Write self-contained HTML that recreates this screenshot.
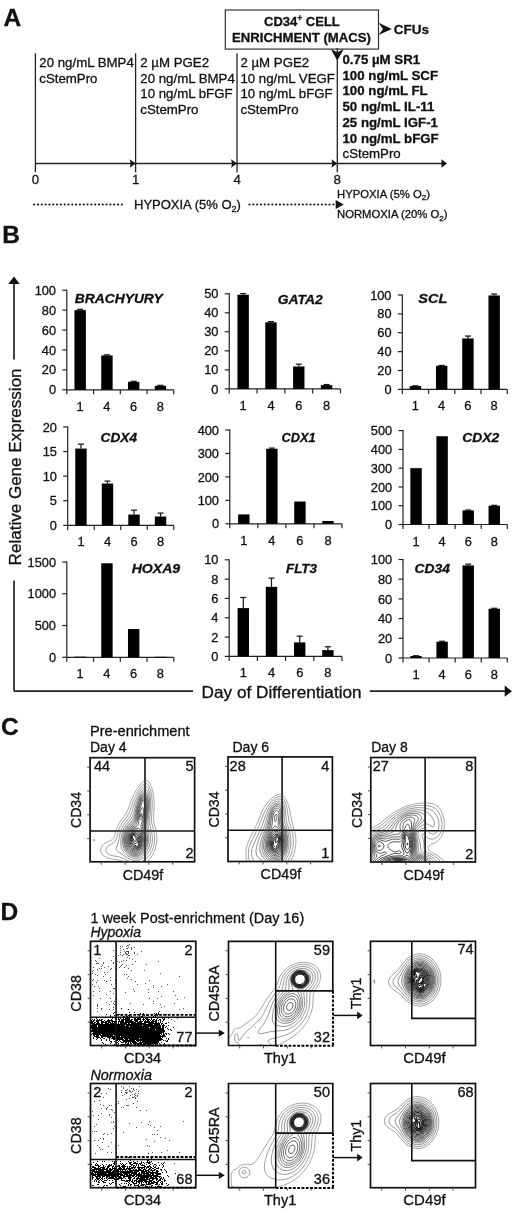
<!DOCTYPE html>
<html><head><meta charset="utf-8"><style>
html,body{margin:0;padding:0;background:#fff;}
svg{display:block;filter:grayscale(1);}
svg text{font-family:"Liberation Sans", sans-serif;fill:#111;stroke:#111;stroke-width:0.3px;}
</style></head><body>
<svg width="520" height="1214" viewBox="0 0 520 1214">
<rect width="520" height="1214" fill="#fff"/>
<text x="3.5" y="25.9" font-size="24.5" font-weight="bold">A</text>
<line x1="35.4" y1="53.3" x2="35.4" y2="172.3" stroke="#222" stroke-width="1.3"/>
<line x1="135.6" y1="53.3" x2="135.6" y2="172.3" stroke="#222" stroke-width="1.3"/>
<line x1="237.0" y1="53.3" x2="237.0" y2="172.3" stroke="#222" stroke-width="1.3"/>
<line x1="337.3" y1="48" x2="337.3" y2="172.3" stroke="#222" stroke-width="1.3"/>
<line x1="35.4" y1="163.5" x2="442" y2="163.5" stroke="#222" stroke-width="1.3"/>
<path d="M135.6,163.5 L129.6,159.2 L130.79999999999998,163.5 L129.6,167.8 Z" fill="#111"/>
<path d="M237.0,163.5 L231.0,159.2 L232.2,163.5 L231.0,167.8 Z" fill="#111"/>
<path d="M337.3,163.5 L331.3,159.2 L332.5,163.5 L331.3,167.8 Z" fill="#111"/>
<path d="M447,163.5 L441.5,159.3 L441.5,167.7 Z" fill="#111"/>
<text x="35.5" y="184" font-size="13.25" text-anchor="middle">0</text>
<text x="135.8" y="184" font-size="13.25" text-anchor="middle">1</text>
<text x="237.1" y="184" font-size="13.25" text-anchor="middle">4</text>
<text x="337.3" y="184" font-size="13.25" text-anchor="middle">8</text>
<text x="39.3" y="67.0" font-size="13.25">20 ng/mL BMP4</text>
<text x="39.3" y="82.6" font-size="13.25">cStemPro</text>
<text x="140.3" y="67.1" font-size="13.25">2 µM PGE2</text>
<text x="140.3" y="82.7" font-size="13.25">20 ng/mL BMP4</text>
<text x="140.3" y="98.3" font-size="13.25">10 ng/mL bFGF</text>
<text x="140.3" y="113.9" font-size="13.25">cStemPro</text>
<text x="240.4" y="67.0" font-size="13.25">2 µM PGE2</text>
<text x="240.4" y="82.6" font-size="13.25">10 ng/mL VEGF</text>
<text x="240.4" y="98.2" font-size="13.25">10 ng/mL bFGF</text>
<text x="240.4" y="113.8" font-size="13.25">cStemPro</text>
<text x="342.5" y="63.8" font-size="13.25" font-weight="bold">0.75 µM SR1</text>
<text x="342.5" y="79.55" font-size="13.25" font-weight="bold">100 ng/mL SCF</text>
<text x="342.5" y="95.3" font-size="13.25" font-weight="bold">100 ng/mL FL</text>
<text x="342.5" y="111.05" font-size="13.25" font-weight="bold">50 ng/mL IL-11</text>
<text x="342.5" y="126.8" font-size="13.25" font-weight="bold">25 ng/mL IGF-1</text>
<text x="342.5" y="142.55" font-size="13.25" font-weight="bold">10 ng/mL bFGF</text>
<text x="342.5" y="158.3" font-size="13.25">cStemPro</text>
<rect x="225.3" y="10" width="153.2" height="39.1" fill="none" stroke="#333" stroke-width="1.2"/>
<text x="264" y="26.2" font-size="13" font-weight="bold">CD34<tspan font-size="8.5" dy="-5">+</tspan><tspan dy="5"> CELL</tspan></text>
<text x="232" y="42.2" font-size="13" font-weight="bold" textLength="139" lengthAdjust="spacingAndGlyphs">ENRICHMENT (MACS)</text>
<path d="M378.5,22.7 L391.8,28.9 L378.5,35.1 L383.0,28.9 Z" fill="#111"/>
<text x="393.8" y="33.8" font-size="13.5" font-weight="bold">CFUs</text>
<path d="M330.90000000000003,49.3 L337.3,60.5 L343.7,49.3 L337.3,52.3 Z" fill="#111"/>
<line x1="34.2" y1="204.5" x2="125.5" y2="204.5" stroke="#111" stroke-width="2.1" stroke-linecap="round" stroke-dasharray="0.01,3.8"/>
<text x="134" y="209.4" font-size="13">HYPOXIA (5% O<tspan font-size="9" dy="3">2</tspan><tspan dy="-3">)</tspan></text>
<line x1="249.5" y1="204.5" x2="336" y2="204.5" stroke="#111" stroke-width="2.1" stroke-linecap="round" stroke-dasharray="0.01,3.8"/>
<path d="M343.7,204.5 L335.7,200.0 L335.7,209.0 Z" fill="#111"/>
<text x="337" y="197.5" font-size="11.3">HYPOXIA (5% O<tspan font-size="8" dy="2.5">2</tspan><tspan dy="-2.5">)</tspan></text>
<text x="337" y="218" font-size="11.3">NORMOXIA (20% O<tspan font-size="8" dy="2.5">2</tspan><tspan dy="-2.5">)</tspan></text>
<text x="2.2" y="243.4" font-size="24.5" font-weight="bold">B</text>
<line x1="14.0" y1="284" x2="14.0" y2="359.6" stroke="#222" stroke-width="1.7"/>
<path d="M14.0,276.5 L8.3,284 L19.7,284 Z" fill="#111"/>
<text transform="translate(20.6,565.4) rotate(-90)" font-size="16.5" textLength="197" lengthAdjust="spacingAndGlyphs">Relative Gene Expression</text>
<line x1="14.0" y1="580.4" x2="14.0" y2="691.2" stroke="#222" stroke-width="1.7"/>
<line x1="14.0" y1="691.2" x2="193" y2="691.2" stroke="#222" stroke-width="1.7"/>
<text x="201.6" y="698.2" font-size="16.5" textLength="160" lengthAdjust="spacingAndGlyphs">Day of Differentiation</text>
<line x1="369.8" y1="691.2" x2="506" y2="691.2" stroke="#222" stroke-width="1.7"/>
<path d="M512,691.2 L504.7,685.6 L504.7,696.8000000000001 Z" fill="#111"/>
<line x1="66.8" y1="289.7" x2="66.8" y2="389.8" stroke="#222" stroke-width="1.2"/>
<line x1="62.3" y1="389.8" x2="66.8" y2="389.8" stroke="#222" stroke-width="1.2"/>
<text x="56.0" y="394.4" font-size="12.8" text-anchor="end">0</text>
<line x1="62.3" y1="369.88" x2="66.8" y2="369.88" stroke="#222" stroke-width="1.2"/>
<text x="56.0" y="374.48" font-size="12.8" text-anchor="end">20</text>
<line x1="62.3" y1="349.96" x2="66.8" y2="349.96" stroke="#222" stroke-width="1.2"/>
<text x="56.0" y="354.56" font-size="12.8" text-anchor="end">40</text>
<line x1="62.3" y1="330.04" x2="66.8" y2="330.04" stroke="#222" stroke-width="1.2"/>
<text x="56.0" y="334.64" font-size="12.8" text-anchor="end">60</text>
<line x1="62.3" y1="310.12" x2="66.8" y2="310.12" stroke="#222" stroke-width="1.2"/>
<text x="56.0" y="314.72" font-size="12.8" text-anchor="end">80</text>
<line x1="62.3" y1="290.2" x2="66.8" y2="290.2" stroke="#222" stroke-width="1.2"/>
<text x="56.0" y="294.8" font-size="12.8" text-anchor="end">100</text>
<line x1="66.8" y1="389.8" x2="173.8" y2="389.8" stroke="#222" stroke-width="1.2"/>
<line x1="66.8" y1="389.8" x2="66.8" y2="394.3" stroke="#222" stroke-width="1.2"/>
<line x1="93.55" y1="389.8" x2="93.55" y2="394.3" stroke="#222" stroke-width="1.2"/>
<line x1="120.30000000000001" y1="389.8" x2="120.30000000000001" y2="394.3" stroke="#222" stroke-width="1.2"/>
<line x1="147.05" y1="389.8" x2="147.05" y2="394.3" stroke="#222" stroke-width="1.2"/>
<line x1="173.8" y1="389.8" x2="173.8" y2="394.3" stroke="#222" stroke-width="1.2"/>
<rect x="74.47" y="310.12" width="11.4" height="79.68" fill="#000"/>
<line x1="80.17" y1="310.12" x2="80.17" y2="309.32" stroke="#111" stroke-width="1.2"/>
<line x1="77.17" y1="309.32" x2="83.17" y2="309.32" stroke="#111" stroke-width="1.2"/>
<text x="80.17" y="410.8" font-size="12.8" text-anchor="middle">1</text>
<rect x="101.23" y="355.44" width="11.4" height="34.36" fill="#000"/>
<line x1="106.93" y1="355.44" x2="106.93" y2="354.84" stroke="#111" stroke-width="1.2"/>
<line x1="103.93" y1="354.84" x2="109.93" y2="354.84" stroke="#111" stroke-width="1.2"/>
<text x="106.93" y="410.8" font-size="12.8" text-anchor="middle">4</text>
<rect x="127.98" y="381.83" width="11.4" height="7.97" fill="#000"/>
<line x1="133.68" y1="381.83" x2="133.68" y2="381.33" stroke="#111" stroke-width="1.2"/>
<line x1="130.68" y1="381.33" x2="136.68" y2="381.33" stroke="#111" stroke-width="1.2"/>
<text x="133.68" y="410.8" font-size="12.8" text-anchor="middle">6</text>
<rect x="154.73" y="385.82" width="11.4" height="3.98" fill="#000"/>
<line x1="160.43" y1="385.82" x2="160.43" y2="385.32" stroke="#111" stroke-width="1.2"/>
<line x1="157.43" y1="385.32" x2="163.43" y2="385.32" stroke="#111" stroke-width="1.2"/>
<text x="160.43" y="410.8" font-size="12.8" text-anchor="middle">8</text>
<text x="74.8" y="303" font-size="13" font-weight="bold" font-style="italic" textLength="88" lengthAdjust="spacingAndGlyphs">BRACHYURY</text>
<line x1="229.25" y1="293.3" x2="229.25" y2="388.9" stroke="#222" stroke-width="1.2"/>
<line x1="224.75" y1="388.9" x2="229.25" y2="388.9" stroke="#222" stroke-width="1.2"/>
<text x="218.45" y="393.5" font-size="12.8" text-anchor="end">0</text>
<line x1="224.75" y1="369.88" x2="229.25" y2="369.88" stroke="#222" stroke-width="1.2"/>
<text x="218.45" y="374.48" font-size="12.8" text-anchor="end">10</text>
<line x1="224.75" y1="350.86" x2="229.25" y2="350.86" stroke="#222" stroke-width="1.2"/>
<text x="218.45" y="355.46" font-size="12.8" text-anchor="end">20</text>
<line x1="224.75" y1="331.84000000000003" x2="229.25" y2="331.84000000000003" stroke="#222" stroke-width="1.2"/>
<text x="218.45" y="336.44" font-size="12.8" text-anchor="end">30</text>
<line x1="224.75" y1="312.82" x2="229.25" y2="312.82" stroke="#222" stroke-width="1.2"/>
<text x="218.45" y="317.42" font-size="12.8" text-anchor="end">40</text>
<line x1="224.75" y1="293.8" x2="229.25" y2="293.8" stroke="#222" stroke-width="1.2"/>
<text x="218.45" y="298.4" font-size="12.8" text-anchor="end">50</text>
<line x1="229.25" y1="388.9" x2="340.5" y2="388.9" stroke="#222" stroke-width="1.2"/>
<line x1="229.25" y1="388.9" x2="229.25" y2="393.4" stroke="#222" stroke-width="1.2"/>
<line x1="257.0625" y1="388.9" x2="257.0625" y2="393.4" stroke="#222" stroke-width="1.2"/>
<line x1="284.875" y1="388.9" x2="284.875" y2="393.4" stroke="#222" stroke-width="1.2"/>
<line x1="312.6875" y1="388.9" x2="312.6875" y2="393.4" stroke="#222" stroke-width="1.2"/>
<line x1="340.5" y1="388.9" x2="340.5" y2="393.4" stroke="#222" stroke-width="1.2"/>
<rect x="237.46" y="294.75" width="11.4" height="94.15" fill="#000"/>
<line x1="243.16" y1="294.75" x2="243.16" y2="293.61" stroke="#111" stroke-width="1.2"/>
<line x1="240.16" y1="293.61" x2="246.16" y2="293.61" stroke="#111" stroke-width="1.2"/>
<text x="243.16" y="409.9" font-size="12.8" text-anchor="middle">1</text>
<rect x="265.27" y="322.33" width="11.4" height="66.57" fill="#000"/>
<line x1="270.97" y1="322.33" x2="270.97" y2="321.57" stroke="#111" stroke-width="1.2"/>
<line x1="267.97" y1="321.57" x2="273.97" y2="321.57" stroke="#111" stroke-width="1.2"/>
<text x="270.97" y="409.9" font-size="12.8" text-anchor="middle">4</text>
<rect x="293.08" y="366.46" width="11.4" height="22.44" fill="#000"/>
<line x1="298.78" y1="366.46" x2="298.78" y2="364.17" stroke="#111" stroke-width="1.2"/>
<line x1="295.78" y1="364.17" x2="301.78" y2="364.17" stroke="#111" stroke-width="1.2"/>
<text x="298.78" y="409.9" font-size="12.8" text-anchor="middle">6</text>
<rect x="320.89" y="385.10" width="11.4" height="3.80" fill="#000"/>
<line x1="326.59" y1="385.10" x2="326.59" y2="384.53" stroke="#111" stroke-width="1.2"/>
<line x1="323.59" y1="384.53" x2="329.59" y2="384.53" stroke="#111" stroke-width="1.2"/>
<text x="326.59" y="409.9" font-size="12.8" text-anchor="middle">8</text>
<text x="277.8" y="303.7" font-size="13" font-weight="bold" font-style="italic" textLength="45" lengthAdjust="spacingAndGlyphs">GATA2</text>
<line x1="402.3" y1="294.5" x2="402.3" y2="389.4" stroke="#222" stroke-width="1.2"/>
<line x1="397.8" y1="389.4" x2="402.3" y2="389.4" stroke="#222" stroke-width="1.2"/>
<text x="391.5" y="394.0" font-size="12.8" text-anchor="end">0</text>
<line x1="397.8" y1="370.52" x2="402.3" y2="370.52" stroke="#222" stroke-width="1.2"/>
<text x="391.5" y="375.12" font-size="12.8" text-anchor="end">20</text>
<line x1="397.8" y1="351.64" x2="402.3" y2="351.64" stroke="#222" stroke-width="1.2"/>
<text x="391.5" y="356.24" font-size="12.8" text-anchor="end">40</text>
<line x1="397.8" y1="332.76" x2="402.3" y2="332.76" stroke="#222" stroke-width="1.2"/>
<text x="391.5" y="337.36" font-size="12.8" text-anchor="end">60</text>
<line x1="397.8" y1="313.88" x2="402.3" y2="313.88" stroke="#222" stroke-width="1.2"/>
<text x="391.5" y="318.48" font-size="12.8" text-anchor="end">80</text>
<line x1="397.8" y1="295.0" x2="402.3" y2="295.0" stroke="#222" stroke-width="1.2"/>
<text x="391.5" y="299.6" font-size="12.8" text-anchor="end">100</text>
<line x1="402.3" y1="389.4" x2="507.3" y2="389.4" stroke="#222" stroke-width="1.2"/>
<line x1="402.3" y1="389.4" x2="402.3" y2="393.9" stroke="#222" stroke-width="1.2"/>
<line x1="428.55" y1="389.4" x2="428.55" y2="393.9" stroke="#222" stroke-width="1.2"/>
<line x1="454.8" y1="389.4" x2="454.8" y2="393.9" stroke="#222" stroke-width="1.2"/>
<line x1="481.05" y1="389.4" x2="481.05" y2="393.9" stroke="#222" stroke-width="1.2"/>
<line x1="507.3" y1="389.4" x2="507.3" y2="393.9" stroke="#222" stroke-width="1.2"/>
<rect x="409.73" y="386.10" width="11.4" height="3.30" fill="#000"/>
<line x1="415.43" y1="386.10" x2="415.43" y2="385.81" stroke="#111" stroke-width="1.2"/>
<line x1="412.43" y1="385.81" x2="418.43" y2="385.81" stroke="#111" stroke-width="1.2"/>
<text x="415.43" y="410.4" font-size="12.8" text-anchor="middle">1</text>
<rect x="435.98" y="365.80" width="11.4" height="23.60" fill="#000"/>
<line x1="441.68" y1="365.80" x2="441.68" y2="365.42" stroke="#111" stroke-width="1.2"/>
<line x1="438.68" y1="365.42" x2="444.68" y2="365.42" stroke="#111" stroke-width="1.2"/>
<text x="441.68" y="410.4" font-size="12.8" text-anchor="middle">4</text>
<rect x="462.23" y="338.42" width="11.4" height="50.98" fill="#000"/>
<line x1="467.93" y1="338.42" x2="467.93" y2="336.06" stroke="#111" stroke-width="1.2"/>
<line x1="464.93" y1="336.06" x2="470.93" y2="336.06" stroke="#111" stroke-width="1.2"/>
<text x="467.93" y="410.4" font-size="12.8" text-anchor="middle">6</text>
<rect x="488.48" y="295.47" width="11.4" height="93.93" fill="#000"/>
<line x1="494.18" y1="295.47" x2="494.18" y2="294.06" stroke="#111" stroke-width="1.2"/>
<line x1="491.18" y1="294.06" x2="497.18" y2="294.06" stroke="#111" stroke-width="1.2"/>
<text x="494.18" y="410.4" font-size="12.8" text-anchor="middle">8</text>
<text x="418.3" y="303.2" font-size="13" font-weight="bold" font-style="italic" textLength="29" lengthAdjust="spacingAndGlyphs">SCL</text>
<line x1="67.7" y1="426.4" x2="67.7" y2="525.4" stroke="#222" stroke-width="1.2"/>
<line x1="63.2" y1="525.4" x2="67.7" y2="525.4" stroke="#222" stroke-width="1.2"/>
<text x="56.900000000000006" y="530.0" font-size="12.8" text-anchor="end">0</text>
<line x1="63.2" y1="500.775" x2="67.7" y2="500.775" stroke="#222" stroke-width="1.2"/>
<text x="56.900000000000006" y="505.38" font-size="12.8" text-anchor="end">5</text>
<line x1="63.2" y1="476.15" x2="67.7" y2="476.15" stroke="#222" stroke-width="1.2"/>
<text x="56.900000000000006" y="480.75" font-size="12.8" text-anchor="end">10</text>
<line x1="63.2" y1="451.525" x2="67.7" y2="451.525" stroke="#222" stroke-width="1.2"/>
<text x="56.900000000000006" y="456.12" font-size="12.8" text-anchor="end">15</text>
<line x1="63.2" y1="426.9" x2="67.7" y2="426.9" stroke="#222" stroke-width="1.2"/>
<text x="56.900000000000006" y="431.5" font-size="12.8" text-anchor="end">20</text>
<line x1="67.7" y1="525.4" x2="173.8" y2="525.4" stroke="#222" stroke-width="1.2"/>
<line x1="67.7" y1="525.4" x2="67.7" y2="529.9" stroke="#222" stroke-width="1.2"/>
<line x1="94.22500000000001" y1="525.4" x2="94.22500000000001" y2="529.9" stroke="#222" stroke-width="1.2"/>
<line x1="120.75" y1="525.4" x2="120.75" y2="529.9" stroke="#222" stroke-width="1.2"/>
<line x1="147.275" y1="525.4" x2="147.275" y2="529.9" stroke="#222" stroke-width="1.2"/>
<line x1="173.8" y1="525.4" x2="173.8" y2="529.9" stroke="#222" stroke-width="1.2"/>
<rect x="75.26" y="448.57" width="11.4" height="76.83" fill="#000"/>
<line x1="80.96" y1="448.57" x2="80.96" y2="444.14" stroke="#111" stroke-width="1.2"/>
<line x1="77.96" y1="444.14" x2="83.96" y2="444.14" stroke="#111" stroke-width="1.2"/>
<text x="80.96" y="546.4" font-size="12.8" text-anchor="middle">1</text>
<rect x="101.79" y="483.54" width="11.4" height="41.86" fill="#000"/>
<line x1="107.49" y1="483.54" x2="107.49" y2="481.07" stroke="#111" stroke-width="1.2"/>
<line x1="104.49" y1="481.07" x2="110.49" y2="481.07" stroke="#111" stroke-width="1.2"/>
<text x="107.49" y="546.4" font-size="12.8" text-anchor="middle">4</text>
<rect x="128.31" y="514.56" width="11.4" height="10.84" fill="#000"/>
<line x1="134.01" y1="514.56" x2="134.01" y2="510.13" stroke="#111" stroke-width="1.2"/>
<line x1="131.01" y1="510.13" x2="137.01" y2="510.13" stroke="#111" stroke-width="1.2"/>
<text x="134.01" y="546.4" font-size="12.8" text-anchor="middle">6</text>
<rect x="154.84" y="516.53" width="11.4" height="8.87" fill="#000"/>
<line x1="160.54" y1="516.53" x2="160.54" y2="513.09" stroke="#111" stroke-width="1.2"/>
<line x1="157.54" y1="513.09" x2="163.54" y2="513.09" stroke="#111" stroke-width="1.2"/>
<text x="160.54" y="546.4" font-size="12.8" text-anchor="middle">8</text>
<text x="100.6" y="441.7" font-size="13" font-weight="bold" font-style="italic" textLength="36.4" lengthAdjust="spacingAndGlyphs">CDX4</text>
<line x1="229.8" y1="429.5" x2="229.8" y2="523.8" stroke="#222" stroke-width="1.2"/>
<line x1="225.3" y1="523.8" x2="229.8" y2="523.8" stroke="#222" stroke-width="1.2"/>
<text x="219.0" y="528.4" font-size="12.8" text-anchor="end">0</text>
<line x1="225.3" y1="500.34999999999997" x2="229.8" y2="500.34999999999997" stroke="#222" stroke-width="1.2"/>
<text x="219.0" y="504.95" font-size="12.8" text-anchor="end">100</text>
<line x1="225.3" y1="476.9" x2="229.8" y2="476.9" stroke="#222" stroke-width="1.2"/>
<text x="219.0" y="481.5" font-size="12.8" text-anchor="end">200</text>
<line x1="225.3" y1="453.45" x2="229.8" y2="453.45" stroke="#222" stroke-width="1.2"/>
<text x="219.0" y="458.05" font-size="12.8" text-anchor="end">300</text>
<line x1="225.3" y1="430.0" x2="229.8" y2="430.0" stroke="#222" stroke-width="1.2"/>
<text x="219.0" y="434.6" font-size="12.8" text-anchor="end">400</text>
<line x1="229.8" y1="523.8" x2="342.0" y2="523.8" stroke="#222" stroke-width="1.2"/>
<line x1="229.8" y1="523.8" x2="229.8" y2="528.3" stroke="#222" stroke-width="1.2"/>
<line x1="257.85" y1="523.8" x2="257.85" y2="528.3" stroke="#222" stroke-width="1.2"/>
<line x1="285.9" y1="523.8" x2="285.9" y2="528.3" stroke="#222" stroke-width="1.2"/>
<line x1="313.95" y1="523.8" x2="313.95" y2="528.3" stroke="#222" stroke-width="1.2"/>
<line x1="342.0" y1="523.8" x2="342.0" y2="528.3" stroke="#222" stroke-width="1.2"/>
<rect x="238.13" y="514.42" width="11.4" height="9.38" fill="#000"/>
<text x="243.83" y="544.8" font-size="12.8" text-anchor="middle">1</text>
<rect x="266.18" y="448.76" width="11.4" height="75.04" fill="#000"/>
<line x1="271.88" y1="448.76" x2="271.88" y2="448.06" stroke="#111" stroke-width="1.2"/>
<line x1="268.88" y1="448.06" x2="274.88" y2="448.06" stroke="#111" stroke-width="1.2"/>
<text x="271.88" y="544.8" font-size="12.8" text-anchor="middle">4</text>
<rect x="294.23" y="501.52" width="11.4" height="22.28" fill="#000"/>
<text x="299.93" y="544.8" font-size="12.8" text-anchor="middle">6</text>
<rect x="322.28" y="520.99" width="11.4" height="2.81" fill="#000"/>
<text x="327.98" y="544.8" font-size="12.8" text-anchor="middle">8</text>
<text x="281.5" y="441.7" font-size="13" font-weight="bold" font-style="italic" textLength="34" lengthAdjust="spacingAndGlyphs">CDX1</text>
<line x1="403.0" y1="430.1" x2="403.0" y2="524.5" stroke="#222" stroke-width="1.2"/>
<line x1="398.5" y1="524.5" x2="403.0" y2="524.5" stroke="#222" stroke-width="1.2"/>
<text x="392.2" y="529.1" font-size="12.8" text-anchor="end">0</text>
<line x1="398.5" y1="505.72" x2="403.0" y2="505.72" stroke="#222" stroke-width="1.2"/>
<text x="392.2" y="510.32" font-size="12.8" text-anchor="end">100</text>
<line x1="398.5" y1="486.94" x2="403.0" y2="486.94" stroke="#222" stroke-width="1.2"/>
<text x="392.2" y="491.54" font-size="12.8" text-anchor="end">200</text>
<line x1="398.5" y1="468.16" x2="403.0" y2="468.16" stroke="#222" stroke-width="1.2"/>
<text x="392.2" y="472.76" font-size="12.8" text-anchor="end">300</text>
<line x1="398.5" y1="449.38" x2="403.0" y2="449.38" stroke="#222" stroke-width="1.2"/>
<text x="392.2" y="453.98" font-size="12.8" text-anchor="end">400</text>
<line x1="398.5" y1="430.6" x2="403.0" y2="430.6" stroke="#222" stroke-width="1.2"/>
<text x="392.2" y="435.2" font-size="12.8" text-anchor="end">500</text>
<line x1="403.0" y1="524.5" x2="507.3" y2="524.5" stroke="#222" stroke-width="1.2"/>
<line x1="403.0" y1="524.5" x2="403.0" y2="529.0" stroke="#222" stroke-width="1.2"/>
<line x1="429.075" y1="524.5" x2="429.075" y2="529.0" stroke="#222" stroke-width="1.2"/>
<line x1="455.15" y1="524.5" x2="455.15" y2="529.0" stroke="#222" stroke-width="1.2"/>
<line x1="481.225" y1="524.5" x2="481.225" y2="529.0" stroke="#222" stroke-width="1.2"/>
<line x1="507.3" y1="524.5" x2="507.3" y2="529.0" stroke="#222" stroke-width="1.2"/>
<rect x="410.34" y="468.16" width="11.4" height="56.34" fill="#000"/>
<text x="416.04" y="545.5" font-size="12.8" text-anchor="middle">1</text>
<rect x="436.41" y="436.23" width="11.4" height="88.27" fill="#000"/>
<text x="442.11" y="545.5" font-size="12.8" text-anchor="middle">4</text>
<rect x="462.49" y="510.42" width="11.4" height="14.08" fill="#000"/>
<line x1="468.19" y1="510.42" x2="468.19" y2="510.04" stroke="#111" stroke-width="1.2"/>
<line x1="465.19" y1="510.04" x2="471.19" y2="510.04" stroke="#111" stroke-width="1.2"/>
<text x="468.19" y="545.5" font-size="12.8" text-anchor="middle">6</text>
<rect x="488.56" y="505.72" width="11.4" height="18.78" fill="#000"/>
<line x1="494.26" y1="505.72" x2="494.26" y2="505.34" stroke="#111" stroke-width="1.2"/>
<line x1="491.26" y1="505.34" x2="497.26" y2="505.34" stroke="#111" stroke-width="1.2"/>
<text x="494.26" y="545.5" font-size="12.8" text-anchor="middle">8</text>
<text x="462.3" y="441.5" font-size="13" font-weight="bold" font-style="italic" textLength="37" lengthAdjust="spacingAndGlyphs">CDX2</text>
<line x1="66.8" y1="561.5" x2="66.8" y2="657.3" stroke="#222" stroke-width="1.2"/>
<line x1="62.3" y1="657.3" x2="66.8" y2="657.3" stroke="#222" stroke-width="1.2"/>
<text x="56.0" y="661.9" font-size="12.8" text-anchor="end">0</text>
<line x1="62.3" y1="625.5333333333333" x2="66.8" y2="625.5333333333333" stroke="#222" stroke-width="1.2"/>
<text x="56.0" y="630.13" font-size="12.8" text-anchor="end">500</text>
<line x1="62.3" y1="593.7666666666667" x2="66.8" y2="593.7666666666667" stroke="#222" stroke-width="1.2"/>
<text x="56.0" y="598.37" font-size="12.8" text-anchor="end">1000</text>
<line x1="62.3" y1="562.0" x2="66.8" y2="562.0" stroke="#222" stroke-width="1.2"/>
<text x="56.0" y="566.6" font-size="12.8" text-anchor="end">1500</text>
<line x1="66.8" y1="657.3" x2="173.8" y2="657.3" stroke="#222" stroke-width="1.2"/>
<line x1="66.8" y1="657.3" x2="66.8" y2="661.8" stroke="#222" stroke-width="1.2"/>
<line x1="93.55" y1="657.3" x2="93.55" y2="661.8" stroke="#222" stroke-width="1.2"/>
<line x1="120.30000000000001" y1="657.3" x2="120.30000000000001" y2="661.8" stroke="#222" stroke-width="1.2"/>
<line x1="147.05" y1="657.3" x2="147.05" y2="661.8" stroke="#222" stroke-width="1.2"/>
<line x1="173.8" y1="657.3" x2="173.8" y2="661.8" stroke="#222" stroke-width="1.2"/>
<rect x="74.47" y="656.66" width="11.4" height="0.64" fill="#000"/>
<text x="80.17" y="678.3" font-size="12.8" text-anchor="middle">1</text>
<rect x="101.23" y="563.27" width="11.4" height="94.03" fill="#000"/>
<text x="106.93" y="678.3" font-size="12.8" text-anchor="middle">4</text>
<rect x="127.98" y="629.03" width="11.4" height="28.27" fill="#000"/>
<text x="133.68" y="678.3" font-size="12.8" text-anchor="middle">6</text>
<rect x="154.73" y="656.79" width="11.4" height="0.51" fill="#000"/>
<text x="160.43" y="678.3" font-size="12.8" text-anchor="middle">8</text>
<text x="131.7" y="572.6" font-size="13" font-weight="bold" font-style="italic" textLength="48.5" lengthAdjust="spacingAndGlyphs">HOXA9</text>
<line x1="229.2" y1="559.3" x2="229.2" y2="656.4" stroke="#222" stroke-width="1.2"/>
<line x1="224.7" y1="656.4" x2="229.2" y2="656.4" stroke="#222" stroke-width="1.2"/>
<text x="218.39999999999998" y="661.0" font-size="12.8" text-anchor="end">0</text>
<line x1="224.7" y1="637.0799999999999" x2="229.2" y2="637.0799999999999" stroke="#222" stroke-width="1.2"/>
<text x="218.39999999999998" y="641.68" font-size="12.8" text-anchor="end">2</text>
<line x1="224.7" y1="617.76" x2="229.2" y2="617.76" stroke="#222" stroke-width="1.2"/>
<text x="218.39999999999998" y="622.36" font-size="12.8" text-anchor="end">4</text>
<line x1="224.7" y1="598.4399999999999" x2="229.2" y2="598.4399999999999" stroke="#222" stroke-width="1.2"/>
<text x="218.39999999999998" y="603.04" font-size="12.8" text-anchor="end">6</text>
<line x1="224.7" y1="579.12" x2="229.2" y2="579.12" stroke="#222" stroke-width="1.2"/>
<text x="218.39999999999998" y="583.72" font-size="12.8" text-anchor="end">8</text>
<line x1="224.7" y1="559.8" x2="229.2" y2="559.8" stroke="#222" stroke-width="1.2"/>
<text x="218.39999999999998" y="564.4" font-size="12.8" text-anchor="end">10</text>
<line x1="229.2" y1="656.4" x2="342.0" y2="656.4" stroke="#222" stroke-width="1.2"/>
<line x1="229.2" y1="656.4" x2="229.2" y2="660.9" stroke="#222" stroke-width="1.2"/>
<line x1="257.4" y1="656.4" x2="257.4" y2="660.9" stroke="#222" stroke-width="1.2"/>
<line x1="285.6" y1="656.4" x2="285.6" y2="660.9" stroke="#222" stroke-width="1.2"/>
<line x1="313.8" y1="656.4" x2="313.8" y2="660.9" stroke="#222" stroke-width="1.2"/>
<line x1="342.0" y1="656.4" x2="342.0" y2="660.9" stroke="#222" stroke-width="1.2"/>
<rect x="237.60" y="608.10" width="11.4" height="48.30" fill="#000"/>
<line x1="243.30" y1="608.10" x2="243.30" y2="597.47" stroke="#111" stroke-width="1.2"/>
<line x1="240.30" y1="597.47" x2="246.30" y2="597.47" stroke="#111" stroke-width="1.2"/>
<text x="243.30" y="677.4" font-size="12.8" text-anchor="middle">1</text>
<rect x="265.80" y="586.85" width="11.4" height="69.55" fill="#000"/>
<line x1="271.50" y1="586.85" x2="271.50" y2="578.15" stroke="#111" stroke-width="1.2"/>
<line x1="268.50" y1="578.15" x2="274.50" y2="578.15" stroke="#111" stroke-width="1.2"/>
<text x="271.50" y="677.4" font-size="12.8" text-anchor="middle">4</text>
<rect x="294.00" y="642.39" width="11.4" height="14.01" fill="#000"/>
<line x1="299.70" y1="642.39" x2="299.70" y2="636.11" stroke="#111" stroke-width="1.2"/>
<line x1="296.70" y1="636.11" x2="302.70" y2="636.11" stroke="#111" stroke-width="1.2"/>
<text x="299.70" y="677.4" font-size="12.8" text-anchor="middle">6</text>
<rect x="322.20" y="650.12" width="11.4" height="6.28" fill="#000"/>
<line x1="327.90" y1="650.12" x2="327.90" y2="646.74" stroke="#111" stroke-width="1.2"/>
<line x1="324.90" y1="646.74" x2="330.90" y2="646.74" stroke="#111" stroke-width="1.2"/>
<text x="327.90" y="677.4" font-size="12.8" text-anchor="middle">8</text>
<text x="286" y="573" font-size="13" font-weight="bold" font-style="italic" textLength="31" lengthAdjust="spacingAndGlyphs">FLT3</text>
<line x1="403.0" y1="559.0" x2="403.0" y2="658.0" stroke="#222" stroke-width="1.2"/>
<line x1="398.5" y1="658.0" x2="403.0" y2="658.0" stroke="#222" stroke-width="1.2"/>
<text x="392.2" y="662.6" font-size="12.8" text-anchor="end">0</text>
<line x1="398.5" y1="638.3" x2="403.0" y2="638.3" stroke="#222" stroke-width="1.2"/>
<text x="392.2" y="642.9" font-size="12.8" text-anchor="end">20</text>
<line x1="398.5" y1="618.6" x2="403.0" y2="618.6" stroke="#222" stroke-width="1.2"/>
<text x="392.2" y="623.2" font-size="12.8" text-anchor="end">40</text>
<line x1="398.5" y1="598.9" x2="403.0" y2="598.9" stroke="#222" stroke-width="1.2"/>
<text x="392.2" y="603.5" font-size="12.8" text-anchor="end">60</text>
<line x1="398.5" y1="579.2" x2="403.0" y2="579.2" stroke="#222" stroke-width="1.2"/>
<text x="392.2" y="583.8" font-size="12.8" text-anchor="end">80</text>
<line x1="398.5" y1="559.5" x2="403.0" y2="559.5" stroke="#222" stroke-width="1.2"/>
<text x="392.2" y="564.1" font-size="12.8" text-anchor="end">100</text>
<line x1="403.0" y1="658.0" x2="507.3" y2="658.0" stroke="#222" stroke-width="1.2"/>
<line x1="403.0" y1="658.0" x2="403.0" y2="662.5" stroke="#222" stroke-width="1.2"/>
<line x1="429.075" y1="658.0" x2="429.075" y2="662.5" stroke="#222" stroke-width="1.2"/>
<line x1="455.15" y1="658.0" x2="455.15" y2="662.5" stroke="#222" stroke-width="1.2"/>
<line x1="481.225" y1="658.0" x2="481.225" y2="662.5" stroke="#222" stroke-width="1.2"/>
<line x1="507.3" y1="658.0" x2="507.3" y2="662.5" stroke="#222" stroke-width="1.2"/>
<rect x="410.34" y="656.03" width="11.4" height="1.97" fill="#000"/>
<line x1="416.04" y1="656.03" x2="416.04" y2="655.73" stroke="#111" stroke-width="1.2"/>
<line x1="413.04" y1="655.73" x2="419.04" y2="655.73" stroke="#111" stroke-width="1.2"/>
<text x="416.04" y="679.0" font-size="12.8" text-anchor="middle">1</text>
<rect x="436.41" y="641.75" width="11.4" height="16.25" fill="#000"/>
<line x1="442.11" y1="641.75" x2="442.11" y2="641.25" stroke="#111" stroke-width="1.2"/>
<line x1="439.11" y1="641.25" x2="445.11" y2="641.25" stroke="#111" stroke-width="1.2"/>
<text x="442.11" y="679.0" font-size="12.8" text-anchor="middle">4</text>
<rect x="462.49" y="565.41" width="11.4" height="92.59" fill="#000"/>
<line x1="468.19" y1="565.41" x2="468.19" y2="564.13" stroke="#111" stroke-width="1.2"/>
<line x1="465.19" y1="564.13" x2="471.19" y2="564.13" stroke="#111" stroke-width="1.2"/>
<text x="468.19" y="679.0" font-size="12.8" text-anchor="middle">6</text>
<rect x="488.56" y="608.75" width="11.4" height="49.25" fill="#000"/>
<line x1="494.26" y1="608.75" x2="494.26" y2="608.26" stroke="#111" stroke-width="1.2"/>
<line x1="491.26" y1="608.26" x2="497.26" y2="608.26" stroke="#111" stroke-width="1.2"/>
<text x="494.26" y="679.0" font-size="12.8" text-anchor="middle">8</text>
<text x="414.6" y="573" font-size="13" font-weight="bold" font-style="italic" textLength="35.4" lengthAdjust="spacingAndGlyphs">CD34</text>
<text x="1.1" y="734.8" font-size="24.5" font-weight="bold">C</text>
<text x="90.0" y="735.5" font-size="14" textLength="99.6" lengthAdjust="spacingAndGlyphs">Pre-enrichment</text>
<text x="90.0" y="752" font-size="14">Day 4</text>
<text x="232.5" y="751.5" font-size="14">Day 6</text>
<text x="371.2" y="751.5" font-size="14">Day 8</text>
<rect x="90.1" y="757.7" width="104.5" height="104.1" fill="none" stroke="#111" stroke-width="1.7"/>
<line x1="145.0" y1="757.7" x2="145.0" y2="861.8" stroke="#111" stroke-width="1.6"/>
<line x1="90.1" y1="831.0" x2="194.6" y2="831.0" stroke="#111" stroke-width="1.6"/>
<text x="94.0" y="770.9" font-size="14.5">44</text>
<text x="193.6" y="770.9" font-size="14.5" text-anchor="end">5</text>
<text x="193.6" y="858.3" font-size="14.5" text-anchor="end">2</text>
<text transform="translate(81.2,810.0) rotate(-90)" font-size="14.1" text-anchor="middle">CD34</text>
<text x="143.0" y="879.5999999999999" font-size="14" text-anchor="middle" textLength="40.6" lengthAdjust="spacingAndGlyphs">CD49f</text>
<rect x="228.0" y="756.9" width="104.4" height="104.6" fill="none" stroke="#111" stroke-width="1.7"/>
<line x1="282.1" y1="756.9" x2="282.1" y2="861.5" stroke="#111" stroke-width="1.6"/>
<line x1="228.0" y1="830.2" x2="332.4" y2="830.2" stroke="#111" stroke-width="1.6"/>
<text x="229.6" y="770.9" font-size="14.5">28</text>
<text x="329.3" y="770.9" font-size="14.5" text-anchor="end">4</text>
<text x="329.3" y="858.0" font-size="14.5" text-anchor="end">1</text>
<text transform="translate(219.1,809.5) rotate(-90)" font-size="14.1" text-anchor="middle">CD34</text>
<text x="280.9" y="879.3" font-size="14" text-anchor="middle" textLength="40.6" lengthAdjust="spacingAndGlyphs">CD49f</text>
<rect x="370.8" y="757.5" width="104.6" height="104.5" fill="none" stroke="#111" stroke-width="1.7"/>
<line x1="425.1" y1="757.5" x2="425.1" y2="862.0" stroke="#111" stroke-width="1.6"/>
<line x1="370.8" y1="830.7" x2="475.4" y2="830.7" stroke="#111" stroke-width="1.6"/>
<text x="372.8" y="770.9" font-size="14.5">27</text>
<text x="473.4" y="770.9" font-size="14.5" text-anchor="end">8</text>
<text x="473.4" y="858.5" font-size="14.5" text-anchor="end">2</text>
<text transform="translate(361.9,810.0) rotate(-90)" font-size="14.1" text-anchor="middle">CD34</text>
<text x="423.8" y="879.8" font-size="14" text-anchor="middle" textLength="40.6" lengthAdjust="spacingAndGlyphs">CD49f</text>
<text x="0.5" y="920.2" font-size="24.5" font-weight="bold">D</text>
<text x="90.4" y="922.7" font-size="14" textLength="213.8" lengthAdjust="spacingAndGlyphs">1 week Post-enrichment (Day 16)</text>
<text x="90.4" y="937" font-size="14" font-style="italic">Hypoxia</text>
<text x="90.4" y="1080.2" font-size="14" font-style="italic" textLength="61.5" lengthAdjust="spacingAndGlyphs">Normoxia</text>
<clipPath id="c1"><rect x="90.1" y="757.7" width="104.5" height="104.1"/></clipPath>
<g fill="none" clip-path="url(#c1)">
<path d="M137.6,865.2 134.6,865.3 131.6,864.8 128.6,863.8 122.8,861.2 120.1,860.3 117.6,859.7 111.1,858.9 108.6,858.2 106.6,857.5 103.7,855.7 101.8,853.7 100.9,851.7 100.7,850.7 100.7,849.2 100.9,848.2 101.6,846.7 102.3,845.7 103.6,844.3 106.0,842.7 111.6,839.9 112.6,839.1 113.6,838.0 114.6,835.9 116.4,829.7 118.0,825.7 120.2,821.7 125.1,815.0 127.1,811.7 128.1,809.2 131.8,798.7 134.8,792.7 138.2,787.2 141.4,783.2 142.6,782.0 144.1,780.9 145.1,780.5 146.1,780.4 147.1,780.6 148.1,781.2 149.1,782.2 150.3,784.2 151.9,788.2 153.4,794.7 154.0,798.7 154.2,803.7 154.2,807.7 153.6,816.2 153.6,819.7 154.1,823.3 155.9,830.2 156.5,833.7 156.9,838.2 156.7,842.2 156.0,846.7 154.5,851.2 152.4,855.2 150.2,858.2 147.6,860.8 144.6,862.9 141.1,864.5 137.6,865.2 M94.1,841.3 93.6,840.9 93.5,840.2 93.6,839.4 94.1,839.0 94.6,839.7 94.6,840.2 94.5,840.7 94.1,841.3" stroke="#606060" stroke-width="0.55"/>
<path d="M136.6,862.7 133.6,862.6 131.1,862.1 128.1,860.9 123.1,858.4 120.6,857.3 118.1,856.6 112.6,855.7 110.1,855.0 108.1,853.9 106.8,852.7 106.0,851.2 105.8,849.7 106.2,848.2 107.3,846.7 109.1,845.3 113.6,842.7 114.6,841.8 115.6,840.4 116.6,838.0 118.3,831.2 119.8,827.2 122.3,822.7 127.1,816.3 128.7,813.7 130.1,810.4 133.8,799.7 136.9,793.2 139.9,788.2 142.1,785.4 144.1,783.9 145.1,783.5 146.1,783.5 147.1,783.9 148.1,784.8 149.5,787.2 150.9,791.2 151.8,796.2 152.2,800.7 152.3,805.2 151.5,817.2 151.5,820.7 152.0,824.2 153.8,831.2 154.4,834.7 154.7,838.7 154.4,842.7 153.8,846.2 152.4,850.2 150.5,853.7 148.2,856.7 145.6,859.2 142.6,861.1 139.6,862.2 136.6,862.7" stroke="#5b5b5b" stroke-width="0.58"/>
<path d="M137.1,860.3 135.1,860.4 132.6,860.1 130.6,859.5 128.1,858.3 117.5,851.2 116.6,850.2 116.3,849.7 116.2,848.7 118.2,842.7 120.3,832.2 122.0,827.7 124.0,824.2 129.1,817.7 130.9,814.7 132.1,811.7 134.3,804.2 135.9,799.7 137.8,795.2 139.4,792.2 141.1,789.5 142.6,787.8 144.1,786.8 145.6,786.6 146.6,787.0 147.1,787.4 148.6,789.7 149.7,793.2 150.4,797.2 150.7,801.7 150.7,805.7 150.4,810.7 149.6,818.7 149.6,822.2 150.1,825.7 151.5,831.2 152.1,834.7 152.4,838.2 152.3,841.7 151.8,844.7 150.7,848.2 149.3,851.2 147.2,854.2 145.1,856.4 142.6,858.3 140.1,859.5 137.1,860.3" stroke="#565656" stroke-width="0.61"/>
<path d="M137.1,858.3 135.6,858.4 133.6,858.3 132.1,857.9 130.1,857.1 128.1,856.0 126.6,854.9 123.4,851.7 121.8,849.2 121.0,846.7 120.8,843.2 121.0,838.2 121.9,833.2 122.7,830.7 123.8,828.2 126.4,824.2 131.2,818.7 132.6,816.3 133.6,813.3 136.3,802.7 137.8,798.7 139.3,795.2 140.7,792.7 142.1,790.9 143.6,789.7 145.1,789.3 146.1,789.7 146.6,790.1 147.8,792.2 148.8,795.2 149.4,799.2 149.6,803.2 149.5,807.7 148.1,820.2 148.0,823.7 148.3,826.7 149.8,832.7 150.3,835.7 150.4,838.7 150.3,841.7 149.7,844.7 148.7,847.7 147.5,850.2 145.9,852.7 144.0,854.7 141.6,856.6 139.6,857.6 137.1,858.3" stroke="#515151" stroke-width="0.63"/>
<path d="M136.1,856.8 133.1,856.5 130.1,855.4 127.2,853.2 125.1,850.7 123.5,847.7 122.7,844.7 122.4,840.7 122.7,836.7 123.7,832.2 125.5,828.2 127.7,825.2 132.1,820.7 133.6,818.2 134.6,814.9 136.9,804.7 138.3,800.2 139.8,796.7 140.9,794.7 142.1,793.1 143.6,791.9 144.6,791.7 145.6,792.1 146.1,792.5 147.1,794.1 147.9,796.7 148.5,800.7 148.6,804.7 148.5,809.2 146.9,821.2 146.7,824.7 147.0,828.2 148.3,833.7 148.6,836.2 148.8,839.2 148.5,842.2 147.9,845.2 147.0,847.7 145.6,850.2 144.2,852.2 142.6,853.8 140.6,855.3 138.1,856.4 136.1,856.8" stroke="#4c4c4c" stroke-width="0.66"/>
<path d="M137.6,855.3 136.1,855.6 134.6,855.6 132.1,855.1 130.6,854.4 129.1,853.4 126.9,851.2 125.3,848.7 124.0,845.2 123.5,841.2 123.6,837.2 124.0,835.2 124.6,832.7 125.4,830.7 126.5,828.7 128.8,825.7 133.1,821.7 134.3,819.7 135.1,817.0 137.4,805.7 138.8,801.2 140.4,797.2 141.6,795.2 142.6,794.1 143.6,793.6 144.6,793.6 145.6,794.2 146.8,796.2 147.5,799.2 147.9,802.7 147.9,806.2 147.7,810.2 146.0,822.2 145.7,825.7 146.0,828.7 147.4,836.2 147.6,839.2 147.4,841.7 147.0,844.2 146.3,846.2 145.2,848.7 143.9,850.7 142.6,852.3 141.1,853.6 139.6,854.5 137.6,855.3" stroke="#474747" stroke-width="0.69"/>
<path d="M137.1,854.3 134.6,854.5 132.1,853.9 129.6,852.5 127.4,850.2 125.9,847.7 124.9,844.7 124.4,841.2 124.5,837.7 124.9,835.2 125.4,833.2 126.3,831.2 127.4,829.2 129.6,826.5 133.6,823.1 134.9,821.2 135.6,818.7 137.7,807.2 139.4,801.7 140.7,798.2 141.6,796.5 142.6,795.4 143.6,795.0 144.1,795.1 145.1,795.7 146.2,797.7 146.9,800.2 147.2,803.7 147.2,807.7 146.9,811.7 145.1,822.9 144.8,826.2 145.0,829.2 146.4,836.7 146.5,839.2 146.4,841.7 145.9,844.2 145.2,846.2 144.3,848.2 143.1,850.1 141.7,851.7 140.1,853.0 138.6,853.8 137.1,854.3" stroke="#424242" stroke-width="0.72"/>
<path d="M136.6,853.3 134.1,853.3 132.1,852.7 129.8,851.2 128.0,849.2 126.8,847.2 125.8,844.2 125.3,841.2 125.4,837.7 126.3,833.7 127.1,831.7 128.1,830.0 130.1,827.6 134.4,824.2 135.2,823.2 135.8,822.2 136.5,819.2 137.8,810.2 139.1,805.2 141.6,797.9 142.6,796.7 143.6,796.4 144.1,796.6 144.7,797.2 145.7,799.2 146.2,801.7 146.5,805.2 146.4,809.2 146.0,813.2 144.1,823.4 143.8,826.2 143.9,829.2 145.3,836.7 145.5,839.2 145.3,841.7 144.3,845.7 143.4,847.7 142.4,849.2 141.1,850.8 139.6,852.0 138.1,852.8 136.6,853.3" stroke="#3d3d3d" stroke-width="0.75"/>
<path d="M135.6,852.2 133.6,852.0 131.6,851.2 129.7,849.7 128.2,847.7 127.1,845.2 126.4,842.7 126.2,840.2 126.4,837.2 127.3,833.7 128.2,831.7 129.1,830.4 131.1,828.2 135.5,825.2 136.3,824.2 136.8,823.2 137.3,821.2 138.1,813.2 139.1,808.2 141.8,799.2 142.6,798.0 143.1,797.7 143.6,797.8 144.1,798.2 144.8,799.7 145.4,802.7 145.7,806.7 145.6,810.2 145.1,814.2 144.3,818.2 143.0,823.7 142.6,826.2 142.8,829.2 144.4,837.2 144.4,839.7 144.3,841.7 143.9,843.7 143.2,845.7 142.2,847.7 141.1,849.2 140.1,850.2 138.6,851.3 137.1,851.9 135.6,852.2" stroke="#383838" stroke-width="0.78"/>
<path d="M137.1,850.8 135.1,851.1 133.1,850.7 131.1,849.6 129.6,848.0 128.3,845.7 127.4,843.2 127.1,840.7 127.2,837.7 127.6,835.7 128.3,833.7 129.1,832.2 130.1,830.7 132.1,828.9 136.8,826.2 137.8,825.2 138.4,824.2 138.7,822.2 138.7,815.7 139.1,812.2 140.1,808.2 141.7,803.7 142.3,800.7 142.6,799.8 143.1,799.4 143.6,799.7 144.1,801.2 144.7,807.2 144.7,810.7 143.7,817.2 143.0,819.7 141.3,824.2 141.0,826.2 141.4,828.7 143.2,836.2 143.5,838.7 143.4,841.2 142.6,844.7 141.2,847.7 139.6,849.4 138.6,850.1 137.1,850.8" stroke="#333333" stroke-width="0.80"/>
<path d="M141.1,820.0 140.6,820.0 140.3,819.7 139.8,818.7 139.5,816.7 139.6,814.7 140.1,812.2 141.1,809.4 142.1,807.6 142.6,807.4 143.1,807.9 143.4,809.7 143.2,814.7 142.4,818.2 141.6,819.7 141.1,820.0 M136.6,849.8 134.6,849.9 133.1,849.5 131.6,848.6 130.2,847.2 129.0,845.2 128.3,843.2 128.0,841.2 128.0,838.7 128.3,836.7 128.8,834.7 129.8,832.7 131.0,831.2 132.6,829.9 134.1,829.1 136.6,828.3 138.1,828.1 139.1,828.5 139.6,829.0 140.3,830.2 141.2,832.2 142.3,836.2 142.5,840.2 141.9,843.7 141.3,845.7 140.6,847.2 139.1,848.8 138.1,849.3 136.6,849.8" stroke="#2e2e2e" stroke-width="0.83"/>
<path d="M141.1,817.3 140.6,816.7 140.5,815.2 141.1,813.7 141.6,813.7 141.9,814.7 141.9,815.7 141.6,816.8 141.1,817.3 M137.1,848.7 135.6,848.9 134.1,848.7 132.6,848.0 131.5,847.2 130.3,845.7 129.6,844.2 129.0,842.2 128.8,840.2 128.9,837.7 129.3,835.7 129.9,834.2 130.8,832.7 132.1,831.5 133.1,830.9 135.1,830.2 136.6,830.0 137.6,830.1 138.6,830.6 139.9,832.2 141.1,835.2 141.7,838.7 141.5,841.7 140.4,846.2 139.8,847.2 139.1,847.9 138.1,848.5 137.1,848.7" stroke="#292929" stroke-width="0.86"/>
<path d="M138.1,847.7 137.1,847.9 135.6,847.8 134.1,847.5 132.6,846.7 131.6,845.8 130.9,844.7 129.9,842.2 129.7,840.7 129.6,838.7 129.9,836.7 130.3,835.2 130.7,834.2 131.6,833.0 132.6,832.2 134.1,831.6 135.6,831.4 136.6,831.5 138.1,832.2 139.4,833.7 140.4,836.2 140.7,838.2 140.7,840.2 139.9,845.2 139.4,846.7 138.1,847.7" stroke="#242424" stroke-width="0.89"/>
<path d="M138.1,847.0 136.6,847.1 133.6,846.0 132.1,844.7 131.0,842.7 130.5,839.7 130.7,836.2 131.0,835.2 131.6,834.1 132.1,833.5 133.1,832.9 135.1,832.7 137.1,833.3 138.2,834.2 139.3,836.2 139.8,838.2 139.8,840.7 139.3,843.2 139.1,845.7 138.6,846.6 138.1,847.0" stroke="#1f1f1f" stroke-width="0.92"/>
<path d="M137.6,846.2 136.6,846.1 133.6,844.5 132.6,843.6 131.9,842.2 131.3,839.7 131.2,836.7 131.4,835.7 131.9,834.7 133.1,833.7 134.6,833.7 136.6,834.5 137.8,835.7 138.5,837.2 138.9,839.7 138.3,843.2 138.4,845.2 138.1,845.9 137.6,846.2" stroke="#1a1a1a" stroke-width="0.94"/>
<path d="M136.1,843.4 135.1,843.5 134.1,843.1 133.3,842.2 132.6,840.8 131.9,838.2 131.8,836.7 132.1,835.6 132.6,834.9 133.1,834.6 134.1,834.5 135.4,835.2 136.6,836.4 137.4,837.7 137.7,839.2 137.6,840.7 137.1,842.2 136.6,843.0 136.1,843.4" stroke="#151515" stroke-width="0.97"/>
<path d="M135.6,841.3 135.1,841.4 134.6,841.3 134.1,840.8 132.7,838.2 132.4,836.7 132.6,836.1 133.1,835.5 133.6,835.3 134.5,835.7 135.9,837.7 136.2,838.7 136.3,839.7 136.1,840.7 135.6,841.3" stroke="#101010" stroke-width="1.00"/>
</g>
<clipPath id="c2"><rect x="228.0" y="756.9" width="104.4" height="104.6"/></clipPath>
<g fill="none" clip-path="url(#c2)">
<path d="M252.4,869.9 250.1,867.9 248.5,865.5 247.2,862.4 246.3,858.9 245.9,854.9 246.0,850.9 246.7,846.9 247.9,842.9 249.8,838.4 256.5,824.8 261.7,811.9 263.2,808.9 264.7,806.4 268.2,801.9 273.0,797.2 275.0,795.8 276.5,795.0 278.0,794.4 279.5,794.3 281.0,794.5 282.0,794.9 284.0,796.5 285.7,798.9 287.8,803.4 289.6,809.9 291.8,821.4 294.9,832.4 295.6,835.9 295.9,839.4 295.9,843.9 295.3,848.4 294.3,852.9 292.8,856.9 290.9,860.9 288.6,864.4 286.1,867.4 283.4,869.9" stroke="#606060" stroke-width="0.55"/>
<path d="M263.5,869.9 254.5,866.8 252.5,865.4 251.0,863.7 250.0,862.0 249.3,860.4 248.5,856.9 248.3,852.9 248.8,848.9 249.6,845.9 250.8,842.9 258.5,826.9 263.4,814.4 265.8,809.4 269.4,803.9 272.9,799.9 274.5,798.5 276.0,797.5 277.5,796.9 279.0,796.6 281.0,797.0 282.0,797.6 283.0,798.5 284.6,800.9 285.9,803.9 287.2,809.4 289.0,821.3 291.7,830.4 292.7,834.4 293.2,838.4 293.4,841.9 293.1,845.9 292.3,850.4 290.9,854.9 289.3,858.4 286.8,862.4 284.3,865.4 281.0,868.2 278.1,869.9" stroke="#5b5b5b" stroke-width="0.58"/>
<path d="M274.5,868.0 271.0,868.2 267.5,867.6 264.5,866.4 255.4,861.9 253.7,860.4 252.5,858.4 251.7,855.4 251.5,852.4 252.1,848.9 253.2,845.4 262.0,825.8 265.8,814.9 268.2,809.4 270.9,804.9 273.9,801.4 276.5,799.5 278.0,799.0 279.0,798.9 280.0,799.1 281.0,799.6 282.4,800.9 283.6,802.9 284.6,805.9 285.4,809.9 286.0,818.4 286.4,820.9 287.0,823.5 289.3,830.4 290.4,835.4 290.9,839.4 290.9,843.9 290.3,848.4 289.2,852.4 287.6,856.4 285.5,859.9 283.1,862.9 280.5,865.3 277.5,867.0 274.5,868.0" stroke="#565656" stroke-width="0.61"/>
<path d="M274.0,865.4 271.0,865.4 268.0,864.5 264.5,862.6 261.0,859.9 258.3,857.4 256.9,855.4 256.1,852.9 256.0,850.4 256.7,846.4 258.2,841.4 260.3,835.9 264.5,826.2 267.7,814.9 269.2,810.9 271.3,806.9 274.0,803.4 275.5,802.1 276.5,801.6 277.5,801.2 278.5,801.1 280.0,801.5 281.5,802.7 282.5,804.4 283.4,806.9 284.1,811.4 284.2,818.9 284.4,821.4 285.0,823.9 287.3,829.9 288.3,833.9 289.1,838.9 289.1,843.4 288.7,846.9 287.7,850.9 286.2,854.9 284.2,858.4 282.0,861.1 279.5,863.3 277.0,864.7 274.0,865.4" stroke="#515151" stroke-width="0.63"/>
<path d="M276.0,862.9 273.5,863.3 272.0,863.2 270.5,862.9 267.5,861.4 265.0,859.5 262.7,856.9 261.0,853.9 260.0,850.9 259.8,847.9 260.2,844.4 261.1,840.4 262.3,836.9 266.4,826.4 268.7,816.4 270.2,811.9 271.8,808.4 274.0,805.4 276.0,803.7 277.0,803.2 278.0,803.0 279.5,803.3 280.5,804.1 281.5,805.6 282.3,807.9 282.7,809.9 282.9,812.4 282.8,819.9 283.0,822.4 283.5,824.4 285.8,829.9 286.9,833.4 287.6,837.9 287.8,842.4 287.4,846.4 286.7,849.4 285.7,852.4 284.3,855.4 282.5,858.1 280.5,860.3 278.5,861.8 276.0,862.9" stroke="#4c4c4c" stroke-width="0.66"/>
<path d="M276.0,861.4 273.5,861.8 271.0,861.3 268.5,860.0 266.1,857.9 264.3,855.4 262.9,852.4 262.2,849.4 262.0,845.9 262.3,842.9 263.1,839.4 264.2,835.9 267.5,827.2 268.2,824.4 269.7,816.4 270.9,812.4 272.6,808.9 274.5,806.4 276.0,805.1 277.0,804.7 278.0,804.5 279.0,804.8 280.0,805.6 280.9,806.9 281.6,808.9 282.1,812.9 281.7,820.4 281.9,822.9 282.5,824.9 284.7,829.9 285.9,833.4 286.7,837.4 286.9,841.9 286.6,845.4 285.8,848.9 284.8,851.9 283.7,854.4 282.0,857.0 280.0,859.1 278.0,860.6 276.0,861.4" stroke="#474747" stroke-width="0.69"/>
<path d="M276.0,860.0 273.5,860.3 271.5,859.9 269.5,858.8 267.4,856.9 265.7,854.4 264.6,851.9 263.9,848.9 263.6,845.4 263.9,842.4 264.7,838.4 268.9,826.4 270.3,817.9 271.3,813.9 272.6,810.9 274.1,808.4 276.0,806.6 277.5,806.1 278.5,806.3 279.5,807.1 280.3,808.4 280.8,809.9 281.2,813.9 280.7,820.9 280.8,823.4 281.4,825.4 284.2,830.9 285.2,833.9 285.9,837.9 286.0,841.9 285.8,844.9 285.2,847.9 284.3,850.9 282.9,853.9 281.1,856.4 279.5,858.1 278.0,859.2 276.0,860.0" stroke="#424242" stroke-width="0.72"/>
<path d="M276.5,858.4 274.5,858.8 272.5,858.6 270.5,857.6 268.5,855.8 266.9,853.4 265.9,850.9 265.3,847.9 265.1,844.9 265.4,841.4 266.2,837.9 270.2,826.4 271.3,818.4 272.2,814.4 273.2,811.9 274.5,809.9 276.0,808.5 277.5,808.1 278.3,808.4 279.0,809.1 279.5,810.0 279.9,811.4 280.2,814.9 279.5,821.4 279.6,823.9 280.3,825.9 282.8,830.4 284.1,833.4 284.9,836.9 285.2,841.4 285.0,844.4 284.4,847.4 283.7,849.9 282.6,852.4 281.3,854.4 280.0,856.0 278.5,857.3 276.5,858.4" stroke="#3d3d3d" stroke-width="0.75"/>
<path d="M276.5,857.0 274.5,857.3 272.5,856.9 270.7,855.9 269.3,854.4 268.0,852.4 267.1,849.9 266.5,847.4 266.4,844.4 266.7,840.9 267.6,836.9 268.7,833.9 271.3,827.9 271.9,825.9 272.2,823.9 272.5,818.4 273.1,815.4 274.0,813.2 275.0,811.6 276.0,810.7 277.0,810.5 277.5,810.6 278.2,811.4 278.7,812.4 278.9,813.9 278.9,816.9 278.0,822.9 278.2,824.9 278.9,826.4 281.9,830.9 283.1,833.4 284.1,837.4 284.4,841.4 284.2,843.9 283.8,846.4 283.1,848.9 282.0,851.4 280.8,853.4 279.5,855.0 278.0,856.2 276.5,857.0" stroke="#383838" stroke-width="0.78"/>
<path d="M275.5,821.3 275.0,821.4 274.5,820.5 274.3,818.9 274.4,817.4 274.9,815.9 275.4,814.9 276.0,814.4 276.5,814.4 277.0,815.4 277.0,817.4 276.5,819.6 275.5,821.3 M276.5,855.5 275.0,855.8 273.5,855.7 272.0,855.1 270.5,853.8 269.2,851.9 268.3,849.9 267.8,847.9 267.5,845.4 267.5,842.9 267.8,840.4 268.3,837.9 269.2,835.4 270.3,832.9 272.0,829.7 274.0,826.7 275.0,825.9 276.0,826.3 278.5,828.4 280.0,830.0 281.3,831.9 282.8,835.4 283.2,837.4 283.5,839.9 283.5,842.4 283.2,844.9 282.6,847.4 281.7,849.9 280.6,851.9 279.5,853.4 278.0,854.7 276.5,855.5" stroke="#333333" stroke-width="0.80"/>
<path d="M275.0,854.4 273.5,854.2 272.5,853.7 271.4,852.9 270.3,851.4 269.5,849.9 268.9,847.9 268.6,845.9 268.5,843.4 268.7,840.9 269.2,838.4 270.0,835.9 271.0,833.8 272.1,831.9 273.5,830.3 274.5,829.5 276.0,829.2 277.0,829.5 278.5,830.4 280.0,831.9 281.0,833.4 281.9,835.4 282.4,837.4 282.7,839.4 282.7,841.9 282.5,844.4 282.0,846.4 281.4,848.4 280.4,850.4 279.4,851.9 278.0,853.2 276.5,854.1 275.0,854.4" stroke="#2e2e2e" stroke-width="0.83"/>
<path d="M275.5,853.0 274.0,852.9 273.0,852.6 272.0,851.8 271.2,850.9 270.4,849.4 269.8,847.4 269.4,843.4 269.6,840.9 270.0,838.9 271.5,835.1 272.5,833.4 273.5,832.3 274.5,831.5 276.0,831.1 277.0,831.3 278.5,832.0 279.5,833.0 280.5,834.4 281.2,835.9 281.6,837.4 281.9,841.4 281.4,845.4 280.8,847.4 280.0,849.2 279.0,850.7 278.0,851.7 277.0,852.4 275.5,853.0" stroke="#292929" stroke-width="0.86"/>
<path d="M276.0,851.6 274.5,851.8 273.5,851.6 272.5,850.9 271.7,849.9 271.2,848.9 270.7,846.9 270.4,842.9 270.6,840.9 271.0,838.9 271.7,836.9 272.5,835.5 273.5,834.2 274.5,833.3 275.5,832.9 276.5,832.8 277.5,833.0 278.5,833.5 279.5,834.5 280.1,835.4 281.0,837.9 281.1,840.9 280.7,844.9 279.6,847.9 278.0,850.2 277.0,851.0 276.0,851.6" stroke="#242424" stroke-width="0.89"/>
<path d="M275.5,850.6 274.5,850.8 273.5,850.6 272.7,849.9 272.0,848.9 271.5,846.4 271.4,841.9 272.1,838.9 272.7,837.4 273.5,836.1 275.0,834.7 276.0,834.3 277.0,834.2 278.5,834.7 279.2,835.4 279.9,836.4 280.4,838.4 280.4,840.9 279.8,844.4 278.9,846.9 277.2,849.4 275.5,850.6" stroke="#1f1f1f" stroke-width="0.92"/>
<path d="M275.5,849.5 274.5,849.9 274.0,849.8 273.2,849.4 272.6,848.4 272.2,846.4 272.5,841.4 273.2,838.9 274.4,836.9 276.0,835.5 277.5,835.2 278.5,835.7 279.4,836.9 279.8,838.4 279.8,839.9 279.1,843.4 278.5,845.4 277.1,847.9 275.5,849.5" stroke="#1a1a1a" stroke-width="0.94"/>
<path d="M275.0,848.6 274.5,848.8 274.0,848.8 273.5,848.4 273.1,847.4 273.1,846.4 273.7,841.4 274.4,839.4 275.5,837.4 276.5,836.5 277.5,836.2 278.5,836.7 279.0,837.4 279.2,838.4 279.1,839.9 277.5,844.4 276.0,847.4 275.0,848.6" stroke="#151515" stroke-width="0.97"/>
<path d="M276.0,842.7 275.6,842.4 275.5,841.9 275.9,838.9 276.5,837.6 277.0,837.2 277.5,837.1 278.0,837.2 278.5,837.9 278.5,839.4 278.0,840.5 276.0,842.7 M274.5,847.0 274.5,846.4 274.5,847.0" stroke="#101010" stroke-width="1.00"/>
</g>
<clipPath id="c3"><rect x="370.8" y="757.5" width="104.6" height="104.5"/></clipPath>
<g fill="none" clip-path="url(#c3)">
<path d="M362.8,837.3 364.4,835.0 366.2,833.0 368.3,831.0 370.8,829.0 373.3,827.3 378.3,824.5 380.6,823.0 388.8,816.2 393.3,812.9 397.8,810.2 403.3,807.4 407.3,805.8 410.8,804.8 415.3,803.8 419.8,803.2 424.8,802.9 428.8,803.1 431.8,803.5 434.3,804.3 436.8,805.7 438.9,807.5 440.7,810.0 442.1,813.0 443.4,817.0 444.2,821.0 444.4,825.0 444.2,828.5 443.6,831.5 442.7,834.0 441.5,836.5 440.2,838.5 438.3,840.5 436.3,842.0 434.8,842.8 430.8,844.4 429.8,845.0 428.7,846.5 428.3,847.5 428.3,848.5 428.8,850.0 429.7,851.0 431.9,852.5 436.8,855.2 439.8,857.1 442.1,859.0 443.6,861.0 444.1,862.0 444.5,863.5 444.3,865.5 443.6,867.0 442.9,868.0 440.9,870.0" stroke="#606060" stroke-width="0.55"/>
<path d="M362.8,853.5 363.4,852.5 363.8,851.0 363.8,845.5 364.0,843.5 364.5,841.5 366.0,838.0 368.3,834.5 370.6,832.0 372.8,830.2 375.3,828.7 379.6,826.5 381.9,825.0 389.7,818.0 393.8,814.8 397.8,812.2 402.3,809.7 406.8,807.8 410.3,806.8 415.3,805.8 420.3,805.3 425.3,805.3 429.8,806.0 433.3,807.2 435.8,808.8 437.8,811.0 439.6,814.0 441.1,818.0 441.8,822.0 442.0,826.0 441.3,830.0 440.0,833.5 438.3,836.0 436.3,837.8 433.8,838.9 431.3,839.1 429.8,838.9 428.3,838.4 426.3,837.1 423.8,834.6 422.8,834.0 422.3,834.1 421.9,834.5 421.8,835.5 423.1,839.0 423.6,841.0 423.9,843.5 424.0,848.5 424.3,849.5 424.9,850.5 425.8,851.5 427.3,852.5 433.8,855.8 436.8,857.7 439.3,860.0 440.6,862.0 441.0,864.0 440.6,866.0 439.3,868.0 437.1,870.0" stroke="#5b5b5b" stroke-width="0.58"/>
<path d="M362.8,857.1 365.3,855.0 366.1,854.0 366.6,853.0 366.9,851.0 366.6,847.0 366.6,844.5 367.1,842.0 367.9,839.5 368.9,837.5 370.2,835.5 371.8,833.6 373.3,832.3 375.8,830.7 380.8,828.6 382.8,827.5 384.8,825.9 390.6,820.0 394.3,816.8 398.8,813.7 404.3,810.7 406.8,809.7 409.3,808.9 415.3,807.8 420.3,807.6 425.3,808.1 428.3,808.9 430.8,809.9 432.8,811.1 434.4,812.5 436.0,814.5 437.3,817.0 438.3,819.6 438.9,822.5 439.0,826.0 438.6,828.0 438.1,829.5 436.8,831.9 435.8,833.0 434.8,833.6 432.8,834.2 430.8,833.7 429.0,832.5 425.8,829.1 424.8,828.5 423.8,828.3 421.8,828.7 419.8,829.9 418.5,831.5 418.0,833.0 418.0,834.5 418.3,836.4 420.2,843.0 420.7,849.5 421.4,851.0 422.4,852.0 423.9,853.0 430.3,856.1 433.4,858.0 435.8,860.0 437.2,862.0 437.6,864.0 437.1,866.0 435.7,868.0 433.3,870.0" stroke="#565656" stroke-width="0.61"/>
<path d="M362.8,860.2 364.3,858.7 367.4,856.0 368.2,855.0 368.7,854.0 368.9,852.0 368.4,846.0 368.5,844.0 368.9,842.0 369.5,840.0 370.5,838.0 371.8,836.0 373.3,834.4 374.8,833.2 376.3,832.4 382.3,830.4 384.9,829.0 387.2,827.0 392.0,821.5 394.8,818.8 398.8,815.8 403.8,812.8 407.8,811.2 411.8,810.2 416.8,809.7 420.8,809.9 423.3,810.5 425.8,811.5 427.6,812.5 429.4,814.0 431.2,816.0 432.8,818.4 433.8,820.5 434.4,822.5 434.4,824.0 434.1,825.5 433.4,826.5 432.8,826.8 432.3,826.9 431.3,826.5 428.8,824.6 427.3,824.0 425.3,824.0 422.8,825.1 419.8,827.0 417.8,828.8 416.8,830.5 416.4,832.5 416.6,835.5 418.1,843.0 418.3,849.5 418.8,851.5 419.6,852.5 421.0,853.5 427.8,856.7 430.8,858.5 433.1,860.5 434.3,862.5 434.6,863.5 434.6,864.5 433.8,866.5 432.0,868.5 429.8,870.0 M366.1,870.0 364.3,868.8 362.8,867.4" stroke="#515151" stroke-width="0.63"/>
<path d="M369.1,870.0 366.7,868.5 365.1,867.0 364.2,865.5 363.9,864.5 363.9,863.5 364.3,862.0 365.2,860.5 369.3,856.6 370.3,855.0 370.5,853.0 369.7,847.5 369.8,844.0 370.7,840.5 371.6,838.5 372.6,837.0 374.3,835.3 376.8,833.8 378.8,833.1 383.8,832.1 385.3,831.5 386.9,830.5 389.6,828.0 393.4,823.0 395.6,820.5 398.8,817.8 402.8,815.1 405.8,813.5 408.8,812.5 412.3,811.9 415.8,811.7 419.3,812.1 421.9,813.0 423.8,814.5 424.5,815.5 424.8,816.5 424.9,817.5 424.7,818.5 423.6,820.5 421.8,822.5 417.8,826.2 416.3,828.0 415.8,829.0 415.4,830.5 415.3,833.0 416.7,842.5 416.9,845.5 416.8,850.5 417.4,852.5 418.2,853.5 418.9,854.0 425.8,857.3 428.7,859.0 430.8,861.0 431.5,862.0 431.9,863.0 432.0,864.5 431.7,865.5 431.2,866.5 429.3,868.4 426.8,870.0" stroke="#4c4c4c" stroke-width="0.66"/>
<path d="M371.4,870.0 368.9,868.5 367.2,867.0 366.2,865.5 365.9,864.5 365.8,863.5 366.0,862.5 366.8,861.0 370.7,857.0 371.6,855.5 371.8,853.5 370.7,848.0 370.6,845.0 370.9,843.0 371.5,841.0 373.1,838.0 374.8,836.2 376.8,835.0 378.8,834.4 382.8,833.9 384.9,833.5 387.3,832.5 389.7,831.0 391.8,829.0 394.9,824.0 396.9,821.5 399.8,818.8 403.3,816.2 405.8,814.9 408.3,814.0 410.8,813.5 413.8,813.3 416.8,813.6 418.8,814.2 420.6,815.5 421.4,817.0 421.4,818.5 420.6,820.5 419.2,822.5 416.3,825.7 415.2,827.5 414.5,830.0 414.4,832.5 415.9,842.5 416.0,845.5 415.9,851.0 416.3,853.0 417.1,854.0 418.3,854.9 424.3,857.7 427.2,859.5 428.8,861.0 429.5,862.0 429.9,863.0 430.0,864.0 429.9,865.0 429.1,866.5 427.3,868.3 424.5,870.0" stroke="#474747" stroke-width="0.69"/>
<path d="M373.8,870.0 371.0,868.5 369.2,867.0 368.1,865.5 367.7,864.0 367.9,862.5 368.4,861.5 369.6,860.0 372.0,857.5 372.6,856.5 373.0,855.5 372.9,853.5 371.6,848.5 371.4,845.5 372.0,842.0 372.6,840.5 373.5,839.0 375.3,837.1 377.3,836.0 379.3,835.5 383.8,835.3 385.8,835.0 389.6,833.5 393.5,831.5 394.7,830.5 395.4,829.5 396.7,825.5 397.8,823.5 399.2,821.5 401.2,819.5 403.8,817.5 406.3,816.1 408.8,815.3 411.8,815.0 414.3,815.2 416.6,816.0 417.7,817.0 418.3,818.5 418.2,819.5 417.6,821.0 415.3,824.6 414.3,826.5 413.8,828.0 413.6,829.5 413.8,833.0 414.9,840.0 415.2,843.0 415.3,846.0 415.0,851.0 415.3,853.0 416.1,854.5 417.3,855.4 423.3,858.4 425.8,860.0 427.2,861.5 427.8,862.5 428.1,863.5 428.1,864.5 427.8,865.5 426.8,867.0 424.9,868.5 422.2,870.0" stroke="#424242" stroke-width="0.72"/>
<path d="M376.4,870.0 373.3,868.5 371.3,867.0 370.2,865.5 369.7,864.0 369.8,863.0 370.5,861.5 373.8,857.5 374.6,856.0 374.6,854.5 372.9,850.0 372.4,846.5 372.4,844.5 372.7,843.0 373.2,841.5 374.1,840.0 375.8,838.1 376.8,837.5 378.3,837.0 379.8,836.8 383.8,837.0 385.3,836.9 392.3,834.9 394.8,834.4 397.8,834.2 399.3,833.6 400.1,832.5 400.5,831.0 400.0,827.0 400.1,825.0 400.7,823.5 401.5,822.0 403.3,820.0 405.8,818.2 407.8,817.4 410.3,817.1 412.3,817.4 413.5,818.0 414.4,819.0 414.7,820.0 414.5,821.5 412.9,826.5 412.6,829.0 412.8,832.0 414.1,839.0 414.5,842.5 414.5,846.0 414.1,851.5 414.4,853.5 415.1,855.0 416.3,856.0 421.8,858.9 424.2,860.5 425.5,862.0 426.0,863.5 426.0,864.5 425.7,865.5 424.6,867.0 422.6,868.5 419.5,870.0" stroke="#3d3d3d" stroke-width="0.75"/>
<path d="M379.3,870.0 376.3,868.8 374.2,867.5 372.7,866.0 371.9,864.5 371.9,863.0 372.6,861.5 376.0,857.5 376.7,856.0 376.5,854.5 374.5,851.0 373.5,848.0 373.3,846.0 373.4,844.5 373.8,843.0 374.4,841.5 375.1,840.5 376.0,839.5 377.3,838.7 378.3,838.4 380.3,838.3 383.8,838.9 385.3,838.9 386.8,838.7 392.3,837.1 394.8,836.9 398.3,836.9 399.9,836.5 400.8,835.7 401.3,835.0 402.3,832.5 402.8,830.0 403.0,825.5 403.8,823.0 404.8,821.6 406.1,820.5 407.3,819.9 408.8,819.7 409.8,819.9 410.8,820.5 411.5,822.0 411.4,827.0 411.5,829.5 413.2,838.0 413.8,842.5 413.8,846.5 413.2,852.0 413.3,853.5 413.6,854.5 414.3,855.7 415.3,856.6 420.3,859.4 421.9,860.5 423.3,862.0 423.9,863.5 423.9,864.5 423.5,865.5 422.3,867.0 420.1,868.5 416.7,870.0" stroke="#383838" stroke-width="0.78"/>
<path d="M382.5,870.0 378.8,868.7 375.9,867.0 374.9,866.0 374.3,865.0 374.0,864.0 374.1,863.0 374.4,862.0 375.1,861.0 377.8,858.3 380.8,856.1 384.8,854.5 385.6,854.0 386.3,853.1 386.3,852.5 385.3,851.9 384.3,851.9 381.3,853.2 379.8,853.3 378.3,852.9 376.8,851.9 375.3,849.8 374.5,847.5 374.5,845.0 374.8,843.5 375.3,842.4 375.9,841.5 376.8,840.6 377.8,840.1 378.8,839.8 380.3,839.9 384.3,841.2 385.8,841.3 392.3,839.3 394.8,839.1 398.8,839.3 400.3,838.8 401.3,837.8 402.3,835.9 405.8,825.9 406.8,824.5 407.8,824.2 408.3,824.4 408.8,825.0 409.3,826.4 411.8,835.2 412.7,839.5 413.1,844.5 412.9,847.5 412.3,852.5 412.4,854.0 412.7,855.0 413.3,856.1 414.3,857.1 420.1,861.0 421.1,862.0 421.7,863.5 421.7,864.5 421.3,865.5 420.0,867.0 417.5,868.5 413.7,870.0" stroke="#333333" stroke-width="0.80"/>
<path d="M386.1,870.0 381.1,868.5 379.1,867.5 377.7,866.5 376.8,865.5 376.3,864.5 376.2,863.5 376.6,862.0 378.3,860.1 380.8,858.4 393.3,853.7 395.3,853.2 399.3,853.7 400.3,853.6 400.8,853.2 401.0,852.5 400.9,852.0 400.3,851.2 399.8,850.9 398.8,850.8 395.8,851.8 394.8,851.9 393.8,851.7 391.8,850.7 390.1,849.5 388.5,848.0 387.7,846.5 387.8,845.5 388.3,844.5 389.3,843.5 390.8,842.6 392.2,842.0 394.8,841.6 398.8,842.0 400.3,841.6 401.3,840.6 402.3,838.9 403.6,834.5 404.8,831.9 406.3,830.3 407.3,829.9 408.3,830.3 408.8,830.8 409.8,832.5 411.1,836.0 412.0,839.5 412.3,842.5 412.4,845.0 412.1,848.0 411.3,853.0 411.4,854.5 411.7,855.5 412.2,856.5 413.3,857.7 418.4,861.5 419.1,862.5 419.5,863.5 419.5,864.5 419.1,865.5 417.6,867.0 414.3,868.7 410.4,870.0 M379.8,850.6 378.3,850.5 377.3,849.9 376.3,848.5 375.8,846.5 375.8,845.0 376.3,843.5 377.3,842.3 378.8,841.7 380.3,841.8 382.2,843.0 383.6,844.5 384.1,846.0 383.6,847.5 382.5,849.0 381.2,850.0 379.8,850.6" stroke="#2e2e2e" stroke-width="0.83"/>
<path d="M391.1,870.0 385.3,868.9 382.8,868.0 380.8,867.0 379.5,866.0 378.7,865.0 378.4,864.0 378.7,862.5 379.8,861.0 381.3,859.9 383.8,858.7 386.8,857.6 390.3,856.7 393.3,856.1 401.3,855.8 402.4,855.5 403.3,854.9 403.9,854.0 403.9,852.5 401.9,847.5 401.6,846.0 401.6,845.0 403.3,839.5 404.3,834.5 405.3,832.8 405.8,832.4 406.8,832.0 407.8,832.3 408.3,832.7 409.5,834.5 410.6,837.5 411.4,841.0 411.6,843.5 411.6,846.0 411.2,848.5 410.0,853.5 410.0,854.5 410.3,855.5 410.8,856.5 412.0,858.0 416.6,862.0 417.2,863.0 417.3,864.0 417.1,865.0 416.4,866.0 415.1,867.0 413.8,867.8 409.8,869.2 405.7,870.0 M379.3,847.1 378.8,847.1 378.2,846.5 378.2,845.5 378.8,844.9 379.3,844.9 379.9,845.5 379.9,846.5 379.3,847.1" stroke="#292929" stroke-width="0.86"/>
<path d="M407.8,853.1 407.3,853.3 406.8,853.1 405.3,851.0 404.1,848.5 403.5,846.0 403.5,844.0 404.2,840.5 404.6,836.0 405.3,834.2 406.3,833.4 407.0,833.5 407.8,834.0 408.7,835.5 410.1,839.0 410.7,842.5 410.7,845.5 410.2,848.5 409.3,851.0 407.8,853.1 M401.8,869.5 397.3,869.6 393.3,869.4 389.8,868.9 386.3,868.1 383.8,867.1 382.0,866.0 380.9,864.5 380.9,863.0 381.8,861.6 383.3,860.5 385.3,859.5 388.3,858.5 391.3,857.7 393.8,857.4 400.8,857.2 402.8,857.0 404.4,856.5 406.8,855.3 407.3,855.2 408.3,855.9 414.0,861.5 415.0,863.0 415.1,864.5 414.5,865.5 413.4,866.5 410.5,868.0 406.8,869.0 401.8,869.5" stroke="#242424" stroke-width="0.89"/>
<path d="M407.8,849.5 407.3,849.6 406.8,849.4 406.0,848.5 405.3,847.0 405.0,845.5 405.0,844.0 405.3,840.5 405.2,836.5 405.8,835.1 406.3,834.8 407.0,835.0 407.8,836.2 409.3,840.6 409.7,843.0 409.7,845.0 409.3,847.3 408.8,848.5 407.8,849.5 M403.3,868.5 399.3,868.8 395.8,868.7 392.3,868.4 389.3,867.8 386.6,867.0 384.7,866.0 383.7,865.0 383.4,864.5 383.3,863.5 383.7,862.5 384.1,862.0 385.5,861.0 387.8,859.9 391.3,858.9 394.8,858.5 401.8,858.4 406.3,857.9 407.3,858.0 408.3,858.3 410.3,859.7 412.1,861.5 412.9,863.0 412.9,864.5 411.7,866.0 409.8,867.1 406.9,868.0 403.3,868.5" stroke="#1f1f1f" stroke-width="0.92"/>
<path d="M407.3,845.1 407.1,844.0 407.3,843.1 407.8,843.3 407.9,844.0 407.8,844.9 407.3,845.1 M403.8,867.6 397.3,868.0 394.3,867.8 391.3,867.3 388.7,866.5 386.8,865.5 385.9,864.5 385.8,863.5 386.3,862.5 388.3,861.1 390.8,860.2 393.8,859.6 396.8,859.4 405.8,859.4 407.3,859.6 409.1,860.5 410.3,861.7 411.0,863.0 411.0,864.0 410.5,865.0 409.3,866.0 408.3,866.5 406.3,867.1 403.8,867.6" stroke="#1a1a1a" stroke-width="0.94"/>
<path d="M403.3,866.5 397.8,866.9 393.2,866.5 391.4,866.0 389.8,865.2 389.0,864.5 388.8,863.5 389.5,862.5 391.3,861.5 393.3,861.0 395.8,860.6 398.8,860.5 405.3,860.9 406.8,861.2 408.0,862.0 408.4,862.5 408.7,863.5 408.3,864.5 407.8,865.0 405.8,865.9 403.3,866.5" stroke="#151515" stroke-width="0.97"/>
<path d="M401.8,865.6 397.8,865.9 394.3,865.5 392.9,865.0 392.1,864.5 391.8,864.0 391.8,863.5 392.3,862.9 393.8,862.2 397.3,861.7 402.6,862.0 404.8,862.5 405.5,863.0 405.8,863.5 405.6,864.0 405.1,864.5 404.0,865.0 401.8,865.6" stroke="#101010" stroke-width="1.00"/>
</g>
<path d="M102 1033h1M93 1032h1M99 1028h1M119 1029h1M101 1031h1M112 1028h1M107 1025h1M98 1027h1M100 1027h1M102 1023h1M101 1029h1M108 1025h1M98 1021h1M97 1020h1M104 1027h1M106 1031h1M111 1028h1M96 1026h1M93 1028h1M94 1033h1M93 1021h1M119 1019h1M99 1027h1M116 1021h1M111 1026h1M100 1026h1M107 1024h1M101 1030h1M118 1019h1M115 1032h1M97 1030h1M97 1035h1M103 1028h1M100 1025h1M120 1021h1M100 1030h1M100 1028h1M104 1032h1M97 1027h1M119 1031h1M93 1037h1M108 1026h1M91 1030h1M94 1024h1M111 1027h1M102 1032h1M91 1031h1M114 1029h1M94 1025h1M98 1025h1M98 1023h1M105 1029h1M91 1020h1M101 1033h1M95 1027h1M96 1031h1M99 1032h1M102 1028h1M99 1031h1M104 1026h1M105 1032h1M98 1032h1M106 1025h1M105 1027h1M95 1033h1M109 1026h1M102 1030h1M96 1028h1M108 1022h1M104 1031h1M106 1023h1M104 1025h1M107 1031h1M103 1026h1M96 1032h1M93 1030h1M106 1027h1M123 1029h1M121 1021h1M107 1027h1M101 1021h1M96 1025h1M100 1032h1M103 1027h1M113 1025h1M119 1025h1M116 1029h1M105 1031h1M95 1026h1M101 1036h1M98 1031h1M109 1034h1M116 1025h1M108 1029h1M100 1033h1M92 1031h1M106 1029h1M104 1030h1M119 1027h1M111 1031h1M94 1027h1M110 1032h1M106 1030h1M103 1025h1M105 1023h1M94 1030h1M95 1029h1M110 1030h1M110 1027h1M114 1024h1M113 1033h1M92 1022h1M100 1024h1M111 1032h1M107 1029h1M102 1027h1M119 1030h1M114 1034h1M94 1022h1M113 1027h1M103 1024h1M101 1027h1M101 1020h1M109 1030h1M102 1031h1M102 1034h1M102 1025h1M95 1031h1M101 1026h1M96 1023h1M97 1024h1M114 1032h1M105 1033h1M93 1020h1M98 1034h1M102 1029h1M93 1029h1M95 1034h1M119 1038h1M106 1024h1M99 1019h1M103 1035h1M106 1026h1M107 1034h1M114 1022h1M116 1032h1M110 1029h1M92 1030h1M104 1033h1M97 1028h1M99 1034h1M116 1034h1M105 1028h1M104 1022h1M92 1023h1M100 1035h1M115 1027h1M99 1023h1M110 1036h1M106 1028h1M94 1034h1M92 1026h1M114 1031h1M102 1024h1M101 1025h1M101 1032h1M95 1028h1M97 1032h1M91 1034h1M107 1030h1M105 1030h1M108 1023h1M108 1021h1M99 1026h1M117 1029h1M92 1028h1M112 1030h1M93 1035h1M109 1024h1M114 1026h1M109 1020h1M104 1029h1M107 1032h1M98 1024h1M94 1032h1M96 1027h1M96 1029h1M103 1031h1M103 1029h1M94 1031h1M125 1030h1M104 1024h1M108 1027h1M99 1030h1M92 1019h1M101 1028h1M114 1030h1M108 1020h1M104 1028h1M97 1033h1M97 1036h1M108 1031h1M101 1022h1M109 1027h1M96 1030h1M99 1025h1M103 1036h1M98 1028h1M113 1031h1M109 1033h1M104 1038h1M103 1030h1M107 1036h1M110 1031h1M104 1036h1M92 1025h1M103 1021h1M97 1029h1M108 1024h1M92 1027h1M112 1031h1M103 1032h1M110 1028h1M98 1029h1M115 1026h1M120 1026h1M122 1028h1M96 1037h1M116 1030h1M93 1034h1M108 1030h1M110 1034h1M94 1019h1M120 1028h1M98 1030h1M99 1033h1M100 1031h1M109 1032h1M117 1028h1M102 1035h1M95 1030h1M111 1030h1M92 1024h1M115 1025h1M102 1022h1M110 1026h1M91 1021h1M93 1027h1M105 1025h1M107 1028h1M111 1021h1M91 1026h1M94 1029h1M96 1020h1M112 1032h1M120 1023h1M122 1026h1M101 1039h1M97 1038h1M103 1038h1M114 1035h1M114 1039h1M96 1024h1M102 1026h1M108 1035h1M112 1027h1M130 1024h1M108 1028h1M118 1027h1M120 1029h1M109 1017h1M122 1027h1M113 1023h1M96 1039h1M110 1023h1M118 1031h1M98 1033h1M91 1022h1M110 1022h1M115 1028h1M102 1017h1M92 1029h1M115 1024h1M122 1030h1M94 1028h1M96 1036h1M104 1020h1M111 1024h1M108 1036h1M105 1035h1M100 1034h1M103 1033h1M108 1034h1M93 1031h1M91 1025h1M99 1029h1M106 1021h1M99 1037h1M112 1018h1M95 1036h1M110 1025h1M119 1028h1M115 1029h1M106 1032h1M109 1025h1M99 1020h1M113 1032h1M108 1033h1M101 1024h1M100 1029h1M115 1037h1M110 1033h1M98 1026h1M94 1023h1M118 1034h1M112 1029h1M115 1022h1M121 1034h1M124 1031h1M99 1024h1M96 1034h1M93 1023h1M106 1033h1M93 1024h1M96 1018h1M112 1034h1M123 1030h1M109 1028h1M118 1033h1M96 1035h1M118 1024h1M108 1037h1M97 1034h1M117 1034h1M95 1024h1M107 1026h1M110 1035h1M111 1038h1M115 1034h1M109 1035h1M112 1022h1M118 1032h1M105 1026h1M105 1034h1M97 1022h1M111 1033h1M107 1021h1M111 1036h1M103 1022h1M94 1026h1M91 1028h1M109 1038h1M107 1023h1M111 1029h1M103 1034h1M112 1023h1M120 1032h1M113 1021h1M112 1024h1M95 1032h1M95 1025h1M114 1023h1M115 1018h1M97 1031h1M112 1025h1M120 1027h1M93 1026h1M116 1026h1M111 1035h1M113 1029h1M123 1033h1M102 1021h1M126 1028h1M104 1035h1M106 1035h1M115 1030h1M98 1036h1M107 1033h1M105 1021h1M113 1028h1M100 1020h1M119 1033h1M111 1020h1M116 1033h1M109 1029h1M95 1017h1M108 1032h1M106 1034h1M96 1033h1M113 1038h1M92 1033h1M122 1033h1M97 1021h1M101 1023h1M98 1035h1M117 1026h1M93 1025h1M101 1040h1M94 1036h1M107 1035h1M101 1037h1M105 1022h1M117 1032h1M107 1020h1M121 1035h1M116 1027h1M101 1035h1M119 1024h1M102 1036h1M93 1038h1M94 1035h1M102 1019h1M122 1024h1M112 1033h1M116 1028h1M118 1026h1M118 1028h1M98 1022h1M120 1033h1M91 1023h1M91 1027h1M121 1022h1M109 1022h1M113 1026h1M95 1022h1M96 1021h1M145 1025h1M142 1034h1M144 1028h1M126 1021h1M142 1032h1M143 1037h1M130 1030h1M131 1028h1M132 1031h1M128 1031h1M145 1028h1M141 1025h1M124 1041h1M132 1038h1M110 1016h1M133 1029h1M142 1026h1M141 1034h1M135 1027h1M142 1028h1M128 1022h1M135 1038h1M128 1027h1M118 1029h1M144 1029h1M141 1037h1M123 1027h1M141 1028h1M121 1030h1M139 1037h1M123 1032h1M140 1013h1M143 1030h1M114 1041h1M139 1032h1M162 1037h1M155 1038h1M153 1030h1M148 1026h1M132 1034h1M132 1032h1M159 1034h1M147 1022h1M127 1036h1M114 1028h1M130 1037h1M134 1031h1M114 1038h1M142 1038h1M131 1029h1M119 1037h1M140 1027h1M136 1020h1M121 1026h1M131 1026h1M123 1023h1M129 1037h1M142 1039h1M146 1035h1M117 1033h1M156 1017h1M138 1044h1M121 1032h1M157 1034h1M136 1035h1M132 1035h1M136 1017h1M127 1022h1M133 1025h1M142 1040h1M128 1026h1M132 1029h1M140 1018h1M140 1030h1M127 1021h1M145 1037h1M138 1034h1M144 1031h1M144 1024h1M144 1015h1M148 1040h1M148 1025h1M131 1034h1M124 1033h1M133 1039h1M130 1022h1M118 1021h1M135 1024h1M134 1022h1M121 1037h1M135 1025h1M124 1027h1M137 1019h1M164 1036h1M149 1044h1M133 1034h1M152 1025h1M156 1028h1M121 1038h1M128 1035h1M118 1035h1M128 1038h1M122 1032h1M134 1028h1M136 1032h1M121 1025h1M155 1026h1M126 1029h1M130 1029h1M120 1037h1M134 1034h1M134 1027h1M146 1026h1M125 1031h1M162 1036h1M135 1033h1M148 1027h1M133 1026h1M131 1039h1M131 1027h1M155 1034h1M145 1034h1M138 1024h1M152 1030h1M133 1030h1M128 1032h1M135 1036h1M128 1030h1M129 1016h1M148 1036h1M115 1031h1M136 1027h1M152 1037h1M140 1025h1M137 1031h1M140 1022h1M122 1037h1M135 1030h1M134 1014h1M151 1021h1M119 1034h1M151 1037h1M128 1025h1M112 1038h1M138 1035h1M135 1035h1M138 1025h1M127 1039h1M127 1020h1M149 1028h1M130 1031h1M145 1024h1M133 1035h1M120 1030h1M139 1031h1M133 1031h1M135 1034h1M135 1026h1M144 1030h1M135 1032h1M120 1031h1M138 1022h1M131 1030h1M143 1028h1M131 1035h1M151 1031h1M133 1028h1M136 1040h1M133 1027h1M154 1030h1M132 1025h1M147 1029h1M138 1027h1M140 1033h1M153 1039h1M121 1029h1M125 1036h1M114 1037h1M148 1021h1M114 1036h1M125 1037h1M140 1041h1M129 1035h1M137 1028h1M147 1031h1M129 1031h1M118 1037h1M155 1021h1M136 1028h1M126 1035h1M155 1032h1M131 1041h1M130 1026h1M135 1031h1M127 1033h1M134 1041h1M134 1024h1M134 1033h1M135 1017h1M134 1038h1M130 1033h1M159 1033h1M137 1027h1M130 1027h1M134 1025h1M148 1034h1M144 1032h1M129 1014h1M132 1026h1M113 1034h1M133 1037h1M141 1016h1M123 1028h1M128 1034h1M145 1029h1M139 1039h1M146 1031h1M133 1032h1M136 1030h1M122 1034h1M146 1030h1M134 1026h1M121 1019h1M130 1040h1M147 1028h1M109 1036h1M139 1026h1M144 1027h1M140 1036h1M147 1019h1M162 1032h1M142 1023h1M132 1024h1M133 1033h1M155 1039h1M129 1029h1M116 1035h1M136 1037h1M157 1025h1M137 1029h1M150 1029h1M159 1043h1M150 1037h1M122 1044h1M152 1040h1M116 1036h1M127 1028h1M144 1035h1M144 1022h1M132 1040h1M123 1037h1M126 1034h1M126 1039h1M141 1027h1M143 1033h1M158 1031h1M134 1023h1M146 1019h1M118 1038h1M117 1031h1M138 1039h1M156 1036h1M141 1038h1M147 1021h1M166 1038h1M126 1042h1M124 1034h1M137 1023h1M142 1037h1M154 1037h1M125 1028h1M151 1024h1M128 1036h1M133 1023h1M127 1026h1M139 1029h1M131 1037h1M143 1035h1M151 1038h1M143 1041h1M142 1031h1M120 1035h1M136 1038h1M124 1028h1M140 1037h1M137 1021h1M146 1028h1M140 1021h1M131 1036h1M126 1037h1M123 1044h1M152 1041h1M139 1024h1M136 1031h1M124 1032h1M133 1036h1M125 1033h1M137 1039h1M142 1029h1M137 1022h1M138 1028h1M138 1032h1M139 1025h1M149 1040h1M151 1032h1M132 1039h1M140 1026h1M132 1036h1M131 1031h1M127 1034h1M152 1038h1M152 1035h1M116 1039h1M129 1027h1M135 1022h1M121 1039h1M131 1033h1M150 1033h1M154 1034h1M130 1042h1M152 1024h1M118 1022h1M116 1040h1M149 1032h1M124 1044h1M131 1023h1M143 1023h1M156 1019h1M123 1035h1M131 1032h1M145 1030h1M123 1031h1M150 1027h1M141 1030h1M138 1041h1M125 1035h1M126 1032h1M136 1034h1M124 1036h1M146 1034h1M135 1019h1M150 1023h1M149 1035h1M125 1029h1M143 1029h1M139 1028h1M124 1035h1M140 1034h1M128 1033h1M145 1023h1M129 1036h1M129 1034h1M156 1023h1M144 1026h1M157 1039h1M140 1035h1M143 1031h1M149 1031h1M138 1040h1M128 1024h1M163 1024h1M127 1040h1M132 1027h1M135 1029h1M122 1019h1M124 1023h1M143 1034h1M126 1041h1M158 1020h1M122 1042h1M137 1030h1M129 1030h1M124 1040h1M157 1033h1M132 1030h1M157 1026h1M124 1024h1M133 1024h1M135 1039h1M159 1029h1M111 1025h1M123 1025h1M149 1026h1M150 1030h1M142 1035h1M139 1034h1M130 1028h1M148 1038h1M144 1034h1M122 1029h1M122 1038h1M128 1040h1M135 1023h1M126 1027h1M132 1023h1M156 1035h1M134 1020h1M119 1040h1M125 1026h1M137 1033h1M136 1036h1M126 1038h1M149 1029h1M134 1030h1M136 1025h1M126 1025h1M137 1024h1M145 1020h1M131 1024h1M162 1028h1M116 1031h1M136 1033h1M150 1022h1M134 1036h1M131 1019h1M168 1039h1M138 1018h1M120 1038h1M130 1032h1M113 1013h1M137 1035h1M151 1028h1M158 1035h1M147 1035h1M158 1027h1M129 1025h1M136 1042h1M142 1024h1M146 1038h1M168 1025h1M145 1033h1M138 1031h1M135 1018h1M150 1031h1M140 1024h1M118 1039h1M125 1018h1M141 1031h1M154 1033h1M142 1030h1M156 1030h1M157 1023h1M146 1022h1M127 1043h1M147 1034h1M151 1023h1M127 1030h1M122 1040h1M127 1041h1M130 1035h1M138 1038h1M119 1026h1M122 1031h1M111 1034h1M150 1034h1M133 1041h1M127 1038h1M129 1018h1M139 1043h1M141 1036h1M147 1038h1M155 1037h1M128 1028h1M154 1032h1M140 1040h1M134 1039h1M116 1037h1M130 1038h1M133 1038h1M125 1041h1M139 1040h1M119 1035h1M134 1035h1M163 1030h1M162 1027h1M127 1037h1M128 1020h1M138 1029h1M127 1025h1M147 1032h1M149 1042h1M143 1042h1M120 1034h1M121 1020h1M145 1040h1M140 1029h1M156 1033h1M124 1038h1M147 1018h1M112 1037h1M140 1031h1M141 1035h1M138 1030h1M112 1026h1M149 1036h1M147 1037h1M136 1029h1M137 1020h1M151 1030h1M116 1038h1M139 1027h1M161 1029h1M127 1031h1M125 1027h1M141 1026h1M128 1009h1M139 1033h1M145 1026h1M148 1033h1M135 1041h1M143 1019h1M145 1038h1M123 1018h1M134 1037h1M130 1036h1M117 1037h1M114 1015h1M135 1037h1M150 1038h1M114 1012h1M145 1032h1M125 1032h1M153 1027h1M122 1021h1M129 1020h1M143 1018h1M158 1034h1M103 1043h1M137 1032h1M163 1020h1M132 1033h1M141 1029h1M153 1031h1M129 1022h1M151 1029h1M144 1021h1M117 1024h1M160 1037h1M147 1033h1M126 1036h1M147 1041h1M127 1035h1M146 1033h1M152 1026h1M124 1019h1M148 1023h1M117 1038h1M125 1038h1M106 1039h1M146 1041h1M153 1026h1M110 1037h1M110 1024h1M137 1034h1M134 1029h1M144 1025h1M153 1028h1M136 1019h1M131 1038h1M129 1024h1M113 1037h1M146 1029h1M142 1027h1M149 1033h1M134 1040h1M123 1016h1M143 1040h1M141 1033h1M134 1042h1M156 1026h1M126 1033h1M129 1028h1M142 1019h1M151 1025h1M130 1034h1M122 1023h1M143 1027h1M126 1022h1M162 1025h1M139 1036h1M141 1044h1M122 1025h1M154 1039h1M139 1019h1M151 1027h1M149 1039h1M123 1040h1M125 1022h1M120 1022h1M139 1030h1M132 1037h1M153 1034h1M146 1024h1M149 1041h1M140 1032h1M148 1032h1M138 1023h1M129 1039h1M129 1017h1M131 1022h1M153 1029h1M122 1035h1M144 1038h1M127 1027h1M148 1029h1M136 1024h1M143 1024h1M123 1034h1M131 1025h1M127 1032h1M118 1041h1M138 1033h1M129 1012h1M108 1019h1M151 1034h1M144 1019h1M128 1044h1M149 1034h1M117 1025h1M146 1036h1M146 1027h1M140 1023h1M147 1027h1M155 1025h1M152 1033h1M137 1043h1M140 1028h1M132 1042h1M118 1036h1M129 1041h1M167 1040h1M142 1033h1M148 1039h1M129 1033h1M150 1042h1M145 1036h1M121 1024h1M121 1033h1M141 1023h1M138 1019h1M169 1034h1M143 1032h1M153 1036h1M136 1026h1M148 1028h1M121 1031h1M134 1044h1M126 1026h1M113 1030h1M122 1036h1M137 1026h1M130 1021h1M123 1024h1M159 1032h1M139 1022h1M137 1040h1M124 1026h1M137 1038h1M128 1041h1M154 1035h1M125 1017h1M140 1017h1M137 1025h1M128 1029h1M137 1014h1M147 1024h1M137 1037h1M159 1024h1M156 1024h1M149 1021h1M135 1043h1M127 1044h1M154 1027h1M130 1025h1M132 1022h1M129 1032h1M163 1032h1M156 1025h1M155 1027h1M122 1020h1M139 1035h1M149 1030h1M152 1031h1M114 1027h1M128 1042h1M109 1031h1M155 1028h1M143 1036h1M138 1037h1M145 1017h1M140 1014h1M145 1031h1M119 1021h1M123 1039h1M118 1030h1M134 1032h1M121 1027h1M155 1024h1M160 1031h1M119 1039h1M160 1030h1M138 1043h1M127 1018h1M109 1039h1M129 1023h1M121 1042h1M133 1022h1M147 1026h1M126 1016h1M132 1021h1M167 1041h1M147 1025h1M141 1024h1M111 1019h1M143 1039h1M137 1041h1M142 1044h1M150 1026h1M124 1030h1M130 1039h1M111 1023h1M127 1024h1M123 1036h1M140 1038h1M131 1040h1M142 1021h1M131 1021h1M167 1028h1M153 1041h1M163 1029h1M112 1020h1M165 1027h1M154 1038h1M128 1043h1M106 1022h1M145 1027h1M147 1020h1M162 1035h1M152 1020h1M143 1044h1M155 1036h1M160 1036h1M145 1043h1M120 1041h1M118 1025h1M134 1019h1M149 1038h1M142 1041h1M145 1044h1M157 1037h1M135 1028h1M126 1030h1M146 1032h1M154 1023h1M150 1028h1M136 1043h1M141 1042h1M125 1023h1M128 1021h1M147 1030h1M124 1025h1M126 1031h1M148 1022h1M115 1033h1M125 1024h1M146 1042h1M114 1033h1M148 1020h1M147 1044h1M141 1032h1M150 1032h1M123 1026h1M102 1042h1M152 1034h1M146 1015h1M140 1043h1M123 1020h1M145 1021h1M133 1021h1M158 1033h1M126 1044h1M154 1024h1M113 1024h1M113 1036h1M138 1036h1M151 1019h1M151 1015h1M171 1030h1M132 1028h1M141 1040h1M143 1025h1M162 1023h1M124 1029h1M117 1030h1M156 1037h1M140 1020h1M145 1035h1M139 1023h1M128 1017h1M142 1036h1M110 1043h1M128 1018h1M155 1040h1M157 1032h1M122 1017h1M146 1021h1M117 1039h1M168 1033h1M114 1021h1M146 1037h1M139 1021h1M150 1025h1M120 1025h1M149 1037h1M126 1040h1M106 1040h1M141 1043h1M112 1036h1M135 1020h1M131 1043h1M139 1016h1M129 1040h1M131 1016h1M107 1037h1M153 1023h1M157 1015h1M140 1039h1M140 1042h1M117 1035h1M125 1034h1M117 1042h1M148 1017h1M135 1042h1M123 1021h1M150 1020h1M159 1027h1M155 1042h1M105 1044h1M152 1029h1M143 1020h1M120 1018h1M127 1029h1M151 1026h1M135 1021h1M162 1031h1M151 1042h1M143 1026h1M156 1020h1M157 1031h1M141 1022h1M130 1043h1M141 1021h1M143 1038h1M136 1039h1M164 1025h1M155 1033h1M110 1041h1M154 1021h1M154 1025h1M109 1040h1M151 1041h1M143 1013h1M161 1023h1M121 1023h1M144 1033h1M127 1016h1M160 1017h1M123 1019h1M114 1017h1M105 1024h1M145 1022h1M121 1015h1M118 1043h1M149 1022h1M159 1019h1M113 1039h1M116 1020h1M138 1017h1M125 1040h1M133 1043h1M125 1019h1M128 1015h1M173 1027h1M163 1033h1M161 1030h1M145 1018h1M156 1029h1M132 1019h1M159 1030h1M111 1042h1M126 1017h1M163 1031h1M100 1038h1M121 1044h1M147 1036h1M142 1016h1M125 1043h1M156 1034h1M170 1029h1M114 1044h1M130 1020h1M141 1039h1M120 1039h1M149 1023h1M140 1019h1M136 1023h1M148 1042h1M156 1027h1M125 1039h1M117 1040h1M116 1022h1M126 1020h1M156 1021h1M164 1035h1M154 1031h1M124 1022h1M120 1024h1M144 1043h1M148 1031h1M158 1032h1M128 1019h1M126 1024h1M122 1039h1M117 1036h1M152 1036h1M153 1033h1M154 1028h1M121 1028h1M153 1037h1M147 1042h1M115 1019h1M158 1029h1M157 1041h1M150 1017h1M137 1018h1M158 1028h1M124 1037h1M134 1012h1M144 1037h1M110 1015h1M144 1042h1M160 1028h1M158 1042h1M153 1022h1M126 1018h1M146 1018h1M112 1035h1M151 1017h1M139 1018h1M132 1041h1M121 1036h1M119 1014h1M109 1037h1M153 1032h1M121 1008h1M124 1016h1M128 1037h1M106 1014h1M128 1023h1M148 1024h1M150 1035h1M168 1022h1M152 1032h1M123 1041h1M119 1032h1M129 1021h1M127 1019h1M160 1038h1M111 1041h1M149 1024h1M151 1040h1M133 1042h1M118 1018h1M123 1022h1M163 1034h1M144 1044h1M152 1028h1M162 1030h1M131 1017h1M126 1023h1M130 1017h1M117 1027h1M152 1027h1M150 1024h1M119 1036h1M144 1036h1M122 1022h1M148 1030h1M153 1025h1M134 1018h1M156 1040h1M158 1030h1M163 1044h1M154 1040h1M153 1044h1M145 1039h1M150 1036h1M156 1038h1M147 1039h1M159 1037h1M140 1044h1M151 1036h1M158 1036h1M144 1040h1M156 1042h1M157 1035h1M166 1034h1M152 1039h1M144 1039h1M157 1038h1M144 1041h1M151 1039h1M154 1041h1M166 1041h1M150 1043h1M156 1039h1M148 1041h1M154 1043h1M147 1040h1M153 1035h1M150 1040h1M158 1037h1M156 1032h1M148 1037h1M158 1025h1M153 1038h1M160 1044h1M154 1042h1M157 1030h1M160 1029h1M164 1034h1M150 1041h1M148 1035h1M160 1032h1M164 1031h1M151 1035h1M146 1039h1M160 1035h1M145 1042h1M146 1040h1M159 1028h1M153 1042h1M149 1043h1M152 1043h1M161 1031h1M155 1041h1M158 1038h1M160 1039h1M152 1023h1M159 1035h1M157 1036h1M135 1044h1M143 1043h1M137 1044h1M161 1033h1M148 1044h1M155 1031h1M146 1043h1M151 1033h1M163 1025h1M150 1044h1M159 1039h1M154 1029h1M162 1039h1M155 1044h1M160 1033h1M142 1042h1M137 1036h1M156 1022h1M161 1039h1M139 1042h1M147 1043h1M154 1036h1M156 1043h1M152 1042h1M157 1044h1M163 1035h1M159 1040h1M151 1043h1M159 1036h1M158 1041h1M161 1034h1M150 1039h1M160 1040h1M157 1042h1M145 1041h1M148 1043h1M160 1027h1M159 1038h1M153 1040h1M165 1036h1M154 1026h1M153 1016h1M155 1022h1M164 1018h1M155 1016h1M160 1026h1M161 1042h1M166 1014h1M154 1019h1M159 1025h1M165 1033h1M164 1043h1M158 1012h1M162 1026h1M160 1025h1M151 1022h1M163 1028h1M165 1023h1M154 1015h1M165 1040h1M168 1029h1M161 1032h1M168 1038h1M158 1022h1M155 1043h1M163 1036h1M162 1021h1M156 1031h1M160 1021h1M161 1017h1M161 1038h1M155 1023h1M152 1021h1M157 1027h1M154 1013h1M163 1026h1M151 1018h1M160 1019h1M161 1028h1M157 1040h1M157 1029h1M161 1024h1M158 1014h1M163 1027h1M161 1036h1M157 1028h1M156 1013h1M166 1026h1M158 1024h1M158 1023h1M162 1018h1M166 1033h1M159 1026h1M148 1019h1M166 1023h1M162 1029h1M152 1022h1M158 1040h1M147 1015h1M164 1030h1M163 1019h1M158 1026h1M158 1013h1M163 1040h1M155 1035h1M159 1023h1M155 1030h1M159 1031h1M160 1020h1M160 1022h1M153 1021h1M164 1019h1M155 1020h1M157 1024h1M157 1018h1M157 1043h1M129 1019h1M134 1043h1M130 1041h1M153 1019h1M131 1020h1M119 1020h1M138 1026h1M125 1021h1M125 1020h1M146 1025h1M133 1040h1M123 1042h1M144 1023h1M153 1020h1M125 1042h1M149 1025h1M136 1021h1M153 1043h1M118 1023h1M126 1019h1M158 1039h1M149 1019h1M129 1038h1M156 1041h1M101 1019h1M115 1023h1M97 1037h1M92 1021h1M115 1021h1M98 1037h1M109 1021h1M104 1034h1M98 1020h1M110 1020h1M93 1033h1M112 1021h1M102 1037h1M114 1025h1M97 1023h1M106 1036h1M105 1036h1M97 1019h1M94 1020h1" stroke="#000" stroke-width="1" fill="none" transform="translate(0,0.5)"/>
<path d="M97 963h1M101 966h1M93 979h1M114 1001h1M110 969h1M104 972h1M96 963h1M97 1008h1M111 1001h1M111 968h1M99 991h1M109 1004h1M113 962h1M106 994h1M104 967h1M103 962h1M114 1004h1M105 974h1M113 988h1M113 1003h1M104 980h1M106 981h1M95 974h1M111 960h1M93 991h1M98 986h1M103 976h1M115 968h1M101 968h1M107 972h1M100 998h1M99 988h1M113 963h1M93 970h1M110 991h1M97 975h1M96 982h1M93 995h1M113 1009h1M109 1009h1M92 973h1M115 999h1M101 1008h1M106 1002h1M99 968h1M102 965h1M101 1009h1M99 958h1M93 967h1M110 977h1M98 963h1M115 980h1M96 961h1M108 966h1M92 984h1M97 1011h1M94 986h1M110 980h1M115 983h1M97 980h1M92 980h1M97 1006h1M111 984h1M92 971h1M97 969h1M97 1004h1M95 960h1M114 988h1M115 979h1M113 993h1M110 998h1M103 963h1M97 1005h1M113 1007h1M121 961h1M128 945h1M128 947h1M120 946h1M124 967h1M128 953h1M141 951h1M125 952h1M128 952h1M134 952h1M129 955h1M120 948h1M126 954h1M126 953h1M128 951h1M129 944h1M131 948h1M123 949h1M134 947h1M118 955h1M127 954h1M120 950h1M131 947h1M129 958h1M126 946h1M137 954h1M127 951h1M120 952h1M127 948h1M126 960h1M132 959h1M131 949h1M115 958h1M126 951h1M122 964h1M116 959h1M132 964h1M127 957h1M120 954h1M113 950h1M125 953h1M123 960h1M116 954h1M123 954h1M126 965h1M119 962h1M134 953h1M122 946h1M120 966h1M113 956h1M121 965h1M127 945h1M122 955h1M126 948h1M124 951h1M128 955h1M168 1018h1M131 979h1M157 998h1M171 1019h1M135 981h1M135 961h1M167 984h1M119 967h1M161 986h1M177 1018h1M153 985h1M155 1021h1M126 974h1M153 1003h1M117 961h1M158 1012h1M159 1011h1M124 974h1M148 992h1M164 1006h1M146 964h1M160 1004h1M177 999h1M127 978h1M174 1021h1M134 991h1M128 976h1M131 970h1M149 980h1M144 970h1M145 983h1M161 996h1M153 987h1M153 1001h1M148 989h1M163 1014h1M158 991h1M137 984h1M183 1008h1M128 968h1M174 1003h1M133 989h1M149 998h1M130 1003h1M184 997h1M179 1009h1M143 1004h1M173 991h1M125 992h1M179 976h1M161 1007h1M158 961h1M160 973h1M175 995h1" stroke="#555" stroke-width="1" fill="none" transform="translate(0,0.5)"/>
<rect x="90.5" y="941.3" width="105.3" height="104.2" fill="none" stroke="#111" stroke-width="1.7"/>
<line x1="116.1" y1="941.3" x2="116.1" y2="1045.5" stroke="#111" stroke-width="1.6"/>
<line x1="90.5" y1="1017.3" x2="195.8" y2="1017.3" stroke="#111" stroke-width="1.6"/>
<line x1="116.1" y1="1014.8" x2="195.8" y2="1014.8" stroke="#000" stroke-width="1.8" stroke-dasharray="2.8,1.5"/>
<line x1="116.1" y1="1045.5" x2="195.8" y2="1045.5" stroke="#000" stroke-width="1.8" stroke-dasharray="2.8,1.5"/>
<text x="93.3" y="954.5" font-size="14.5">1</text>
<text x="192.5" y="954.5" font-size="14.5" text-anchor="end">2</text>
<text x="192.5" y="1041.5" font-size="14.5" text-anchor="end">77</text>
<text transform="translate(81.4,993.4) rotate(-90)" font-size="14.3" text-anchor="middle">CD38</text>
<text x="142.6" y="1063.1" font-size="14.5" text-anchor="middle">CD34</text>
<line x1="196.3" y1="1033.1" x2="219.8" y2="1033.1" stroke="#111" stroke-width="1.5"/>
<path d="M224.8,1033.1 L218.8,1029.5 L218.8,1036.6999999999998 Z" fill="#111"/>
<clipPath id="c4"><rect x="228.5" y="941.3" width="104.3" height="104.2"/></clipPath>
<g fill="none" clip-path="url(#c4)">
<path d="M223.7,1053.8 223.4,1051.8 223.6,1049.3 224.0,1047.3 224.9,1044.8 227.1,1040.8 231.5,1034.9 234.1,1029.8 235.0,1028.9 236.0,1028.3 239.0,1028.2 240.5,1027.5 251.3,1019.8 254.0,1017.5 256.5,1014.9 259.5,1010.8 266.9,998.8 275.5,987.5 277.0,984.5 278.8,979.3 280.1,976.3 282.3,972.8 284.5,970.2 287.5,967.6 291.0,965.4 295.0,963.7 299.0,962.7 303.0,962.3 307.0,962.6 310.5,963.4 313.5,964.7 315.5,966.1 316.9,967.3 318.1,968.8 319.1,970.3 319.9,972.3 320.4,974.3 320.6,976.3 320.4,978.3 319.8,981.3 318.8,983.8 314.5,991.2 313.6,993.3 313.1,996.3 312.9,1004.3 312.2,1008.8 311.3,1012.3 310.2,1015.3 308.9,1018.3 307.3,1021.3 304.6,1025.3 301.4,1029.3 297.5,1033.1 293.5,1036.3 288.5,1039.5 279.0,1044.7 275.1,1048.3 273.0,1049.8 270.0,1051.1 264.5,1052.8 262.4,1053.8" stroke="#606060" stroke-width="0.55"/>
<path d="M252.0,1049.8 249.5,1050.1 247.0,1049.7 242.5,1048.3 241.0,1047.5 240.2,1046.8 239.2,1045.3 238.5,1043.2 238.0,1042.7 237.0,1042.7 236.0,1042.2 235.5,1041.5 235.0,1040.3 234.7,1038.8 234.7,1036.8 235.0,1034.8 235.5,1033.8 236.0,1033.4 236.5,1033.5 237.3,1034.3 237.9,1035.8 238.7,1039.8 239.0,1040.5 239.5,1040.3 242.7,1035.8 245.3,1032.8 249.0,1029.3 256.5,1022.7 260.2,1018.8 262.0,1016.4 263.5,1013.9 268.2,1004.3 270.7,999.8 273.1,996.3 277.5,990.4 278.8,988.3 280.0,985.4 281.7,978.8 283.3,975.3 285.5,972.3 288.0,969.8 291.0,967.7 294.0,966.2 297.5,965.0 301.0,964.4 304.5,964.4 308.0,964.9 311.0,966.0 313.5,967.6 315.8,969.8 316.7,971.3 317.4,972.8 318.0,975.8 317.8,979.3 317.1,981.8 315.9,984.3 311.4,990.8 310.3,992.8 309.9,994.3 309.8,995.8 309.8,1001.3 309.6,1004.3 308.8,1009.3 307.7,1012.8 306.2,1016.3 304.2,1019.8 302.5,1022.3 300.0,1025.3 297.0,1028.2 293.5,1030.9 290.0,1033.1 287.0,1034.5 284.0,1035.6 272.5,1038.6 270.5,1039.3 268.6,1040.3 267.8,1041.3 267.9,1041.8 270.3,1043.8 270.7,1044.3 271.0,1045.3 270.6,1046.3 269.5,1047.2 267.5,1047.7 265.5,1047.5 263.9,1046.8 261.5,1044.9 260.0,1044.7 259.0,1045.0 258.0,1045.5 254.3,1048.8 252.0,1049.8" stroke="#5b5b5b" stroke-width="0.58"/>
<path d="M263.0,1033.3 260.5,1033.7 259.0,1033.6 258.5,1033.3 258.2,1032.8 258.4,1031.3 259.9,1028.8 264.5,1022.6 266.5,1019.2 268.2,1015.3 271.7,1005.3 274.1,1000.3 276.3,996.8 280.9,990.8 282.1,988.8 283.0,986.3 283.8,981.3 284.2,979.3 285.2,976.8 286.7,974.3 289.0,971.8 292.0,969.5 295.0,968.0 298.5,966.9 302.0,966.5 305.5,966.7 308.5,967.5 311.5,969.2 313.6,971.3 314.9,973.8 315.4,976.3 315.2,979.3 314.6,981.3 313.4,983.8 311.6,986.3 308.3,990.3 307.1,992.3 306.7,994.8 306.9,1003.3 306.3,1007.8 305.4,1010.8 304.2,1013.8 302.6,1016.8 300.6,1019.8 298.0,1022.8 295.0,1025.4 291.5,1027.7 288.0,1029.3 285.5,1030.1 282.5,1030.6 271.0,1031.5 263.0,1033.3 M255.5,1027.9 255.5,1027.4 255.8,1027.8 255.5,1027.9 M248.0,1037.9 247.9,1037.3 248.0,1037.2 248.3,1037.3 248.2,1037.8 248.0,1037.9" stroke="#565656" stroke-width="0.61"/>
<path d="M285.0,1026.4 281.5,1026.4 277.5,1025.6 274.8,1024.3 273.7,1023.3 273.0,1022.3 272.5,1020.8 272.4,1019.3 272.6,1014.8 273.4,1009.8 274.8,1004.8 276.4,1001.3 278.1,998.3 280.3,995.3 284.1,990.8 285.4,988.8 286.0,986.8 286.3,981.8 286.8,979.3 288.0,976.3 289.9,973.8 291.5,972.3 293.5,970.9 295.5,969.9 298.0,969.0 300.5,968.6 302.5,968.5 305.0,968.7 307.0,969.3 309.7,970.8 311.6,972.8 312.7,975.3 313.0,976.8 312.9,978.3 312.3,980.8 311.1,983.3 309.1,985.8 305.3,989.8 304.1,991.8 303.9,992.8 303.8,994.3 304.6,1000.3 304.6,1003.8 304.1,1007.3 302.8,1011.3 301.4,1014.3 299.9,1016.8 297.9,1019.3 295.5,1021.6 293.0,1023.5 290.5,1024.8 287.5,1025.9 285.0,1026.4" stroke="#515151" stroke-width="0.63"/>
<path d="M286.0,1023.3 283.0,1023.2 280.1,1022.3 278.0,1020.8 276.6,1018.8 275.8,1015.8 275.6,1012.3 276.1,1008.3 277.2,1004.3 278.9,1000.8 280.8,997.8 283.0,995.2 287.4,990.8 288.5,989.3 289.1,987.3 288.8,982.3 289.0,979.8 290.2,976.8 292.3,973.8 293.5,972.6 295.0,971.5 297.0,970.5 298.5,970.1 301.5,970.0 304.0,970.5 305.5,971.0 307.9,972.3 309.4,973.8 310.3,975.8 310.6,978.3 310.3,979.8 309.8,981.3 308.7,983.3 307.7,984.8 306.0,986.5 302.2,989.3 301.4,990.3 301.0,991.3 301.0,993.3 302.3,998.8 302.7,1002.3 302.4,1006.3 301.2,1010.3 300.1,1012.8 298.6,1015.3 297.0,1017.3 295.0,1019.3 292.5,1021.1 290.5,1022.2 288.0,1023.0 286.0,1023.3" stroke="#4c4c4c" stroke-width="0.66"/>
<path d="M288.5,1020.9 285.5,1021.2 283.0,1020.8 281.0,1019.8 280.0,1018.9 279.1,1017.8 278.1,1015.8 277.6,1012.8 277.6,1009.8 278.2,1006.3 279.1,1003.8 280.3,1001.3 281.5,999.3 283.0,997.4 286.0,994.5 292.0,990.3 292.8,989.3 293.0,988.8 292.8,987.8 291.2,983.8 290.6,980.8 290.8,978.3 291.2,976.8 292.2,974.8 294.0,972.7 296.5,971.1 298.0,970.6 299.5,970.4 302.5,970.6 304.0,971.2 305.5,972.0 307.0,973.3 308.2,974.8 308.9,976.3 309.3,978.3 309.2,979.8 308.8,981.8 307.8,983.8 307.1,984.8 306.0,986.0 304.5,987.1 302.5,988.1 300.5,988.6 298.8,988.8 297.7,989.3 297.3,989.8 297.1,990.3 297.3,991.3 299.8,996.3 300.9,999.8 301.2,1001.8 301.2,1003.8 300.6,1007.8 299.7,1010.3 298.7,1012.3 297.5,1014.3 296.0,1016.1 294.5,1017.6 292.5,1019.1 290.5,1020.2 288.5,1020.9" stroke="#474747" stroke-width="0.69"/>
<path d="M302.0,987.8 300.5,988.2 298.5,988.1 296.5,987.7 295.5,987.2 294.0,986.1 292.8,984.8 291.7,982.8 291.2,981.3 291.2,978.3 291.7,976.3 292.2,975.3 293.2,973.8 294.5,972.6 296.0,971.6 297.5,971.0 300.5,970.6 302.5,970.9 304.0,971.5 305.5,972.4 307.3,974.3 308.2,975.8 308.7,977.3 308.9,978.8 308.8,980.3 308.3,982.3 307.8,983.3 306.8,984.8 305.5,986.0 304.0,987.1 302.0,987.8 M289.0,1018.8 286.5,1019.1 284.5,1018.8 282.5,1017.9 281.3,1016.8 280.1,1014.8 279.5,1012.8 279.3,1010.3 279.6,1007.3 280.3,1004.8 281.6,1001.8 283.3,999.3 285.0,997.4 287.5,995.4 290.0,994.1 292.0,993.6 294.0,993.6 295.5,994.3 296.5,995.1 297.6,996.3 298.7,998.3 299.4,1000.3 299.7,1002.3 299.7,1004.3 299.5,1006.3 298.9,1008.3 298.2,1010.3 297.1,1012.3 295.6,1014.3 294.0,1016.0 292.5,1017.2 291.0,1018.0 289.0,1018.8" stroke="#424242" stroke-width="0.72"/>
<path d="M300.5,987.8 297.5,987.6 296.0,987.0 294.5,986.0 293.3,984.8 292.3,983.3 291.7,981.8 291.4,979.8 291.8,976.8 292.8,974.8 293.6,973.8 295.0,972.5 296.5,971.6 298.0,971.1 299.5,970.9 301.5,971.0 303.5,971.5 304.5,972.1 306.0,973.2 307.3,974.8 307.9,975.8 308.4,977.3 308.5,978.8 308.5,980.3 308.1,981.8 307.2,983.8 306.4,984.8 305.0,986.1 303.5,987.0 302.0,987.6 300.5,987.8 M289.5,1016.4 287.5,1016.8 286.0,1016.7 284.5,1016.1 283.0,1014.9 282.0,1013.3 281.5,1011.8 281.2,1009.8 281.4,1007.3 282.1,1004.8 283.0,1002.8 284.2,1000.8 286.0,998.9 287.5,997.7 289.5,996.6 291.5,996.1 293.0,996.2 294.5,996.8 295.5,997.5 296.5,998.6 297.2,999.8 297.7,1001.3 297.9,1002.8 298.0,1004.3 297.8,1006.3 296.6,1009.8 294.7,1012.8 293.5,1014.0 292.0,1015.2 289.5,1016.4" stroke="#3d3d3d" stroke-width="0.75"/>
<path d="M302.0,987.3 300.5,987.6 299.0,987.6 297.0,987.1 296.0,986.7 294.5,985.6 293.3,984.3 292.4,982.8 291.9,981.3 291.7,979.8 291.7,978.3 292.1,976.8 292.8,975.3 294.5,973.2 296.0,972.1 297.5,971.5 299.5,971.1 301.0,971.1 302.5,971.4 304.0,972.0 305.5,973.1 306.7,974.3 307.6,975.8 308.1,977.3 308.3,978.8 308.3,980.3 307.9,981.8 307.2,983.3 306.1,984.8 305.0,985.8 304.0,986.5 302.0,987.3 M289.5,1013.9 288.0,1014.1 287.0,1014.0 286.0,1013.6 285.0,1012.8 284.2,1011.8 283.7,1010.3 283.5,1008.8 283.6,1006.8 284.2,1004.8 284.9,1003.3 286.9,1000.8 288.0,1000.0 289.5,999.2 291.0,998.8 292.0,998.9 293.0,999.2 294.0,999.8 295.2,1001.3 295.6,1002.3 295.9,1003.8 295.7,1006.3 294.9,1008.8 293.5,1011.1 291.5,1012.9 289.5,1013.9" stroke="#383838" stroke-width="0.78"/>
<path d="M300.5,987.3 299.0,987.3 297.5,987.0 296.0,986.4 294.5,985.3 293.6,984.3 292.7,982.8 292.1,981.3 291.9,979.8 292.0,978.3 292.3,976.8 293.0,975.3 294.0,974.0 295.0,973.0 296.5,972.1 298.0,971.5 299.5,971.3 301.0,971.4 302.5,971.7 304.0,972.3 305.4,973.3 306.3,974.3 307.3,975.8 307.8,977.3 308.1,978.8 308.0,980.3 307.7,981.8 307.0,983.3 306.0,984.6 305.0,985.6 303.5,986.5 302.0,987.1 300.5,987.3 M289.0,1010.4 288.0,1010.2 287.0,1009.3 286.5,1007.8 286.7,1006.3 287.5,1004.4 288.5,1003.3 289.5,1002.7 291.0,1002.5 292.0,1003.0 292.6,1003.8 293.0,1005.3 292.8,1006.8 292.1,1008.3 291.2,1009.3 290.0,1010.1 289.0,1010.4" stroke="#333333" stroke-width="0.80"/>
<path d="M302.0,986.8 300.5,987.1 299.0,987.1 297.5,986.8 296.0,986.1 295.0,985.4 293.9,984.3 292.9,982.8 292.4,981.3 292.2,979.8 292.2,978.3 292.6,976.8 293.3,975.3 294.5,973.8 295.5,973.0 297.0,972.1 298.5,971.7 300.0,971.5 301.5,971.7 303.0,972.1 304.5,972.9 305.6,973.8 306.8,975.3 307.7,977.8 307.8,979.3 307.7,980.8 306.7,983.3 305.5,984.8 304.5,985.7 302.0,986.8" stroke="#2e2e2e" stroke-width="0.83"/>
<path d="M301.0,986.8 299.5,986.9 298.0,986.6 296.5,986.1 295.5,985.5 294.5,984.6 293.5,983.3 292.8,981.8 292.5,980.3 292.4,978.8 292.7,977.3 293.3,975.8 293.9,974.8 295.0,973.7 296.2,972.8 297.5,972.2 299.0,971.8 300.5,971.8 302.0,972.0 303.5,972.6 304.5,973.2 305.7,974.3 306.5,975.4 307.2,976.8 307.5,978.3 307.6,979.8 307.3,981.3 306.7,982.8 306.1,983.8 305.0,984.9 303.8,985.8 302.5,986.4 301.0,986.8" stroke="#292929" stroke-width="0.86"/>
<path d="M302.0,986.3 300.5,986.6 299.0,986.5 296.5,985.8 295.1,984.8 294.2,983.8 293.5,982.7 292.9,981.3 292.7,979.8 292.8,978.3 293.0,977.2 293.6,975.8 294.5,974.5 295.5,973.6 296.8,972.8 298.0,972.3 299.5,972.1 301.0,972.1 303.5,972.9 304.8,973.8 305.8,974.8 306.5,975.9 307.0,977.3 307.3,978.8 307.2,980.3 306.4,982.8 305.5,984.0 304.5,985.0 303.3,985.8 302.0,986.3" stroke="#242424" stroke-width="0.89"/>
<path d="M302.0,986.0 299.5,986.3 298.0,986.0 296.5,985.4 295.5,984.7 294.5,983.7 293.9,982.8 293.3,981.3 293.0,978.8 293.3,977.3 294.0,975.8 294.7,974.8 295.8,973.8 298.0,972.7 299.5,972.4 301.0,972.4 302.5,972.8 303.5,973.3 304.5,974.0 305.5,975.0 306.1,975.8 306.7,977.3 307.0,979.8 306.7,981.3 306.0,982.8 305.3,983.8 304.2,984.8 302.0,986.0" stroke="#1f1f1f" stroke-width="0.92"/>
<path d="M301.0,985.8 298.5,985.8 297.1,985.3 296.0,984.6 295.1,983.8 294.3,982.8 293.8,981.8 293.4,980.3 293.5,978.0 294.5,975.7 295.5,974.5 296.4,973.8 297.5,973.2 299.0,972.8 301.5,972.9 302.8,973.3 304.0,974.0 305.6,975.8 306.1,976.8 306.6,978.3 306.5,980.5 306.1,981.8 305.5,982.9 304.5,984.1 303.6,984.8 302.5,985.4 301.0,985.8" stroke="#1a1a1a" stroke-width="0.94"/>
<path d="M300.5,985.3 299.0,985.3 298.0,985.1 296.0,984.0 295.0,982.9 294.5,982.1 293.9,979.8 294.0,978.3 294.3,977.3 295.5,975.3 297.5,973.8 299.5,973.3 300.5,973.3 302.0,973.6 304.0,974.7 305.0,975.8 305.5,976.6 306.1,978.8 306.0,980.3 305.7,981.3 304.5,983.3 302.5,984.8 300.5,985.3" stroke="#151515" stroke-width="0.97"/>
<path d="M301.0,984.4 299.0,984.5 298.0,984.3 297.0,983.8 295.5,982.3 294.8,980.8 294.7,978.8 295.0,977.5 295.5,976.6 296.7,975.3 298.7,974.3 301.0,974.2 302.8,974.8 303.5,975.3 304.4,976.3 305.1,977.8 305.3,979.8 305.0,980.9 304.5,981.9 303.0,983.5 301.0,984.4" stroke="#101010" stroke-width="1.00"/>
</g>
<path d="M332.8,990.9 V941.3 H228.5 V1045.5 H275.7" fill="none" stroke="#111" stroke-width="1.7"/>
<line x1="275.7" y1="941.3" x2="275.7" y2="1045.5" stroke="#111" stroke-width="1.6"/>
<line x1="275.7" y1="990.9" x2="333.55" y2="990.9" stroke="#111" stroke-width="1.6"/>
<line x1="333.0" y1="990.9" x2="333.0" y2="1046.4" stroke="#000" stroke-width="1.9" stroke-dasharray="2.8,1.5"/>
<line x1="275.7" y1="1045.8" x2="333.7" y2="1045.8" stroke="#000" stroke-width="1.9" stroke-dasharray="2.8,1.5"/>
<text x="330.0" y="954.5" font-size="14.5" text-anchor="end">59</text>
<text x="330.0" y="1041.7" font-size="14.5" text-anchor="end">32</text>
<text transform="translate(218.9,993.4) rotate(-90)" font-size="14.3" text-anchor="middle">CD45RA</text>
<text x="280.1" y="1062.9" font-size="14.5" text-anchor="middle">Thy1</text>
<line x1="333.3" y1="1015.4" x2="358.2" y2="1015.4" stroke="#111" stroke-width="1.5"/>
<path d="M362.7,1015.4 L357.2,1011.6 L357.2,1019.1999999999999 Z" fill="#111"/>
<clipPath id="c5"><rect x="370.5" y="941.3" width="105.0" height="104.2"/></clipPath>
<g fill="none" clip-path="url(#c5)">
<path d="M423.0,1005.8 419.5,1006.2 415.5,1005.6 412.5,1004.6 409.0,1002.6 406.0,1000.2 399.5,993.8 393.5,989.7 391.2,987.8 389.4,985.3 388.6,982.8 388.6,981.3 388.9,979.8 390.2,977.3 392.0,975.3 396.0,972.0 398.0,970.0 403.3,962.8 406.0,959.8 409.0,957.4 412.0,955.6 415.0,954.5 418.0,953.9 422.0,954.0 424.0,954.4 426.0,955.1 429.5,956.9 433.0,959.8 435.9,963.3 438.2,967.3 439.9,971.8 440.8,976.8 440.9,981.8 440.3,986.3 438.8,991.3 436.8,995.3 433.9,999.3 430.5,1002.4 427.0,1004.5 425.0,1005.3 423.0,1005.8 M374.5,983.2 374.0,982.9 373.8,981.3 374.0,979.9 374.5,979.7 374.8,981.3 374.5,983.2" stroke="#606060" stroke-width="0.60"/>
<path d="M422.5,1003.9 419.5,1004.1 416.0,1003.7 413.0,1002.6 409.5,1000.5 406.4,997.8 400.5,991.3 394.8,986.3 393.4,984.3 392.9,982.3 393.1,980.3 394.1,978.3 399.0,972.8 404.4,964.8 406.9,961.8 409.5,959.5 412.5,957.6 415.5,956.5 418.5,955.9 422.0,956.0 425.5,957.0 429.0,958.9 432.0,961.5 434.7,964.8 436.8,968.8 438.2,972.8 439.0,977.3 439.0,981.8 438.4,986.3 437.2,990.3 435.2,994.3 432.7,997.8 429.5,1000.7 426.5,1002.6 424.5,1003.4 422.5,1003.9" stroke="#5b5b5b" stroke-width="0.64"/>
<path d="M422.5,1001.9 419.0,1002.1 416.0,1001.6 413.0,1000.4 410.0,998.5 408.1,996.8 406.3,994.8 400.2,986.8 398.7,984.3 398.1,982.3 398.2,980.3 399.2,977.8 404.4,968.3 407.2,964.3 409.7,961.8 412.5,959.8 415.5,958.5 418.5,957.9 422.0,958.0 425.0,958.9 428.0,960.5 431.0,963.0 433.2,965.8 435.3,969.8 436.6,973.8 437.3,977.8 437.3,981.8 436.7,985.8 435.7,989.3 433.8,993.3 431.1,996.8 428.5,999.2 425.5,1000.9 422.5,1001.9" stroke="#565656" stroke-width="0.68"/>
<path d="M421.5,1000.3 418.5,1000.4 415.5,999.7 412.5,998.2 410.0,996.3 407.2,993.3 404.3,988.8 402.3,984.8 401.6,981.8 401.9,978.8 403.2,974.8 405.2,970.3 407.7,966.3 410.0,963.7 413.0,961.5 416.0,960.1 419.0,959.6 422.0,959.8 425.0,960.7 428.0,962.5 430.5,964.8 432.7,967.8 434.1,970.8 435.2,974.3 435.8,978.3 435.8,982.3 435.2,985.8 434.1,989.3 432.3,992.8 430.0,995.7 427.5,997.9 424.5,999.5 421.5,1000.3" stroke="#515151" stroke-width="0.72"/>
<path d="M421.5,998.9 418.5,998.9 415.5,998.2 413.0,996.9 410.5,994.9 407.9,991.8 405.8,988.3 404.3,984.8 403.8,981.8 403.9,978.8 404.9,974.8 406.8,970.3 408.6,967.3 411.0,964.7 413.5,962.8 416.0,961.7 419.0,961.0 421.5,961.1 424.5,962.0 427.0,963.4 429.5,965.7 431.8,968.8 433.2,971.8 434.2,975.3 434.6,978.3 434.6,981.8 434.1,985.3 433.0,988.8 431.4,991.8 429.5,994.3 427.0,996.6 424.5,998.0 421.5,998.9" stroke="#4c4c4c" stroke-width="0.76"/>
<path d="M421.0,997.8 418.0,997.7 415.5,997.0 413.0,995.6 410.8,993.8 408.8,991.3 406.8,987.8 405.6,984.8 405.0,981.3 405.3,977.8 406.2,974.3 407.6,970.8 409.5,967.8 411.5,965.6 414.0,963.7 416.5,962.6 419.5,962.1 422.0,962.3 424.5,963.2 427.0,964.7 429.2,966.8 431.0,969.3 432.4,972.3 433.3,975.3 433.7,978.8 433.7,982.3 433.1,985.3 432.0,988.8 430.3,991.8 428.2,994.3 426.0,996.0 423.5,997.3 421.0,997.8" stroke="#474747" stroke-width="0.80"/>
<path d="M420.5,996.8 418.0,996.7 415.5,995.9 413.0,994.4 411.0,992.5 408.9,989.8 407.4,986.8 406.5,983.8 406.1,980.8 406.3,977.8 407.2,974.3 408.7,970.8 410.3,968.3 412.2,966.3 414.5,964.6 417.0,963.6 419.5,963.2 422.0,963.4 424.5,964.3 426.8,965.8 428.8,967.8 430.5,970.3 431.8,973.3 432.6,976.3 432.9,979.3 432.7,982.8 432.1,985.8 431.0,988.8 429.5,991.3 427.5,993.6 425.5,995.2 423.0,996.3 420.5,996.8" stroke="#424242" stroke-width="0.84"/>
<path d="M422.5,995.3 420.0,995.7 417.5,995.4 415.0,994.4 413.0,993.0 410.9,990.8 409.3,988.3 408.0,985.3 407.4,982.3 407.3,979.3 407.7,976.3 408.7,973.3 410.2,970.3 412.0,968.0 414.0,966.2 416.0,965.1 418.5,964.4 421.0,964.4 423.0,964.9 425.0,965.8 427.0,967.3 428.7,969.3 430.2,971.8 431.2,974.3 431.8,977.3 432.0,980.3 431.7,983.3 431.0,986.3 429.9,988.8 428.3,991.3 426.5,993.1 424.5,994.5 422.5,995.3" stroke="#3d3d3d" stroke-width="0.88"/>
<path d="M421.5,994.4 419.5,994.5 417.0,994.0 415.0,993.1 413.0,991.5 411.5,989.8 410.0,987.3 408.8,984.3 408.4,981.8 408.3,979.3 408.8,976.3 409.8,973.3 411.1,970.8 412.6,968.8 414.5,967.2 416.5,966.2 419.0,965.5 421.0,965.6 423.0,966.1 425.0,967.1 427.0,968.8 428.5,970.8 429.8,973.3 430.6,975.8 431.0,978.3 431.1,980.8 430.7,983.8 430.0,986.3 428.8,988.8 427.3,990.8 425.5,992.5 423.5,993.7 421.5,994.4" stroke="#383838" stroke-width="0.93"/>
<path d="M421.0,993.3 418.5,993.2 416.5,992.6 414.5,991.4 413.0,990.0 411.5,987.9 410.4,985.8 409.7,983.3 409.4,980.8 409.5,977.8 410.1,975.3 411.1,972.8 412.6,970.3 414.0,968.8 415.5,967.8 417.5,967.0 419.5,966.7 421.5,966.9 423.5,967.5 425.4,968.8 426.9,970.3 428.2,972.3 429.1,974.3 429.8,976.8 430.1,979.3 430.0,981.8 429.6,984.3 428.7,986.8 427.6,988.8 426.0,990.7 424.5,991.9 422.5,993.0 421.0,993.3" stroke="#333333" stroke-width="0.97"/>
<path d="M421.0,992.4 419.0,992.2 417.0,991.6 415.5,990.7 413.8,989.3 412.6,987.8 411.6,985.8 410.9,983.8 410.4,981.3 410.4,978.8 410.9,976.3 411.7,973.8 413.2,970.8 414.0,969.8 415.0,969.1 416.5,968.4 419.0,967.9 421.0,968.0 422.5,968.4 424.5,969.5 425.9,970.8 427.1,972.3 428.1,974.3 428.8,976.3 429.2,978.8 429.1,981.3 428.8,983.3 428.3,985.3 427.3,987.3 425.9,989.3 424.0,991.1 422.5,992.0 421.0,992.4" stroke="#2e2e2e" stroke-width="1.01"/>
<path d="M422.0,991.4 421.0,991.6 419.5,991.5 417.5,990.6 415.5,989.3 414.4,988.3 413.3,986.8 412.5,985.3 411.8,983.3 411.4,979.8 411.9,976.3 413.6,971.3 414.5,970.2 416.0,969.4 417.5,969.1 420.5,969.1 422.0,969.5 423.5,970.2 425.0,971.4 426.2,972.8 427.0,974.3 427.8,976.3 428.2,978.3 428.2,980.8 428.0,982.8 427.4,984.8 426.4,986.8 424.6,989.3 423.1,990.8 422.0,991.4" stroke="#292929" stroke-width="1.05"/>
<path d="M421.5,990.9 420.5,991.0 419.0,990.5 415.5,987.8 413.9,985.8 412.9,983.3 412.5,981.3 412.5,978.8 412.7,977.3 413.6,974.3 413.9,972.3 414.7,970.8 416.0,970.0 417.5,970.0 420.5,970.4 422.0,970.8 423.0,971.3 424.3,972.3 425.5,973.7 426.3,975.3 426.9,976.8 427.2,978.3 427.3,980.3 426.8,983.3 423.6,989.3 422.7,990.3 421.5,990.9" stroke="#242424" stroke-width="1.09"/>
<path d="M421.5,990.3 420.5,990.4 419.5,990.0 416.0,986.6 414.6,984.8 413.8,982.8 413.5,981.3 413.5,979.3 414.6,974.8 414.5,972.3 415.0,971.3 416.0,970.6 417.5,970.7 419.0,971.4 421.5,972.0 423.0,972.8 424.0,973.7 424.9,974.8 425.9,977.3 426.3,979.8 426.0,981.9 425.6,982.8 425.1,983.3 423.8,983.8 423.2,984.3 423.1,984.8 423.5,986.8 423.2,988.3 422.5,989.6 421.5,990.3" stroke="#1f1f1f" stroke-width="1.13"/>
<path d="M421.0,989.8 420.5,989.8 419.7,989.3 418.5,987.2 416.4,985.3 415.4,983.8 414.8,982.3 414.6,980.3 414.8,978.8 415.5,977.3 416.4,976.3 416.2,975.3 415.1,972.8 415.4,971.8 416.0,971.3 417.0,971.3 419.0,972.8 421.0,973.2 422.5,973.9 424.0,975.5 425.0,977.8 425.2,979.8 425.0,981.3 424.5,982.1 423.0,983.0 422.2,983.8 421.9,985.3 422.4,987.3 422.4,988.3 422.0,989.3 421.0,989.8 M417.5,977.3 417.1,976.8 416.8,976.8 417.0,977.3 417.5,977.3" stroke="#1a1a1a" stroke-width="1.17"/>
<path d="M420.0,985.4 419.0,985.4 417.4,984.3 416.4,982.8 416.1,981.3 416.5,980.4 418.0,979.6 418.7,978.8 419.1,977.8 419.5,975.6 420.0,975.0 420.5,974.9 422.0,975.4 423.0,976.4 423.7,977.8 424.0,979.8 423.6,981.3 421.9,982.8 420.5,984.9 420.0,985.4 M421.0,988.8 420.5,988.5 420.5,987.7 421.1,987.8 421.3,988.3 421.0,988.8" stroke="#151515" stroke-width="1.21"/>
<path d="M420.0,983.5 419.5,983.7 418.5,983.4 418.0,982.8 417.8,981.8 418.0,981.3 419.5,979.3 420.5,977.2 421.0,976.8 421.5,976.9 422.0,977.3 422.6,978.3 422.8,979.3 422.8,980.3 422.3,981.3 420.0,983.5" stroke="#101010" stroke-width="1.25"/>
</g>
<rect x="370.5" y="941.3" width="105.0" height="104.2" fill="none" stroke="#111" stroke-width="1.7"/>
<path d="M411.8,941.3 V1018.4 H475.5" fill="none" stroke="#111" stroke-width="1.6"/>
<text x="473.6" y="954.3" font-size="14.5" text-anchor="end">74</text>
<text transform="translate(361.4,993.4) rotate(-90)" font-size="14.3" text-anchor="middle">Thy1</text>
<text x="424.5" y="1063.2" font-size="14.5" text-anchor="middle" textLength="42.3" lengthAdjust="spacingAndGlyphs">CD49f</text>
<path d="M106 1164h1M98 1165h1M109 1173h1M112 1171h1M103 1171h1M93 1173h1M106 1173h1M96 1180h1M100 1170h1M101 1171h1M96 1171h1M118 1173h1M101 1175h1M118 1172h1M94 1181h1M106 1180h1M91 1164h1M105 1171h1M96 1174h1M102 1174h1M96 1177h1M113 1173h1M95 1175h1M104 1169h1M95 1176h1M99 1171h1M101 1172h1M99 1166h1M115 1173h1M92 1176h1M102 1173h1M109 1180h1M104 1178h1M119 1169h1M111 1176h1M105 1166h1M121 1174h1M106 1174h1M92 1172h1M97 1174h1M104 1173h1M101 1173h1M111 1172h1M94 1174h1M118 1175h1M110 1173h1M102 1171h1M97 1164h1M107 1175h1M110 1178h1M97 1176h1M117 1172h1M109 1172h1M92 1173h1M95 1174h1M91 1173h1M103 1166h1M102 1167h1M92 1167h1M98 1176h1M101 1167h1M93 1169h1M111 1173h1M99 1178h1M92 1177h1M98 1166h1M109 1169h1M122 1171h1M108 1178h1M109 1171h1M94 1167h1M99 1170h1M102 1168h1M95 1169h1M105 1173h1M102 1178h1M98 1172h1M97 1175h1M100 1173h1M101 1180h1M112 1177h1M98 1173h1M103 1169h1M104 1168h1M122 1170h1M93 1170h1M100 1172h1M109 1175h1M93 1175h1M108 1172h1M119 1171h1M94 1171h1M110 1172h1M93 1174h1M109 1176h1M92 1174h1M96 1181h1M101 1170h1M99 1175h1M107 1172h1M92 1170h1M92 1169h1M99 1168h1M108 1170h1M96 1168h1M95 1179h1M115 1175h1M96 1169h1M96 1178h1M104 1171h1M106 1176h1M102 1179h1M103 1168h1M114 1173h1M131 1171h1M103 1170h1M98 1171h1M94 1180h1M107 1176h1M106 1175h1M91 1170h1M108 1171h1M113 1174h1M107 1177h1M99 1177h1M95 1172h1M100 1176h1M111 1175h1M103 1173h1M107 1170h1M92 1178h1M114 1174h1M100 1174h1M113 1172h1M94 1170h1M106 1168h1M106 1169h1M99 1169h1M95 1173h1M103 1175h1M120 1174h1M94 1168h1M94 1175h1M98 1167h1M114 1175h1M97 1173h1M91 1172h1M102 1172h1M99 1176h1M98 1174h1M123 1175h1M104 1176h1M108 1175h1M110 1170h1M96 1165h1M96 1176h1M102 1170h1M105 1175h1M113 1176h1M102 1175h1M100 1168h1M110 1169h1M98 1179h1M98 1178h1M99 1174h1M113 1166h1M95 1171h1M99 1173h1M94 1172h1M97 1169h1M114 1170h1M102 1164h1M96 1172h1M123 1176h1M98 1175h1M92 1171h1M107 1169h1M105 1169h1M92 1166h1M103 1176h1M108 1165h1M95 1168h1M107 1174h1M98 1170h1M106 1171h1M100 1167h1M118 1171h1M93 1166h1M102 1177h1M98 1169h1M106 1177h1M110 1174h1M108 1166h1M97 1177h1M105 1172h1M109 1174h1M111 1165h1M92 1179h1M101 1178h1M104 1174h1M104 1167h1M120 1168h1M92 1175h1M93 1167h1M108 1176h1M103 1172h1M108 1174h1M100 1169h1M97 1172h1M104 1182h1M113 1171h1M109 1166h1M100 1165h1M109 1177h1M106 1172h1M97 1171h1M114 1168h1M110 1165h1M100 1177h1M108 1173h1M95 1164h1M125 1169h1M102 1176h1M97 1179h1M100 1175h1M106 1170h1M97 1168h1M104 1172h1M112 1175h1M111 1169h1M98 1181h1M101 1174h1M104 1175h1M109 1170h1M101 1169h1M110 1175h1M122 1175h1M93 1171h1M100 1171h1M95 1167h1M124 1180h1M103 1174h1M110 1177h1M93 1177h1M114 1167h1M91 1174h1M91 1168h1M99 1172h1M107 1171h1M107 1168h1M96 1170h1M98 1168h1M103 1167h1M124 1174h1M137 1171h1M121 1180h1M114 1169h1M116 1170h1M119 1173h1M113 1168h1M119 1168h1M112 1174h1M126 1174h1M121 1173h1M120 1171h1M123 1168h1M124 1166h1M107 1167h1M109 1168h1M127 1168h1M138 1174h1M126 1172h1M127 1174h1M126 1175h1M125 1174h1M129 1173h1M115 1179h1M115 1174h1M138 1170h1M117 1170h1M105 1174h1M113 1165h1M133 1166h1M122 1169h1M112 1168h1M130 1168h1M116 1175h1M123 1177h1M124 1169h1M130 1176h1M116 1174h1M125 1176h1M120 1173h1M123 1172h1M131 1174h1M130 1170h1M114 1172h1M111 1174h1M115 1180h1M130 1175h1M122 1178h1M116 1172h1M118 1168h1M112 1180h1M121 1169h1M117 1171h1M107 1166h1M118 1177h1M132 1175h1M120 1176h1M126 1171h1M115 1168h1M134 1177h1M113 1178h1M118 1176h1M124 1168h1M126 1168h1M113 1170h1M117 1176h1M124 1176h1M131 1177h1M122 1172h1M131 1175h1M117 1178h1M116 1168h1M130 1166h1M124 1177h1M114 1178h1M134 1178h1M109 1178h1M139 1169h1M106 1178h1M124 1172h1M119 1166h1M112 1173h1M128 1171h1M119 1178h1M136 1174h1M113 1177h1M130 1180h1M130 1174h1M126 1173h1M135 1172h1M121 1177h1M124 1173h1M129 1183h1M117 1175h1M123 1173h1M134 1172h1M135 1169h1M125 1173h1M127 1173h1M118 1166h1M129 1170h1M119 1174h1M119 1177h1M122 1174h1M130 1171h1M127 1167h1M113 1175h1M108 1167h1M114 1171h1M120 1175h1M117 1179h1M125 1181h1M128 1176h1M115 1166h1M110 1168h1M132 1176h1M114 1176h1M116 1177h1M121 1172h1M111 1177h1M127 1170h1M112 1167h1M122 1163h1M132 1170h1M116 1166h1M121 1178h1M120 1170h1M117 1166h1M127 1172h1M114 1163h1M133 1176h1M124 1165h1M126 1176h1M135 1171h1M121 1171h1M134 1170h1M112 1178h1M114 1162h1M141 1176h1M115 1177h1M120 1178h1M102 1169h1M119 1176h1M124 1175h1M116 1178h1M112 1172h1M129 1178h1M127 1175h1M121 1168h1M125 1170h1M118 1165h1M124 1171h1M131 1172h1M118 1174h1M129 1171h1M114 1179h1M120 1177h1M132 1172h1M116 1169h1M126 1169h1M129 1169h1M116 1179h1M138 1175h1M129 1174h1M121 1175h1M135 1167h1M134 1180h1M133 1170h1M109 1165h1M115 1176h1M120 1163h1M112 1169h1M141 1170h1M135 1166h1M125 1164h1M123 1166h1M133 1173h1M118 1170h1M125 1172h1M115 1181h1M130 1178h1M133 1172h1M135 1163h1M120 1167h1M136 1179h1M129 1177h1M117 1174h1M125 1166h1M120 1169h1M130 1177h1M117 1169h1M132 1173h1M123 1167h1M111 1170h1M123 1169h1M111 1178h1M115 1169h1M127 1171h1M128 1172h1M128 1182h1M102 1181h1M126 1181h1M118 1179h1M128 1173h1M122 1167h1M133 1178h1M120 1172h1M128 1168h1M121 1166h1M144 1172h1M118 1169h1M118 1178h1M110 1171h1M123 1171h1M109 1183h1M116 1173h1M133 1165h1M125 1171h1M117 1173h1M153 1174h1M161 1163h1M136 1164h1M111 1159h1M144 1167h1M136 1182h1M175 1173h1M144 1173h1M150 1176h1M147 1166h1M141 1177h1M152 1182h1M144 1177h1M138 1171h1M149 1165h1M153 1166h1M141 1168h1M124 1183h1M125 1178h1M139 1172h1M145 1182h1M143 1169h1M142 1180h1M154 1169h1M140 1179h1M136 1173h1M139 1175h1M130 1163h1M152 1168h1M132 1179h1M136 1172h1M130 1172h1M145 1180h1M149 1166h1M138 1178h1M133 1167h1M138 1181h1M130 1179h1M148 1169h1M129 1172h1M138 1169h1M151 1181h1M141 1181h1M134 1175h1M147 1174h1M141 1167h1M147 1184h1M148 1173h1M139 1167h1M155 1173h1M153 1168h1M149 1179h1M140 1170h1M168 1184h1M156 1177h1M159 1173h1M126 1163h1M157 1186h1M136 1159h1M144 1176h1M137 1167h1M143 1162h1M140 1167h1M133 1175h1M143 1170h1M133 1163h1M130 1185h1M145 1173h1M129 1175h1M150 1166h1M147 1170h1M149 1184h1M151 1169h1M128 1157h1M136 1181h1M136 1165h1M131 1181h1M129 1181h1M127 1181h1M140 1177h1M139 1176h1M165 1158h1M135 1176h1M156 1165h1M142 1179h1M144 1180h1M146 1176h1M135 1170h1M163 1165h1M142 1168h1M149 1169h1M136 1163h1M137 1163h1M138 1177h1M124 1186h1M149 1175h1M138 1180h1M146 1171h1M143 1174h1M133 1182h1M157 1170h1M147 1176h1M144 1166h1M141 1163h1M153 1183h1M143 1177h1M141 1162h1M158 1185h1M167 1159h1M142 1178h1M136 1175h1M153 1170h1M148 1167h1M147 1177h1M150 1167h1M148 1153h1M143 1165h1M142 1165h1M143 1179h1M152 1170h1M156 1175h1M156 1173h1M132 1167h1M155 1166h1M139 1163h1M145 1181h1M141 1178h1M148 1172h1M149 1162h1M140 1174h1M148 1182h1M139 1168h1M132 1164h1M144 1165h1M141 1173h1M140 1180h1M145 1175h1M156 1171h1M151 1167h1M166 1171h1M152 1183h1M136 1169h1M141 1165h1M162 1164h1M133 1174h1M151 1176h1M168 1176h1M161 1178h1M137 1175h1M153 1176h1M150 1174h1M137 1161h1M146 1179h1M150 1172h1M130 1160h1M128 1175h1M157 1172h1M135 1173h1M139 1174h1M125 1186h1M127 1176h1M131 1173h1M134 1171h1M137 1170h1M151 1158h1M153 1182h1M145 1179h1M156 1184h1M143 1178h1M129 1168h1M154 1176h1M150 1162h1M140 1175h1M134 1168h1M141 1161h1M140 1164h1M133 1183h1M149 1168h1M147 1167h1M148 1160h1M144 1174h1M137 1174h1M142 1185h1M122 1166h1M129 1166h1M156 1172h1M152 1163h1M150 1164h1M136 1176h1M154 1170h1M150 1180h1M150 1173h1M157 1175h1M126 1180h1M143 1172h1M139 1178h1M141 1175h1M141 1179h1M146 1173h1M139 1181h1M150 1177h1M138 1165h1M146 1168h1M140 1176h1M131 1165h1M150 1175h1M150 1168h1M138 1182h1M152 1172h1M161 1181h1M166 1183h1M146 1178h1M152 1175h1M142 1171h1M147 1160h1M157 1178h1M138 1184h1M134 1174h1M149 1180h1M134 1181h1M143 1185h1M149 1176h1M157 1183h1M141 1159h1M138 1173h1M134 1162h1M158 1167h1M131 1164h1M146 1186h1M148 1170h1M139 1182h1M146 1183h1M135 1174h1M147 1161h1M137 1179h1M148 1171h1M132 1168h1M123 1180h1M163 1177h1M134 1163h1M129 1176h1M145 1169h1M148 1183h1M134 1185h1M138 1185h1M147 1173h1M155 1186h1M141 1184h1M142 1175h1M152 1171h1M142 1176h1M146 1180h1M139 1173h1M162 1167h1M131 1170h1M128 1180h1M128 1169h1M140 1169h1M137 1178h1M147 1186h1M135 1183h1M163 1178h1M152 1179h1M144 1163h1M149 1171h1M159 1180h1M146 1167h1M145 1170h1M139 1159h1M120 1185h1M160 1173h1M151 1180h1M147 1178h1M130 1164h1M132 1182h1M153 1172h1M147 1162h1M143 1173h1M156 1183h1M132 1171h1M142 1164h1M156 1170h1M142 1170h1M153 1179h1M161 1177h1M146 1177h1M143 1176h1M167 1175h1M148 1166h1M152 1180h1M134 1165h1M142 1177h1M136 1170h1M129 1167h1M157 1176h1M152 1173h1M151 1178h1M141 1172h1M158 1168h1M159 1176h1M155 1172h1M153 1173h1M155 1164h1M151 1170h1M130 1169h1M141 1174h1M138 1164h1M161 1169h1M141 1182h1M150 1170h1M141 1171h1M163 1163h1M156 1157h1M126 1157h1M160 1176h1M155 1167h1M149 1181h1M122 1165h1M162 1172h1M151 1182h1M158 1180h1M131 1167h1M160 1169h1M148 1174h1M138 1167h1M129 1180h1M148 1162h1M143 1182h1M133 1169h1M145 1171h1M156 1182h1M128 1177h1M131 1168h1M146 1170h1M138 1166h1M156 1180h1M143 1171h1M142 1173h1M141 1183h1M148 1181h1M143 1175h1M151 1173h1M142 1167h1M134 1173h1M158 1171h1M144 1171h1M166 1172h1M154 1167h1M148 1177h1M133 1161h1M137 1177h1M144 1175h1M144 1179h1M156 1168h1M157 1173h1M153 1175h1M153 1177h1M153 1178h1M140 1185h1M159 1186h1M150 1184h1M152 1174h1M146 1174h1M151 1183h1M136 1178h1M158 1176h1M154 1178h1M138 1176h1M148 1179h1M164 1181h1M139 1183h1M152 1177h1M151 1186h1M147 1181h1M157 1174h1M145 1176h1M155 1178h1M144 1184h1M139 1179h1M149 1182h1M160 1180h1M140 1178h1M146 1175h1M150 1181h1M154 1182h1M154 1181h1M132 1181h1M145 1185h1M156 1179h1M156 1174h1M146 1181h1M150 1178h1M142 1184h1M154 1172h1M155 1182h1M155 1175h1M148 1184h1M147 1179h1M157 1181h1M153 1181h1M141 1185h1M159 1177h1M123 1186h1M155 1176h1M152 1178h1M149 1174h1M146 1182h1M156 1178h1M161 1184h1M147 1172h1M148 1176h1M137 1185h1M140 1181h1M144 1181h1M157 1182h1M160 1178h1M130 1184h1M152 1185h1M135 1180h1M150 1183h1M136 1183h1M165 1170h1M151 1175h1M145 1177h1M161 1170h1M145 1186h1M157 1179h1M149 1178h1M132 1180h1M162 1181h1M149 1172h1M162 1182h1M161 1183h1M154 1164h1M159 1184h1M146 1164h1M158 1173h1M155 1184h1M146 1184h1M144 1169h1M159 1174h1M165 1180h1M155 1177h1M144 1178h1M148 1175h1M128 1178h1M139 1180h1M126 1183h1M160 1179h1M147 1175h1M158 1181h1M156 1176h1M142 1172h1M149 1183h1M167 1185h1M141 1180h1M151 1177h1M142 1181h1M159 1179h1M154 1175h1M162 1179h1M158 1174h1M151 1172h1M134 1183h1M115 1183h1M162 1183h1M140 1163h1M113 1163h1M119 1184h1M128 1185h1M103 1181h1M135 1185h1M104 1185h1M97 1165h1M164 1162h1M161 1186h1M149 1186h1M131 1184h1M122 1180h1M97 1178h1M107 1179h1M112 1161h1M128 1161h1M136 1180h1M109 1164h1M143 1167h1M160 1182h1M139 1186h1M157 1168h1M160 1186h1M151 1185h1M100 1179h1M98 1184h1M121 1179h1M111 1164h1M129 1163h1M149 1161h1M157 1184h1M137 1181h1M105 1180h1M143 1180h1M124 1167h1M119 1165h1M112 1176h1M107 1185h1M134 1184h1M123 1164h1M97 1184h1M93 1162h1M94 1169h1M119 1167h1M128 1184h1M151 1161h1M99 1182h1M111 1183h1M136 1171h1M115 1171h1M138 1186h1M114 1161h1M103 1182h1M99 1180h1M127 1166h1M153 1165h1M129 1162h1M139 1170h1M121 1183h1M131 1162h1M160 1174h1M104 1180h1M130 1162h1M92 1185h1M155 1169h1M164 1179h1M95 1165h1M102 1161h1M158 1162h1M146 1172h1M104 1161h1M162 1184h1M129 1179h1M114 1164h1M164 1180h1M112 1182h1M112 1166h1M158 1186h1M93 1185h1M136 1185h1M98 1182h1M103 1165h1M148 1163h1M105 1182h1M120 1161h1M96 1163h1M113 1182h1M157 1171h1M163 1166h1M143 1184h1M146 1162h1M135 1162h1M97 1161h1M121 1164h1M134 1167h1M149 1163h1M123 1165h1M106 1185h1M127 1180h1M144 1168h1M103 1186h1M159 1165h1M164 1169h1M110 1184h1M138 1168h1M145 1166h1" stroke="#000" stroke-width="1" fill="none" transform="translate(0,0.5)"/>
<path d="M111 1142h1M103 1105h1M92 1131h1M103 1138h1M100 1138h1M98 1140h1M109 1115h1M104 1133h1M96 1124h1M111 1105h1M111 1133h1M112 1110h1M94 1140h1M111 1117h1M94 1101h1M107 1107h1M114 1126h1M96 1131h1M100 1149h1M113 1121h1M107 1134h1M111 1152h1M92 1111h1M106 1108h1M106 1093h1M113 1122h1M94 1131h1M99 1100h1M103 1097h1M97 1145h1M108 1088h1M110 1089h1M99 1147h1M101 1113h1M95 1153h1M93 1115h1M109 1114h1M115 1104h1M115 1146h1M108 1146h1M102 1142h1M111 1122h1M103 1134h1M101 1093h1M109 1105h1M103 1139h1M96 1089h1M94 1126h1M100 1104h1M102 1149h1M98 1115h1M113 1128h1M98 1119h1M101 1108h1M111 1109h1M107 1152h1M114 1112h1M106 1109h1M122 1095h1M127 1092h1M126 1092h1M138 1093h1M135 1097h1M118 1101h1M129 1090h1M133 1103h1M123 1088h1M121 1092h1M132 1094h1M133 1097h1M125 1090h1M126 1090h1M134 1096h1M115 1094h1M121 1086h1M135 1098h1M135 1095h1M139 1086h1M133 1088h1M137 1101h1M133 1089h1M129 1086h1M126 1099h1M137 1095h1M132 1091h1M130 1091h1M131 1088h1M134 1090h1M129 1091h1M137 1096h1M123 1087h1M131 1092h1M126 1093h1M138 1091h1M136 1089h1M127 1089h1M121 1090h1M125 1092h1M134 1094h1M135 1093h1M130 1095h1M132 1097h1M124 1094h1M129 1098h1M161 1152h1M136 1127h1M154 1141h1M129 1123h1M149 1121h1M150 1125h1M152 1152h1M174 1163h1M141 1122h1M167 1150h1M123 1107h1M148 1124h1M154 1127h1M140 1110h1M126 1105h1M128 1105h1M165 1138h1M152 1134h1M146 1139h1M160 1137h1M149 1146h1M169 1140h1M154 1134h1M157 1134h1M127 1105h1M179 1152h1M147 1145h1M121 1107h1M118 1103h1M118 1145h1M123 1132h1M136 1107h1M146 1110h1M183 1121h1M157 1130h1M160 1126h1" stroke="#555" stroke-width="1" fill="none" transform="translate(0,0.5)"/>
<rect x="90.5" y="1083.5" width="105.3" height="104.2" fill="none" stroke="#111" stroke-width="1.7"/>
<line x1="116.1" y1="1083.5" x2="116.1" y2="1187.7" stroke="#111" stroke-width="1.6"/>
<line x1="90.5" y1="1159.5" x2="195.8" y2="1159.5" stroke="#111" stroke-width="1.6"/>
<line x1="116.1" y1="1157.0" x2="195.8" y2="1157.0" stroke="#000" stroke-width="1.8" stroke-dasharray="2.8,1.5"/>
<line x1="116.1" y1="1187.7" x2="195.8" y2="1187.7" stroke="#000" stroke-width="1.8" stroke-dasharray="2.8,1.5"/>
<text x="93.3" y="1096.7" font-size="14.5">2</text>
<text x="192.5" y="1096.7" font-size="14.5" text-anchor="end">2</text>
<text x="192.5" y="1183.7" font-size="14.5" text-anchor="end">68</text>
<text transform="translate(81.4,1135.6) rotate(-90)" font-size="14.3" text-anchor="middle">CD38</text>
<text x="142.6" y="1205.3" font-size="14.5" text-anchor="middle">CD34</text>
<line x1="196.3" y1="1175.3" x2="219.8" y2="1175.3" stroke="#111" stroke-width="1.5"/>
<path d="M224.8,1175.3 L218.8,1171.7 L218.8,1178.8999999999999 Z" fill="#111"/>
<clipPath id="c6"><rect x="228.5" y="1083.5" width="104.3" height="104.2"/></clipPath>
<g fill="none" clip-path="url(#c6)">
<path d="M245.0,1195.0 241.0,1195.0 239.0,1194.6 237.5,1194.1 236.0,1193.3 234.9,1192.5 234.0,1191.5 233.0,1190.0 232.3,1188.0 231.7,1185.0 231.2,1181.5 231.1,1178.5 231.2,1176.0 231.6,1173.5 232.3,1171.5 233.0,1170.4 234.0,1169.6 236.0,1169.3 236.5,1169.0 239.0,1166.4 241.5,1164.9 243.5,1164.3 245.0,1164.1 250.0,1164.5 251.5,1164.4 252.5,1164.0 253.5,1163.3 256.0,1160.8 258.0,1158.3 260.0,1155.3 266.1,1145.0 272.0,1135.9 273.5,1133.3 274.9,1129.5 276.9,1121.0 277.8,1118.5 278.8,1116.5 280.0,1114.5 281.6,1112.5 283.5,1110.5 285.5,1108.8 289.5,1106.3 293.0,1104.7 297.0,1103.6 301.0,1103.1 305.0,1103.2 309.0,1103.9 312.5,1105.3 315.5,1107.2 316.9,1108.5 318.2,1110.0 319.1,1111.5 320.1,1113.5 320.6,1115.5 320.9,1117.5 320.7,1121.5 319.6,1125.5 316.5,1132.7 315.7,1135.5 315.3,1138.0 314.6,1147.5 313.8,1151.5 312.7,1155.5 311.1,1159.5 309.2,1163.5 306.8,1167.5 304.2,1171.0 300.5,1175.0 296.0,1178.9 291.5,1181.8 286.5,1184.2 282.5,1185.7 279.0,1186.6 268.0,1188.8 264.0,1189.8 251.0,1194.0 248.0,1194.6 245.0,1195.0" stroke="#606060" stroke-width="0.55"/>
<path d="M284.0,1179.5 281.5,1179.8 278.5,1179.9 276.0,1179.6 273.5,1179.0 271.5,1178.3 269.5,1177.3 267.7,1176.0 266.4,1174.5 265.5,1173.0 264.8,1171.0 264.4,1169.0 264.4,1167.0 264.5,1164.5 265.0,1161.5 266.8,1155.0 268.2,1151.0 270.2,1146.5 272.3,1142.5 276.0,1136.2 277.3,1133.5 278.2,1130.5 279.0,1124.0 279.8,1120.5 281.3,1117.0 283.7,1113.5 286.0,1111.2 288.5,1109.3 291.5,1107.6 295.0,1106.3 298.5,1105.5 302.0,1105.2 305.0,1105.4 308.5,1106.2 310.5,1107.0 312.5,1108.2 314.2,1109.5 315.6,1111.0 316.6,1112.5 317.5,1114.5 318.1,1116.5 318.3,1118.5 318.0,1121.5 317.2,1124.5 316.2,1127.0 313.3,1132.5 312.4,1135.0 312.0,1137.5 311.7,1144.0 311.4,1147.5 310.7,1151.0 309.7,1154.5 307.7,1159.5 305.6,1163.5 302.8,1167.5 299.5,1171.2 296.0,1174.2 292.0,1176.7 288.0,1178.5 284.0,1179.5 M246.0,1177.6 244.0,1177.9 242.0,1177.3 240.3,1176.0 239.1,1174.0 238.9,1172.0 239.5,1170.0 240.6,1168.5 242.5,1167.3 243.5,1167.1 245.0,1167.1 247.0,1167.7 248.5,1169.0 249.2,1170.0 249.6,1171.0 249.8,1173.0 249.2,1175.0 248.0,1176.5 247.0,1177.2 246.0,1177.6" stroke="#5b5b5b" stroke-width="0.58"/>
<path d="M288.0,1174.0 286.0,1174.4 283.5,1174.5 281.5,1174.2 279.5,1173.7 277.5,1172.7 276.0,1171.6 274.8,1170.5 273.6,1169.0 272.8,1167.5 272.1,1165.5 271.6,1163.5 271.3,1161.0 271.6,1156.0 272.7,1151.0 273.7,1148.0 275.2,1144.5 280.0,1135.5 281.0,1133.2 281.6,1130.5 281.8,1124.5 282.3,1121.5 283.4,1118.5 285.2,1115.5 287.0,1113.4 289.5,1111.4 292.0,1109.9 295.0,1108.6 298.0,1107.8 301.0,1107.5 304.0,1107.6 306.5,1108.2 308.5,1108.9 310.0,1109.7 311.5,1110.7 313.0,1112.2 314.2,1114.0 314.9,1115.5 315.3,1117.0 315.5,1119.0 315.3,1121.5 314.4,1124.5 313.2,1127.0 310.3,1132.0 309.3,1134.5 308.9,1137.0 308.8,1146.0 308.4,1149.0 307.7,1152.0 306.3,1156.0 304.7,1159.5 302.6,1163.0 300.0,1166.3 297.5,1168.9 294.5,1171.2 291.5,1172.8 288.0,1174.0 M244.0,1174.0 242.8,1173.5 242.5,1173.0 242.3,1172.0 242.5,1171.3 243.0,1170.7 243.5,1170.4 244.5,1170.4 245.6,1171.0 245.9,1171.5 246.0,1172.5 245.4,1173.5 244.5,1174.0 244.0,1174.0" stroke="#565656" stroke-width="0.61"/>
<path d="M287.5,1170.6 285.5,1170.6 284.0,1170.4 282.5,1170.0 281.0,1169.2 279.5,1168.2 278.5,1167.2 276.8,1164.5 275.6,1161.0 275.2,1157.0 275.6,1152.5 276.6,1148.5 278.8,1143.0 283.0,1135.5 284.2,1133.0 284.7,1130.5 284.5,1125.0 284.8,1122.0 285.8,1119.0 287.3,1116.5 289.0,1114.6 291.0,1112.9 293.0,1111.7 295.5,1110.6 298.0,1110.0 300.5,1109.7 303.0,1109.8 305.5,1110.3 308.5,1111.7 310.0,1112.8 311.0,1113.9 312.4,1116.5 312.8,1118.0 312.9,1119.5 312.6,1122.0 311.7,1124.5 310.7,1126.5 307.5,1131.5 306.5,1134.0 306.3,1136.5 306.6,1142.5 306.6,1145.5 306.1,1149.0 305.3,1152.5 303.7,1156.5 302.2,1159.5 300.1,1162.5 298.0,1164.9 295.5,1167.1 293.0,1168.8 290.5,1169.9 287.5,1170.6" stroke="#515151" stroke-width="0.63"/>
<path d="M288.5,1167.5 287.0,1167.6 285.5,1167.4 283.1,1166.5 281.0,1164.8 279.4,1162.5 278.3,1159.5 277.9,1156.0 278.1,1152.0 278.9,1148.5 279.9,1145.5 281.3,1142.5 286.0,1135.0 287.2,1132.5 287.6,1130.0 287.1,1125.0 287.2,1122.5 287.9,1120.0 289.3,1117.5 290.6,1116.0 292.3,1114.5 294.0,1113.5 296.0,1112.6 298.0,1112.0 300.0,1111.8 302.0,1111.8 304.0,1112.2 306.5,1113.2 308.6,1115.0 309.3,1116.0 310.0,1117.5 310.4,1120.0 310.1,1122.0 309.2,1124.5 307.7,1127.0 304.8,1131.0 303.8,1133.5 303.7,1135.5 304.5,1141.5 304.7,1144.5 304.4,1148.0 303.7,1151.5 302.6,1154.5 301.2,1157.5 299.5,1160.1 297.5,1162.5 295.5,1164.4 293.0,1166.0 290.5,1167.1 288.5,1167.5" stroke="#4c4c4c" stroke-width="0.66"/>
<path d="M290.5,1165.0 288.0,1165.4 285.5,1164.9 283.5,1163.9 281.8,1162.0 280.5,1159.5 279.8,1156.5 279.7,1153.5 280.2,1150.0 281.4,1146.0 283.0,1142.5 285.0,1139.3 289.1,1134.0 290.1,1132.0 290.3,1130.0 289.4,1125.5 289.2,1123.0 289.6,1120.5 290.7,1118.0 291.8,1116.5 293.0,1115.3 295.5,1113.8 298.0,1113.1 301.5,1113.2 303.0,1113.6 304.5,1114.3 306.6,1116.0 307.9,1118.0 308.4,1120.5 308.2,1123.5 307.8,1125.0 306.8,1127.0 305.0,1129.2 301.9,1131.5 301.3,1132.5 301.2,1133.5 301.3,1135.0 302.6,1140.0 303.1,1143.0 303.2,1146.0 302.7,1149.5 301.9,1152.5 300.9,1155.0 299.5,1157.5 298.1,1159.5 296.5,1161.3 294.5,1163.0 292.5,1164.2 290.5,1165.0" stroke="#474747" stroke-width="0.69"/>
<path d="M298.5,1131.6 297.0,1131.6 295.5,1131.3 294.0,1130.3 292.5,1128.8 291.2,1127.0 290.7,1126.0 290.1,1124.0 290.0,1122.0 290.2,1120.5 290.7,1119.0 291.9,1117.0 293.0,1115.8 294.5,1114.7 296.5,1113.8 299.5,1113.5 301.5,1113.7 303.0,1114.3 304.5,1115.2 305.9,1116.5 306.7,1117.5 307.4,1119.0 307.8,1120.5 307.9,1122.5 307.7,1124.0 307.2,1125.5 306.4,1127.0 305.0,1128.7 303.5,1129.9 302.0,1130.7 300.5,1131.3 298.5,1131.6 M290.0,1163.1 288.0,1163.2 286.0,1162.6 284.5,1161.7 283.1,1160.0 282.1,1158.0 281.5,1155.5 281.4,1153.0 281.8,1150.0 282.4,1147.5 283.4,1145.0 284.7,1142.5 286.5,1139.9 289.0,1137.2 291.5,1135.1 294.0,1133.4 295.5,1132.9 296.5,1133.3 298.0,1134.8 299.5,1137.1 300.6,1139.5 301.2,1141.5 301.6,1144.0 301.7,1146.5 301.4,1149.0 300.8,1151.5 299.8,1154.0 298.5,1156.4 297.0,1158.5 295.5,1160.1 293.5,1161.6 291.5,1162.6 290.0,1163.1" stroke="#424242" stroke-width="0.72"/>
<path d="M301.5,1130.5 300.0,1130.9 298.0,1131.0 296.5,1130.8 295.0,1130.1 293.5,1129.1 292.4,1128.0 291.4,1126.5 290.7,1125.0 290.3,1122.0 290.7,1120.0 291.3,1118.5 292.3,1117.0 293.5,1115.7 295.0,1114.7 296.5,1114.1 298.0,1113.8 300.0,1113.7 302.0,1114.2 303.0,1114.6 304.5,1115.6 305.9,1117.0 307.2,1119.5 307.6,1122.5 307.3,1124.5 306.7,1126.0 305.7,1127.5 304.5,1128.8 303.0,1129.9 301.5,1130.5 M290.5,1160.5 288.5,1160.6 287.0,1160.2 285.5,1159.1 284.7,1158.0 283.8,1156.0 283.4,1154.0 283.4,1152.0 283.7,1149.5 284.4,1147.0 285.3,1145.0 286.5,1142.9 288.0,1141.0 289.5,1139.6 291.5,1138.2 293.5,1137.5 295.0,1137.5 296.5,1138.1 297.5,1139.0 298.5,1140.3 299.1,1141.5 299.6,1143.0 299.9,1145.0 299.9,1147.0 299.7,1149.0 299.2,1151.0 298.4,1153.0 297.5,1154.8 296.4,1156.5 295.0,1158.0 293.5,1159.2 292.0,1160.1 290.5,1160.5" stroke="#3d3d3d" stroke-width="0.75"/>
<path d="M300.5,1130.5 299.0,1130.7 297.5,1130.6 296.0,1130.2 294.5,1129.4 293.0,1128.2 292.0,1127.0 291.2,1125.5 290.8,1124.0 290.6,1122.0 290.8,1120.5 291.3,1119.0 292.2,1117.5 293.1,1116.5 294.5,1115.3 295.5,1114.8 297.5,1114.1 299.0,1114.0 301.0,1114.2 303.5,1115.2 305.0,1116.5 305.9,1117.5 306.7,1119.0 307.2,1120.5 307.3,1122.5 307.1,1124.0 306.6,1125.5 305.8,1127.0 305.0,1128.0 303.5,1129.3 302.0,1130.1 300.5,1130.5 M291.0,1157.6 289.5,1157.7 288.5,1157.4 287.5,1156.8 286.5,1155.6 286.0,1154.5 285.6,1153.0 285.6,1151.5 285.8,1149.5 286.4,1147.5 287.0,1146.0 287.9,1144.5 289.0,1143.1 290.3,1142.0 291.5,1141.3 293.0,1140.8 294.0,1140.8 295.0,1141.1 296.0,1141.8 297.2,1143.5 297.8,1146.0 297.7,1149.0 296.8,1152.0 295.3,1154.5 293.3,1156.5 292.0,1157.3 291.0,1157.6" stroke="#383838" stroke-width="0.78"/>
<path d="M301.0,1130.2 299.5,1130.4 298.0,1130.4 296.5,1130.1 295.0,1129.4 294.0,1128.8 292.7,1127.5 291.7,1126.0 291.2,1124.5 290.9,1123.0 290.9,1121.5 291.4,1119.5 292.1,1118.0 293.4,1116.5 294.5,1115.6 296.0,1114.8 297.5,1114.4 299.0,1114.2 300.5,1114.3 302.0,1114.8 303.5,1115.5 304.5,1116.3 305.6,1117.5 306.4,1119.0 306.9,1120.5 307.1,1122.0 307.0,1123.5 306.6,1125.0 305.9,1126.5 304.0,1128.6 302.5,1129.6 301.0,1130.2 M291.0,1153.6 290.0,1153.3 289.5,1153.0 289.0,1152.3 288.6,1150.5 288.8,1149.0 289.5,1147.3 290.5,1146.0 292.0,1145.1 293.0,1145.0 294.0,1145.5 294.6,1146.5 294.9,1148.0 294.7,1149.5 294.0,1151.3 293.1,1152.5 292.0,1153.3 291.0,1153.6" stroke="#333333" stroke-width="0.80"/>
<path d="M300.5,1130.0 299.0,1130.2 297.5,1130.1 296.0,1129.6 294.5,1128.8 293.5,1128.0 292.3,1126.5 291.3,1124.0 291.1,1122.5 291.2,1121.0 291.7,1119.5 292.4,1118.0 293.2,1117.0 294.5,1115.9 296.0,1115.1 297.5,1114.6 299.0,1114.5 300.5,1114.6 302.0,1115.0 303.5,1115.8 304.5,1116.7 305.6,1118.0 306.7,1120.5 306.9,1122.0 306.7,1123.5 306.3,1125.0 305.6,1126.5 304.5,1127.8 303.5,1128.7 302.0,1129.5 300.5,1130.0" stroke="#2e2e2e" stroke-width="0.83"/>
<path d="M301.0,1129.6 299.5,1129.9 298.0,1129.9 295.5,1129.1 294.0,1128.1 293.0,1127.0 292.3,1126.0 291.7,1124.5 291.4,1123.0 291.4,1121.5 291.7,1120.0 292.4,1118.5 293.5,1117.1 294.5,1116.2 295.6,1115.5 297.0,1115.0 298.5,1114.7 300.0,1114.8 302.5,1115.5 304.0,1116.5 304.9,1117.5 305.6,1118.5 306.3,1120.0 306.6,1121.5 306.6,1123.0 306.2,1124.5 305.6,1126.0 304.5,1127.5 303.5,1128.4 302.5,1129.0 301.0,1129.6" stroke="#292929" stroke-width="0.86"/>
<path d="M300.0,1129.6 298.5,1129.6 297.0,1129.4 295.9,1129.0 294.5,1128.1 293.5,1127.2 292.6,1126.0 291.7,1123.5 291.7,1122.0 291.9,1120.5 292.5,1119.0 293.1,1118.0 294.0,1117.0 295.3,1116.0 296.5,1115.4 298.0,1115.0 299.5,1115.0 301.0,1115.2 302.5,1115.8 303.5,1116.5 304.5,1117.4 305.3,1118.5 306.0,1120.0 306.2,1121.0 306.3,1122.5 306.1,1124.0 305.6,1125.5 305.0,1126.5 304.0,1127.6 302.8,1128.5 301.5,1129.2 300.0,1129.6" stroke="#242424" stroke-width="0.89"/>
<path d="M301.0,1129.0 299.5,1129.3 298.0,1129.3 296.8,1129.0 295.5,1128.4 294.2,1127.5 293.3,1126.5 292.5,1125.0 292.2,1124.0 292.0,1121.5 292.4,1120.0 293.0,1118.7 293.9,1117.5 295.0,1116.6 297.3,1115.5 300.0,1115.4 301.0,1115.6 302.5,1116.2 303.6,1117.0 304.6,1118.0 305.5,1119.5 305.8,1120.5 306.0,1123.0 305.6,1124.5 305.0,1125.8 304.1,1127.0 303.0,1128.0 301.0,1129.0" stroke="#1f1f1f" stroke-width="0.92"/>
<path d="M301.0,1128.6 298.5,1128.9 297.0,1128.7 295.5,1128.0 294.5,1127.2 293.5,1126.1 292.5,1124.0 292.4,1121.5 293.0,1119.4 294.5,1117.4 295.8,1116.5 297.0,1116.0 299.5,1115.7 301.0,1115.9 302.3,1116.5 303.5,1117.4 304.5,1118.5 305.4,1120.5 305.6,1123.0 305.0,1125.1 303.5,1127.1 302.3,1128.0 301.0,1128.6" stroke="#1a1a1a" stroke-width="0.94"/>
<path d="M301.0,1128.0 298.5,1128.4 296.5,1127.9 294.5,1126.5 293.5,1125.1 293.1,1124.0 292.9,1123.0 292.9,1121.5 293.5,1119.6 295.0,1117.7 296.0,1117.0 297.1,1116.5 299.5,1116.2 301.0,1116.5 302.0,1116.9 303.0,1117.6 303.8,1118.5 304.5,1119.5 304.9,1120.5 305.1,1122.5 304.5,1124.8 303.0,1126.8 301.0,1128.0" stroke="#151515" stroke-width="0.97"/>
<path d="M299.5,1127.6 297.5,1127.5 295.5,1126.5 294.6,1125.5 294.0,1124.5 293.6,1123.0 293.8,1121.0 294.0,1120.3 294.8,1119.0 296.5,1117.6 298.5,1117.0 300.5,1117.1 302.3,1118.0 303.6,1119.5 304.0,1120.2 304.3,1121.5 304.3,1122.5 304.0,1123.9 303.1,1125.5 301.3,1127.0 299.5,1127.6" stroke="#101010" stroke-width="1.00"/>
</g>
<path d="M332.8,1133.1 V1083.5 H228.5 V1187.7 H275.7" fill="none" stroke="#111" stroke-width="1.7"/>
<line x1="275.7" y1="1083.5" x2="275.7" y2="1187.7" stroke="#111" stroke-width="1.6"/>
<line x1="275.7" y1="1133.1" x2="333.55" y2="1133.1" stroke="#111" stroke-width="1.6"/>
<line x1="333.0" y1="1133.1" x2="333.0" y2="1188.6000000000001" stroke="#000" stroke-width="1.9" stroke-dasharray="2.8,1.5"/>
<line x1="275.7" y1="1188.0" x2="333.7" y2="1188.0" stroke="#000" stroke-width="1.9" stroke-dasharray="2.8,1.5"/>
<text x="330.0" y="1096.7" font-size="14.5" text-anchor="end">50</text>
<text x="330.0" y="1183.9" font-size="14.5" text-anchor="end">36</text>
<text transform="translate(218.9,1135.6) rotate(-90)" font-size="14.3" text-anchor="middle">CD45RA</text>
<text x="280.1" y="1205.1000000000001" font-size="14.5" text-anchor="middle">Thy1</text>
<line x1="333.3" y1="1157.6" x2="358.2" y2="1157.6" stroke="#111" stroke-width="1.5"/>
<path d="M362.7,1157.6 L357.2,1153.8 L357.2,1161.3999999999999 Z" fill="#111"/>
<clipPath id="c7"><rect x="370.5" y="1083.5" width="105.0" height="104.2"/></clipPath>
<g fill="none" clip-path="url(#c7)">
<path d="M419.0,1148.5 415.5,1148.4 412.5,1147.7 409.0,1146.2 406.0,1144.1 402.8,1141.0 398.0,1134.9 396.3,1133.0 394.0,1131.3 389.0,1128.3 386.8,1126.5 385.9,1125.5 385.0,1124.0 384.3,1121.5 384.4,1120.0 384.8,1118.5 385.6,1117.0 386.8,1115.5 389.5,1113.5 395.0,1110.5 397.3,1109.0 399.0,1107.5 403.5,1102.9 406.0,1100.7 409.0,1098.8 411.5,1097.7 414.5,1096.9 417.0,1096.6 419.0,1096.7 421.0,1097.0 425.0,1098.3 428.5,1100.4 431.9,1103.5 434.8,1107.5 436.8,1111.5 438.2,1116.5 438.8,1121.0 438.6,1126.0 438.2,1128.5 437.4,1131.5 435.8,1135.5 434.7,1137.5 433.1,1140.0 430.0,1143.5 426.5,1146.1 423.0,1147.7 421.0,1148.3 419.0,1148.5" stroke="#606060" stroke-width="0.60"/>
<path d="M419.0,1146.5 416.0,1146.5 413.0,1145.8 410.0,1144.5 407.0,1142.4 403.7,1139.0 399.0,1132.4 397.5,1130.6 395.5,1128.7 391.8,1126.0 390.3,1124.5 389.3,1123.0 388.9,1121.0 389.3,1119.0 390.8,1117.0 392.5,1115.6 396.5,1113.0 398.5,1111.4 404.3,1105.0 407.0,1102.6 409.5,1100.9 412.0,1099.8 414.5,1099.0 417.0,1098.7 419.0,1098.8 421.0,1099.1 424.5,1100.3 427.5,1102.1 430.6,1105.0 433.2,1108.5 435.1,1112.5 436.3,1116.5 436.9,1121.0 436.7,1125.5 435.9,1130.0 434.2,1134.5 432.3,1138.0 429.4,1141.5 426.0,1144.2 422.5,1145.8 419.0,1146.5" stroke="#5b5b5b" stroke-width="0.64"/>
<path d="M419.5,1144.5 416.5,1144.6 413.0,1143.8 410.0,1142.3 407.1,1140.0 405.3,1138.0 403.1,1135.0 399.5,1128.9 396.1,1124.0 395.4,1122.5 395.2,1121.5 395.3,1120.0 396.4,1118.0 404.4,1108.0 406.5,1105.7 409.0,1103.6 411.5,1102.2 414.0,1101.3 417.0,1100.8 420.5,1101.0 424.0,1102.2 427.0,1104.1 429.5,1106.5 431.6,1109.5 433.4,1113.0 434.6,1117.0 435.1,1121.0 435.0,1125.0 434.2,1129.5 432.8,1133.5 431.2,1136.5 428.8,1139.5 426.0,1142.0 423.0,1143.6 421.0,1144.3 419.5,1144.5" stroke="#565656" stroke-width="0.68"/>
<path d="M421.0,1142.5 419.5,1142.8 417.5,1142.9 414.5,1142.5 411.5,1141.2 408.4,1139.0 405.7,1136.0 403.3,1132.0 400.8,1126.5 400.1,1124.5 399.7,1122.5 399.7,1120.0 400.8,1117.0 403.3,1112.5 405.8,1109.0 408.0,1106.6 410.5,1104.7 413.5,1103.2 416.0,1102.6 419.0,1102.6 422.0,1103.3 425.0,1104.7 427.5,1106.8 429.4,1109.0 431.3,1112.0 432.6,1115.5 433.5,1119.5 433.7,1123.0 433.3,1127.0 432.2,1131.0 430.9,1134.0 429.0,1137.0 426.5,1139.6 424.0,1141.3 421.0,1142.5" stroke="#515151" stroke-width="0.72"/>
<path d="M421.0,1141.1 418.0,1141.5 415.0,1141.1 412.0,1139.9 409.0,1137.7 406.7,1135.0 404.6,1131.5 402.8,1127.0 402.0,1123.5 402.0,1120.5 402.6,1117.5 404.2,1114.0 406.4,1110.5 408.6,1108.0 411.0,1106.1 413.5,1104.8 416.5,1104.1 419.5,1104.1 422.0,1104.8 424.5,1106.1 426.8,1108.0 428.9,1110.5 430.3,1113.0 431.6,1116.5 432.3,1120.0 432.4,1123.5 432.1,1127.0 431.1,1130.5 429.8,1133.5 428.1,1136.0 426.0,1138.3 423.5,1140.0 421.0,1141.1" stroke="#4c4c4c" stroke-width="0.76"/>
<path d="M420.5,1140.1 417.5,1140.4 415.0,1140.0 412.0,1138.7 409.8,1137.0 407.5,1134.5 405.7,1131.5 404.3,1128.0 403.3,1124.0 403.3,1121.0 403.8,1118.0 405.2,1114.5 407.0,1111.5 409.1,1109.0 411.5,1107.1 414.0,1105.8 416.5,1105.2 419.0,1105.2 421.5,1105.8 424.0,1107.0 426.4,1109.0 428.4,1111.5 429.7,1114.0 430.8,1117.0 431.4,1120.0 431.5,1123.0 431.2,1126.5 430.3,1130.0 429.2,1132.5 427.7,1135.0 425.5,1137.4 423.0,1139.1 420.5,1140.1" stroke="#474747" stroke-width="0.80"/>
<path d="M420.0,1139.1 417.0,1139.3 414.5,1138.8 412.0,1137.5 410.0,1135.9 408.0,1133.5 406.3,1130.5 405.0,1127.0 404.4,1123.5 404.5,1120.5 405.1,1117.5 406.3,1114.5 407.8,1112.0 410.0,1109.5 412.0,1108.0 414.5,1106.8 417.0,1106.3 419.5,1106.4 422.0,1107.1 424.0,1108.3 426.0,1110.0 427.9,1112.5 429.2,1115.0 430.1,1118.0 430.6,1121.0 430.7,1124.0 430.3,1127.0 429.4,1130.0 428.2,1132.5 426.5,1135.0 424.5,1136.9 422.5,1138.2 420.0,1139.1" stroke="#424242" stroke-width="0.84"/>
<path d="M419.5,1138.0 417.5,1138.2 415.0,1137.7 412.5,1136.5 410.5,1134.9 408.6,1132.5 407.2,1130.0 406.1,1127.0 405.6,1124.0 405.6,1121.0 406.1,1118.0 407.0,1115.5 408.5,1113.0 410.5,1110.6 412.5,1109.0 415.0,1107.8 417.0,1107.5 419.5,1107.6 421.5,1108.2 423.5,1109.3 425.5,1111.0 427.0,1113.0 428.3,1115.5 429.2,1118.0 429.7,1121.0 429.7,1124.0 429.3,1127.0 428.6,1129.5 427.4,1132.0 426.0,1134.0 424.0,1136.0 422.0,1137.2 419.5,1138.0" stroke="#3d3d3d" stroke-width="0.88"/>
<path d="M420.5,1136.6 418.5,1137.0 416.0,1136.8 414.0,1136.1 412.0,1134.8 410.2,1133.0 408.6,1130.5 407.3,1127.5 406.8,1125.0 406.6,1122.0 406.9,1119.5 407.6,1117.0 408.8,1114.5 410.2,1112.5 412.0,1110.8 414.0,1109.5 416.5,1108.7 419.0,1108.7 421.0,1109.2 423.0,1110.3 424.5,1111.5 426.0,1113.3 427.2,1115.5 428.2,1118.0 428.7,1120.5 428.8,1123.0 428.6,1125.5 428.0,1128.0 427.0,1130.5 425.8,1132.5 424.1,1134.5 422.5,1135.7 420.5,1136.6" stroke="#383838" stroke-width="0.93"/>
<path d="M419.5,1135.6 417.5,1135.8 415.5,1135.4 413.5,1134.5 411.7,1133.0 410.1,1131.0 409.0,1129.0 408.1,1126.5 407.7,1124.0 407.7,1121.5 408.1,1119.0 409.0,1116.5 410.1,1114.5 411.5,1112.7 413.0,1111.5 415.0,1110.4 417.0,1109.9 418.5,1109.9 420.5,1110.3 422.5,1111.3 424.0,1112.6 425.5,1114.5 426.6,1116.5 427.3,1118.5 427.8,1121.0 427.8,1123.5 427.5,1126.0 426.8,1128.5 425.9,1130.5 424.5,1132.5 423.0,1133.9 421.5,1134.9 419.5,1135.6" stroke="#333333" stroke-width="0.97"/>
<path d="M418.5,1134.5 416.5,1134.4 415.0,1133.9 413.5,1133.1 412.0,1131.7 410.7,1130.0 409.7,1128.0 409.1,1126.0 408.7,1123.5 408.8,1121.0 409.2,1119.0 409.9,1117.0 411.1,1115.0 412.5,1113.4 414.0,1112.2 415.5,1111.5 417.5,1111.1 419.5,1111.3 421.0,1111.8 422.5,1112.8 423.8,1114.0 424.9,1115.5 425.9,1117.5 426.5,1119.5 426.9,1122.0 426.8,1124.5 426.4,1126.5 425.8,1128.5 424.7,1130.5 423.5,1132.0 422.0,1133.3 420.5,1134.1 418.5,1134.5" stroke="#2e2e2e" stroke-width="1.01"/>
<path d="M419.5,1133.1 418.0,1133.3 416.5,1133.1 415.0,1132.6 413.4,1131.5 412.0,1130.0 411.1,1128.5 410.3,1126.5 409.9,1124.5 409.8,1122.5 410.0,1120.5 410.5,1118.5 411.4,1116.5 412.5,1115.0 414.0,1113.7 415.5,1112.8 417.0,1112.4 418.5,1112.4 420.0,1112.8 421.5,1113.5 422.7,1114.5 423.9,1116.0 424.8,1117.5 425.3,1119.0 425.8,1121.0 425.9,1123.0 425.7,1125.0 425.2,1127.0 424.5,1128.8 423.5,1130.3 422.4,1131.5 421.0,1132.5 419.5,1133.1" stroke="#292929" stroke-width="1.05"/>
<path d="M418.5,1132.0 417.0,1132.0 416.0,1131.7 414.7,1131.0 413.5,1130.0 412.4,1128.5 411.6,1127.0 411.1,1125.5 410.9,1124.0 411.0,1122.4 412.0,1118.5 412.9,1116.5 413.7,1115.5 415.0,1114.5 416.0,1114.0 417.5,1113.7 419.0,1113.8 420.0,1114.1 421.5,1115.0 422.5,1116.0 424.0,1118.5 424.5,1120.0 424.9,1122.0 424.8,1124.0 424.6,1125.5 423.9,1127.5 423.1,1129.0 422.0,1130.4 421.0,1131.2 420.0,1131.7 418.5,1132.0" stroke="#242424" stroke-width="1.09"/>
<path d="M420.0,1130.6 419.0,1130.9 418.0,1130.9 417.0,1130.7 415.5,1130.0 414.5,1129.2 413.5,1128.0 412.9,1127.0 412.3,1125.5 412.2,1124.0 412.5,1123.2 413.0,1122.7 415.0,1122.0 415.7,1121.0 415.5,1119.8 414.2,1118.0 414.4,1117.0 415.5,1115.9 417.0,1115.2 419.0,1115.3 420.0,1115.7 421.2,1116.5 422.8,1118.5 423.6,1121.0 423.7,1124.0 423.1,1126.5 421.9,1129.0 421.0,1130.0 420.0,1130.6" stroke="#1f1f1f" stroke-width="1.13"/>
<path d="M419.0,1130.1 417.5,1129.9 416.5,1129.4 415.5,1128.5 414.0,1126.5 413.6,1125.0 413.8,1124.0 415.7,1122.5 416.4,1121.5 416.6,1120.5 416.1,1118.0 416.3,1117.5 417.0,1116.9 418.0,1116.6 419.0,1116.8 420.0,1117.2 421.3,1118.5 422.3,1120.5 422.7,1122.5 422.5,1124.7 421.5,1128.0 420.5,1129.4 419.0,1130.1" stroke="#1a1a1a" stroke-width="1.17"/>
<path d="M419.5,1129.2 419.0,1129.3 418.0,1129.2 417.0,1128.5 416.0,1127.0 415.3,1125.5 415.3,1124.5 417.1,1122.0 418.0,1119.2 418.5,1118.8 419.5,1119.0 420.5,1120.0 421.0,1121.0 421.3,1122.5 420.8,1127.5 420.4,1128.5 419.5,1129.2" stroke="#151515" stroke-width="1.21"/>
<path d="M419.0,1128.7 418.1,1128.5 417.5,1127.9 417.2,1127.0 417.0,1125.0 417.5,1123.5 418.5,1122.1 419.0,1121.8 419.5,1122.2 419.6,1122.5 419.6,1125.0 420.1,1127.0 419.9,1128.0 419.5,1128.5 419.0,1128.7" stroke="#101010" stroke-width="1.25"/>
</g>
<rect x="370.5" y="1083.5" width="105.0" height="104.2" fill="none" stroke="#111" stroke-width="1.7"/>
<path d="M411.8,1083.5 V1160.6 H475.5" fill="none" stroke="#111" stroke-width="1.6"/>
<text x="473.6" y="1096.5" font-size="14.5" text-anchor="end">68</text>
<text transform="translate(361.4,1135.6) rotate(-90)" font-size="14.3" text-anchor="middle">Thy1</text>
<text x="424.5" y="1205.4" font-size="14.5" text-anchor="middle" textLength="42.3" lengthAdjust="spacingAndGlyphs">CD49f</text>
<path d="M89.4 767.2h-2.2M101.3 862.5v2.2M89.4 791.0h-2.2M125.1 862.5v2.2M89.4 814.8h-2.2M148.9 862.5v2.2M89.4 838.6h-2.2M172.7 862.5v2.2M227.3 766.4h-2.2M239.2 862.2v2.2M227.3 790.2h-2.2M263.0 862.2v2.2M227.3 814.0h-2.2M286.8 862.2v2.2M227.3 837.8h-2.2M310.6 862.2v2.2M370.1 767.0h-2.2M382.0 862.7v2.2M370.1 790.8h-2.2M405.8 862.7v2.2M370.1 814.6h-2.2M429.6 862.7v2.2M370.1 838.4h-2.2M453.4 862.7v2.2M89.8 950.8h-2.2M101.7 1046.2v2.2M89.8 974.6h-2.2M125.5 1046.2v2.2M89.8 998.4h-2.2M149.3 1046.2v2.2M89.8 1022.2h-2.2M173.1 1046.2v2.2M227.8 950.8h-2.2M239.7 1046.2v2.2M227.8 974.6h-2.2M263.5 1046.2v2.2M227.8 998.4h-2.2M287.3 1046.2v2.2M227.8 1022.2h-2.2M311.1 1046.2v2.2M369.8 950.8h-2.2M381.7 1046.2v2.2M369.8 974.6h-2.2M405.5 1046.2v2.2M369.8 998.4h-2.2M429.3 1046.2v2.2M369.8 1022.2h-2.2M453.1 1046.2v2.2M89.8 1093.0h-2.2M101.7 1188.4v2.2M89.8 1116.8h-2.2M125.5 1188.4v2.2M89.8 1140.6h-2.2M149.3 1188.4v2.2M89.8 1164.4h-2.2M173.1 1188.4v2.2M227.8 1093.0h-2.2M239.7 1188.4v2.2M227.8 1116.8h-2.2M263.5 1188.4v2.2M227.8 1140.6h-2.2M287.3 1188.4v2.2M227.8 1164.4h-2.2M311.1 1188.4v2.2M369.8 1093.0h-2.2M381.7 1188.4v2.2M369.8 1116.8h-2.2M405.5 1188.4v2.2M369.8 1140.6h-2.2M429.3 1188.4v2.2M369.8 1164.4h-2.2M453.1 1188.4v2.2" stroke="#444" stroke-width="1" fill="none"/>
</svg>
</body></html>
